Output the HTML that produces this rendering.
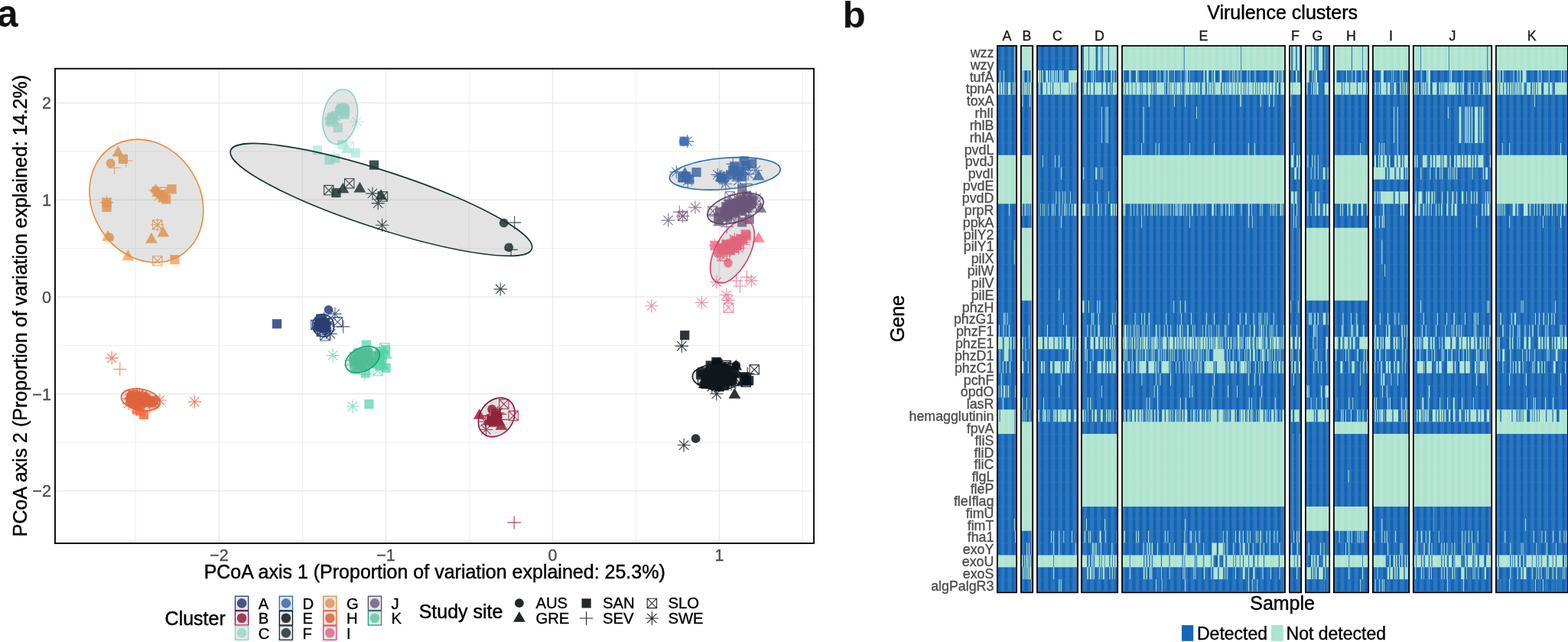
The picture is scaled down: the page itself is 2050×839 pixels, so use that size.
<!DOCTYPE html>
<html lang="en"><head><meta charset="utf-8"><title>PCoA and virulence clusters</title>
<style>html,body{margin:0;padding:0;background:#fff;}body{width:2050px;height:839px;overflow:hidden;}svg{display:block;}text{font-family:"Liberation Sans", Arial, Helvetica, sans-serif;}</style></head><body>
<svg width="2050" height="839" viewBox="0 0 2050 839" role="img" aria-label="PCoA scatter plot of virulence clusters and virulence gene heatmap">
<rect width="2050" height="839" fill="#fff"/>
<text x="-4.1" y="35.4" font-size="49.6" font-weight="700" fill="#111" stroke="none">a</text>
<text x="1101.7" y="35.5" font-size="49" font-weight="700" fill="#111" stroke="none">b</text>
<g id="scatter">
<path d="M177.4 89.7V710.0M395.4 89.7V710.0M613.4 89.7V710.0M831.4 89.7V710.0M1049.4 89.7V710.0M72.0 704.9H1064.1M72.0 578.1H1064.1M72.0 451.4H1064.1M72.0 324.6H1064.1M72.0 197.9H1064.1" stroke="#ebebeb" stroke-width="0.8" fill="none"/>
<path d="M286.4 89.7V710.0M504.4 89.7V710.0M722.4 89.7V710.0M940.4 89.7V710.0M72.0 641.5H1064.1M72.0 514.8H1064.1M72.0 388.0H1064.1M72.0 261.2H1064.1M72.0 134.5H1064.1" stroke="#ebebeb" stroke-width="1.5" fill="none"/>
<g transform="translate(0.2 0.35)">
<g id="pts-G">
<path d="M154.1 190.2l7.9 13.9h-15.8z" fill="#f9a45a" fill-opacity="0.85"/>
<rect x="154.6" y="201.4" width="12.2" height="12.2" fill="#f9a45a" fill-opacity="0.85"/>
<path d="M155.7 209.7h17.4M164.4 201.0v17.4" stroke="#f9a45a" stroke-opacity="0.85" stroke-width="1.1" fill="none"/>
<circle cx="144.4" cy="212.9" r="5.9" fill="#f9a45a" fill-opacity="0.85"/>
<path d="M140.6 218.9h17.4M149.3 210.2v17.4" stroke="#f9a45a" stroke-opacity="0.85" stroke-width="1.1" fill="none"/>
<circle cx="203.0" cy="248.3" r="5.9" fill="#f9a45a" fill-opacity="0.85"/>
<path d="M194.3 248.3h17.4M203.0 239.6v17.4" stroke="#f9a45a" stroke-opacity="0.85" stroke-width="1.1" fill="none"/>
<path d="M205.0 241.3v17.4M198.8 243.8l12.3 12.3M211.2 243.8l-12.3 12.3M196.3 250.0h17.4" stroke="#f9a45a" stroke-opacity="0.85" stroke-width="1.1" fill="none"/>
<rect x="218.3" y="240.7" width="12.2" height="12.2" fill="#f9a45a" fill-opacity="0.85"/>
<rect x="210.9" y="253.9" width="12.2" height="12.2" fill="#f9a45a" fill-opacity="0.85"/>
<rect x="205.5" y="247.6" width="12.2" height="12.2" fill="#f9a45a" fill-opacity="0.85"/>
<path d="M207.3 247.1v17.4M201.2 249.7l12.3 12.3M213.5 249.7l-12.3 12.3M198.6 255.8h17.4" stroke="#f9a45a" stroke-opacity="0.85" stroke-width="1.1" fill="none"/>
<circle cx="206.0" cy="252.0" r="5.9" fill="#f9a45a" fill-opacity="0.85"/>
<path d="M200.3 256.0h17.4M209.0 247.3v17.4" stroke="#f9a45a" stroke-opacity="0.85" stroke-width="1.1" fill="none"/>
<rect x="207.9" y="250.9" width="12.2" height="12.2" fill="#f9a45a" fill-opacity="0.85"/>
<path d="M205.8 244.8h12.4v12.4h-12.4zl12.4 12.4m0 -12.4l-12.4 12.4" stroke="#f9a45a" stroke-opacity="0.85" stroke-width="1.1" fill="none"/>
<rect x="133.2" y="258.3" width="12.2" height="12.2" fill="#f9a45a" fill-opacity="0.85"/>
<path d="M139.3 255.3v17.4M133.2 257.9l12.3 12.3M145.5 257.9l-12.3 12.3M130.6 264.0h17.4" stroke="#f9a45a" stroke-opacity="0.85" stroke-width="1.1" fill="none"/>
<path d="M130.6 264.4h17.4M139.3 255.7v17.4" stroke="#f9a45a" stroke-opacity="0.85" stroke-width="1.1" fill="none"/>
<rect x="133.2" y="264.4" width="12.2" height="12.2" fill="#f9a45a" fill-opacity="0.85"/>
<path d="M199.4 287.2h12.4v12.4h-12.4zl12.4 12.4m0 -12.4l-12.4 12.4" stroke="#f9a45a" stroke-opacity="0.85" stroke-width="1.1" fill="none"/>
<path d="M205.6 284.7v17.4M199.4 287.2l12.3 12.3M211.8 287.2l-12.3 12.3M196.9 293.4h17.4" stroke="#f9a45a" stroke-opacity="0.85" stroke-width="1.1" fill="none"/>
<path d="M213.1 295.2l7.9 13.9h-15.8z" fill="#f9a45a" fill-opacity="0.85"/>
<path d="M197.8 303.4l7.9 13.9h-15.8z" fill="#f9a45a" fill-opacity="0.85"/>
<path d="M140.8 300.4l7.9 13.9h-15.8z" fill="#f9a45a" fill-opacity="0.85"/>
<circle cx="143.0" cy="309.8" r="5.9" fill="#f9a45a" fill-opacity="0.85"/>
<path d="M167.2 326.0l7.9 13.9h-15.8z" fill="#f9a45a" fill-opacity="0.85"/>
<path d="M199.4 334.4h12.4v12.4h-12.4zl12.4 12.4m0 -12.4l-12.4 12.4" stroke="#f9a45a" stroke-opacity="0.85" stroke-width="1.1" fill="none"/>
<rect x="222.2" y="332.8" width="12.2" height="12.2" fill="#f9a45a" fill-opacity="0.85"/>
</g>
<g id="pts-C">
<path d="M446.8 136.2v17.4M440.6 138.8l12.3 12.3M452.9 138.8l-12.3 12.3M438.1 144.9h17.4" stroke="#a5e9d9" stroke-opacity="0.72" stroke-width="1.1" fill="none"/>
<path d="M445.4 136.7v17.4M439.3 139.3l12.3 12.3M451.6 139.3l-12.3 12.3M436.7 145.4h17.4" stroke="#a5e9d9" stroke-opacity="0.72" stroke-width="1.1" fill="none"/>
<rect x="444.1" y="140.5" width="12.2" height="12.2" fill="#a5e9d9" fill-opacity="0.72"/>
<rect x="444.5" y="139.0" width="12.2" height="12.2" fill="#a5e9d9" fill-opacity="0.72"/>
<rect x="439.0" y="136.7" width="12.2" height="12.2" fill="#a5e9d9" fill-opacity="0.72"/>
<path d="M447.5 133.9v17.4M441.4 136.5l12.3 12.3M453.7 136.5l-12.3 12.3M438.8 142.6h17.4" stroke="#a5e9d9" stroke-opacity="0.72" stroke-width="1.1" fill="none"/>
<rect x="441.5" y="135.2" width="12.2" height="12.2" fill="#a5e9d9" fill-opacity="0.72"/>
<rect x="440.4" y="134.7" width="12.2" height="12.2" fill="#a5e9d9" fill-opacity="0.72"/>
<path d="M450.4 135.9v17.4M444.3 138.4l12.3 12.3M456.6 138.4l-12.3 12.3M441.7 144.6h17.4" stroke="#a5e9d9" stroke-opacity="0.72" stroke-width="1.1" fill="none"/>
<path d="M437.7 141.6h17.4M446.4 132.9v17.4" stroke="#a5e9d9" stroke-opacity="0.72" stroke-width="1.1" fill="none"/>
<path d="M445.6 137.0v17.4M439.5 139.5l12.3 12.3M451.8 139.5l-12.3 12.3M436.9 145.7h17.4" stroke="#a5e9d9" stroke-opacity="0.72" stroke-width="1.1" fill="none"/>
<rect x="441.6" y="135.7" width="12.2" height="12.2" fill="#a5e9d9" fill-opacity="0.72"/>
<rect x="441.5" y="138.4" width="12.2" height="12.2" fill="#a5e9d9" fill-opacity="0.72"/>
<path d="M448.7 133.3v17.4M442.6 135.8l12.3 12.3M454.9 135.8l-12.3 12.3M440.0 142.0h17.4" stroke="#a5e9d9" stroke-opacity="0.72" stroke-width="1.1" fill="none"/>
<rect x="442.6" y="137.9" width="12.2" height="12.2" fill="#a5e9d9" fill-opacity="0.72"/>
<path d="M439.9 140.5h12.4v12.4h-12.4zl12.4 12.4m0 -12.4l-12.4 12.4" stroke="#a5e9d9" stroke-opacity="0.72" stroke-width="1.1" fill="none"/>
<rect x="443.4" y="138.1" width="12.2" height="12.2" fill="#a5e9d9" fill-opacity="0.72"/>
<rect x="444.1" y="143.2" width="12.2" height="12.2" fill="#a5e9d9" fill-opacity="0.72"/>
<path d="M438.6 139.1h12.4v12.4h-12.4zl12.4 12.4m0 -12.4l-12.4 12.4" stroke="#a5e9d9" stroke-opacity="0.72" stroke-width="1.1" fill="none"/>
<path d="M446.9 136.8v17.4M440.8 139.3l12.3 12.3M453.1 139.3l-12.3 12.3M438.2 145.5h17.4" stroke="#a5e9d9" stroke-opacity="0.72" stroke-width="1.1" fill="none"/>
<rect x="443.4" y="136.0" width="12.2" height="12.2" fill="#a5e9d9" fill-opacity="0.72"/>
<path d="M442.9 138.2h12.4v12.4h-12.4zl12.4 12.4m0 -12.4l-12.4 12.4" stroke="#a5e9d9" stroke-opacity="0.72" stroke-width="1.1" fill="none"/>
<path d="M434.3 144.6v17.4M428.1 147.1l12.3 12.3M440.4 147.1l-12.3 12.3M425.6 153.3h17.4" stroke="#a5e9d9" stroke-opacity="0.72" stroke-width="1.1" fill="none"/>
<path d="M434.1 145.5v17.4M428.0 148.0l12.3 12.3M440.3 148.0l-12.3 12.3M425.4 154.2h17.4" stroke="#a5e9d9" stroke-opacity="0.72" stroke-width="1.1" fill="none"/>
<path d="M434.6 144.4v17.4M428.4 146.9l12.3 12.3M440.7 146.9l-12.3 12.3M425.9 153.1h17.4" stroke="#a5e9d9" stroke-opacity="0.72" stroke-width="1.1" fill="none"/>
<path d="M433.0 146.3v17.4M426.8 148.9l12.3 12.3M439.1 148.9l-12.3 12.3M424.3 155.0h17.4" stroke="#a5e9d9" stroke-opacity="0.72" stroke-width="1.1" fill="none"/>
<circle cx="432.5" cy="155.6" r="5.9" fill="#a5e9d9" fill-opacity="0.72"/>
<path d="M424.3 155.3h17.4M433.0 146.6v17.4" stroke="#a5e9d9" stroke-opacity="0.72" stroke-width="1.1" fill="none"/>
<path d="M429.1 149.6h17.4M437.8 140.9v17.4" stroke="#a5e9d9" stroke-opacity="0.72" stroke-width="1.1" fill="none"/>
<path d="M434.6 145.8v17.4M428.4 148.3l12.3 12.3M440.7 148.3l-12.3 12.3M425.9 154.5h17.4" stroke="#a5e9d9" stroke-opacity="0.72" stroke-width="1.1" fill="none"/>
<rect x="425.0" y="151.3" width="12.2" height="12.2" fill="#a5e9d9" fill-opacity="0.72"/>
<path d="M435.3 146.2v17.4M429.1 148.7l12.3 12.3M441.4 148.7l-12.3 12.3M426.6 154.9h17.4" stroke="#a5e9d9" stroke-opacity="0.72" stroke-width="1.1" fill="none"/>
<path d="M427.8 152.4h12.4v12.4h-12.4zl12.4 12.4m0 -12.4l-12.4 12.4" stroke="#a5e9d9" stroke-opacity="0.72" stroke-width="1.1" fill="none"/>
<rect x="429.1" y="146.3" width="12.2" height="12.2" fill="#a5e9d9" fill-opacity="0.72"/>
<path d="M436.4 147.5v17.4M430.3 150.1l12.3 12.3M442.6 150.1l-12.3 12.3M427.7 156.2h17.4" stroke="#a5e9d9" stroke-opacity="0.72" stroke-width="1.1" fill="none"/>
<path d="M436.1 146.0v17.4M430.0 148.6l12.3 12.3M442.3 148.6l-12.3 12.3M427.4 154.7h17.4" stroke="#a5e9d9" stroke-opacity="0.72" stroke-width="1.1" fill="none"/>
<path d="M436.1 148.1v17.4M429.9 150.6l12.3 12.3M442.2 150.6l-12.3 12.3M427.4 156.8h17.4" stroke="#a5e9d9" stroke-opacity="0.72" stroke-width="1.1" fill="none"/>
<path d="M435.0 144.7v17.4M428.9 147.2l12.3 12.3M441.2 147.2l-12.3 12.3M426.3 153.4h17.4" stroke="#a5e9d9" stroke-opacity="0.72" stroke-width="1.1" fill="none"/>
<path d="M433.7 147.4v17.4M427.5 150.0l12.3 12.3M439.8 150.0l-12.3 12.3M425.0 156.1h17.4" stroke="#a5e9d9" stroke-opacity="0.72" stroke-width="1.1" fill="none"/>
<path d="M434.0 144.4v17.4M427.9 147.0l12.3 12.3M440.2 147.0l-12.3 12.3M425.3 153.1h17.4" stroke="#a5e9d9" stroke-opacity="0.72" stroke-width="1.1" fill="none"/>
<rect x="435.5" y="160.5" width="12.2" height="12.2" fill="#a5e9d9" fill-opacity="0.72"/>
<path d="M466.5 149.9v17.4M460.4 152.4l12.3 12.3M472.6 152.4l-12.3 12.3M457.8 158.6h17.4" stroke="#a5e9d9" stroke-opacity="0.72" stroke-width="1.1" fill="none"/>
<rect x="408.6" y="189.7" width="12.2" height="12.2" fill="#a5e9d9" fill-opacity="0.72"/>
<rect x="441.2" y="182.6" width="12.2" height="12.2" fill="#a5e9d9" fill-opacity="0.72"/>
<path d="M449.7 185.3h12.4v12.4h-12.4zl12.4 12.4m0 -12.4l-12.4 12.4" stroke="#a5e9d9" stroke-opacity="0.72" stroke-width="1.1" fill="none"/>
<path d="M453.6 186.0l7.9 13.9h-15.8z" fill="#a5e9d9" fill-opacity="0.72"/>
<rect x="458.4" y="193.2" width="12.2" height="12.2" fill="#a5e9d9" fill-opacity="0.72"/>
<rect x="424.1" y="202.6" width="12.2" height="12.2" fill="#a5e9d9" fill-opacity="0.72"/>
<rect x="431.8" y="200.3" width="12.2" height="12.2" fill="#a5e9d9" fill-opacity="0.72"/>
<path d="M428.3 204.0h17.4M437.0 195.3v17.4" stroke="#a5e9d9" stroke-opacity="0.72" stroke-width="1.1" fill="none"/>
</g>
<g id="pts-F">
<rect x="482.7" y="209.2" width="12.2" height="12.2" fill="#1b3330" fill-opacity="0.85"/>
<path d="M423.4 242.0h12.4v12.4h-12.4zl12.4 12.4m0 -12.4l-12.4 12.4" stroke="#1b3330" stroke-opacity="0.85" stroke-width="1.1" fill="none"/>
<rect x="433.2" y="245.5" width="12.2" height="12.2" fill="#1b3330" fill-opacity="0.85"/>
<path d="M448.2 238.1l7.9 13.9h-15.8z" fill="#1b3330" fill-opacity="0.85"/>
<path d="M450.3 233.1h12.4v12.4h-12.4zl12.4 12.4m0 -12.4l-12.4 12.4" stroke="#1b3330" stroke-opacity="0.85" stroke-width="1.1" fill="none"/>
<path d="M470.2 237.2l7.9 13.9h-15.8z" fill="#1b3330" fill-opacity="0.85"/>
<path d="M486.8 243.8v17.4M480.7 246.3l12.3 12.3M492.9 246.3l-12.3 12.3M478.1 252.5h17.4" stroke="#1b3330" stroke-opacity="0.85" stroke-width="1.1" fill="none"/>
<path d="M498.0 246.7l7.9 13.9h-15.8z" fill="#1b3330" fill-opacity="0.85"/>
<path d="M494.0 250.3h12.4v12.4h-12.4zl12.4 12.4m0 -12.4l-12.4 12.4" stroke="#1b3330" stroke-opacity="0.85" stroke-width="1.1" fill="none"/>
<path d="M494.0 256.6v17.4M487.9 259.2l12.3 12.3M500.1 259.2l-12.3 12.3M485.3 265.3h17.4" stroke="#1b3330" stroke-opacity="0.85" stroke-width="1.1" fill="none"/>
<path d="M499.4 285.2v17.4M493.2 287.8l12.3 12.3M505.5 287.8l-12.3 12.3M490.7 293.9h17.4" stroke="#1b3330" stroke-opacity="0.85" stroke-width="1.1" fill="none"/>
<circle cx="658.5" cy="291.0" r="5.9" fill="#1b3330" fill-opacity="0.85"/>
<path d="M663.8 290.5h17.4M672.5 281.8v17.4" stroke="#1b3330" stroke-opacity="0.85" stroke-width="1.1" fill="none"/>
<circle cx="665.0" cy="323.0" r="5.9" fill="#1b3330" fill-opacity="0.85"/>
<path d="M659.3 326.0h17.4M668.0 317.3v17.4" stroke="#1b3330" stroke-opacity="0.85" stroke-width="1.1" fill="none"/>
<path d="M654.0 368.8v17.4M647.9 371.4l12.3 12.3M660.1 371.4l-12.3 12.3M645.3 377.5h17.4" stroke="#1b3330" stroke-opacity="0.85" stroke-width="1.1" fill="none"/>
</g>
<g id="pts-A">
<path d="M411.5 421.0h17.4M420.2 412.3v17.4" stroke="#283d7a" stroke-opacity="0.85" stroke-width="1.1" fill="none"/>
<rect x="412.7" y="416.0" width="12.2" height="12.2" fill="#283d7a" fill-opacity="0.85"/>
<path d="M418.4 421.2h12.4v12.4h-12.4zl12.4 12.4m0 -12.4l-12.4 12.4" stroke="#283d7a" stroke-opacity="0.85" stroke-width="1.1" fill="none"/>
<path d="M415.7 424.2h12.4v12.4h-12.4zl12.4 12.4m0 -12.4l-12.4 12.4" stroke="#283d7a" stroke-opacity="0.85" stroke-width="1.1" fill="none"/>
<path d="M406.5 428.4h17.4M415.2 419.7v17.4" stroke="#283d7a" stroke-opacity="0.85" stroke-width="1.1" fill="none"/>
<rect x="414.8" y="420.7" width="12.2" height="12.2" fill="#283d7a" fill-opacity="0.85"/>
<rect x="418.0" y="421.5" width="12.2" height="12.2" fill="#283d7a" fill-opacity="0.85"/>
<path d="M413.9 426.6h12.4v12.4h-12.4zl12.4 12.4m0 -12.4l-12.4 12.4" stroke="#283d7a" stroke-opacity="0.85" stroke-width="1.1" fill="none"/>
<path d="M421.5 414.4v17.4M415.3 416.9l12.3 12.3M427.6 416.9l-12.3 12.3M412.8 423.1h17.4" stroke="#283d7a" stroke-opacity="0.85" stroke-width="1.1" fill="none"/>
<circle cx="420.4" cy="424.9" r="5.9" fill="#283d7a" fill-opacity="0.85"/>
<circle cx="420.7" cy="429.1" r="5.9" fill="#283d7a" fill-opacity="0.85"/>
<path d="M414.3 425.6h17.4M423.0 416.9v17.4" stroke="#283d7a" stroke-opacity="0.85" stroke-width="1.1" fill="none"/>
<path d="M417.6 423.8h17.4M426.3 415.1v17.4" stroke="#283d7a" stroke-opacity="0.85" stroke-width="1.1" fill="none"/>
<rect x="413.8" y="417.3" width="12.2" height="12.2" fill="#283d7a" fill-opacity="0.85"/>
<path d="M424.8 413.8v17.4M418.7 416.4l12.3 12.3M431.0 416.4l-12.3 12.3M416.1 422.5h17.4" stroke="#283d7a" stroke-opacity="0.85" stroke-width="1.1" fill="none"/>
<rect x="412.8" y="410.0" width="12.2" height="12.2" fill="#283d7a" fill-opacity="0.85"/>
<rect x="414.3" y="417.5" width="12.2" height="12.2" fill="#283d7a" fill-opacity="0.85"/>
<rect x="415.0" y="415.1" width="12.2" height="12.2" fill="#283d7a" fill-opacity="0.85"/>
<rect x="419.1" y="420.6" width="12.2" height="12.2" fill="#283d7a" fill-opacity="0.85"/>
<circle cx="425.9" cy="420.9" r="5.9" fill="#283d7a" fill-opacity="0.85"/>
<path d="M423.5 407.7v17.4M417.3 410.2l12.3 12.3M429.6 410.2l-12.3 12.3M414.8 416.4h17.4" stroke="#283d7a" stroke-opacity="0.85" stroke-width="1.1" fill="none"/>
<rect x="418.6" y="420.6" width="12.2" height="12.2" fill="#283d7a" fill-opacity="0.85"/>
<rect x="417.8" y="415.5" width="12.2" height="12.2" fill="#283d7a" fill-opacity="0.85"/>
<path d="M424.3 412.1v17.4M418.2 414.6l12.3 12.3M430.5 414.6l-12.3 12.3M415.6 420.8h17.4" stroke="#283d7a" stroke-opacity="0.85" stroke-width="1.1" fill="none"/>
<rect x="415.0" y="418.8" width="12.2" height="12.2" fill="#283d7a" fill-opacity="0.85"/>
<path d="M419.4 420.9h12.4v12.4h-12.4zl12.4 12.4m0 -12.4l-12.4 12.4" stroke="#283d7a" stroke-opacity="0.85" stroke-width="1.1" fill="none"/>
<path d="M425.4 411.6v17.4M419.2 414.1l12.3 12.3M431.5 414.1l-12.3 12.3M416.7 420.3h17.4" stroke="#283d7a" stroke-opacity="0.85" stroke-width="1.1" fill="none"/>
<path d="M417.5 422.2h17.4M426.2 413.5v17.4" stroke="#283d7a" stroke-opacity="0.85" stroke-width="1.1" fill="none"/>
<rect x="409.5" y="421.0" width="12.2" height="12.2" fill="#283d7a" fill-opacity="0.85"/>
<path d="M411.4 417.8h12.4v12.4h-12.4zl12.4 12.4m0 -12.4l-12.4 12.4" stroke="#283d7a" stroke-opacity="0.85" stroke-width="1.1" fill="none"/>
<path d="M412.3 415.7h12.4v12.4h-12.4zl12.4 12.4m0 -12.4l-12.4 12.4" stroke="#283d7a" stroke-opacity="0.85" stroke-width="1.1" fill="none"/>
<path d="M414.4 424.0h17.4M423.1 415.3v17.4" stroke="#283d7a" stroke-opacity="0.85" stroke-width="1.1" fill="none"/>
<path d="M415.3 418.9h12.4v12.4h-12.4zl12.4 12.4m0 -12.4l-12.4 12.4" stroke="#283d7a" stroke-opacity="0.85" stroke-width="1.1" fill="none"/>
<path d="M415.6 428.6h17.4M424.3 419.9v17.4" stroke="#283d7a" stroke-opacity="0.85" stroke-width="1.1" fill="none"/>
<path d="M416.3 431.7h17.4M425.0 423.0v17.4" stroke="#283d7a" stroke-opacity="0.85" stroke-width="1.1" fill="none"/>
<path d="M419.0 415.8v17.4M412.9 418.4l12.3 12.3M425.2 418.4l-12.3 12.3M410.3 424.5h17.4" stroke="#283d7a" stroke-opacity="0.85" stroke-width="1.1" fill="none"/>
<rect x="355.8" y="416.8" width="12.2" height="12.2" fill="#283d7a" fill-opacity="0.85"/>
<circle cx="429.4" cy="404.6" r="5.9" fill="#283d7a" fill-opacity="0.85"/>
<path d="M437.7 401.1v17.4M431.6 403.7l12.3 12.3M443.8 403.7l-12.3 12.3M429.0 409.8h17.4" stroke="#283d7a" stroke-opacity="0.85" stroke-width="1.1" fill="none"/>
<path d="M435.1 414.3h12.4v12.4h-12.4zl12.4 12.4m0 -12.4l-12.4 12.4" stroke="#283d7a" stroke-opacity="0.85" stroke-width="1.1" fill="none"/>
<path d="M439.8 426.5h17.4M448.5 417.8v17.4" stroke="#283d7a" stroke-opacity="0.85" stroke-width="1.1" fill="none"/>
<path d="M418.4 432.2h12.4v12.4h-12.4zl12.4 12.4m0 -12.4l-12.4 12.4" stroke="#283d7a" stroke-opacity="0.85" stroke-width="1.1" fill="none"/>
<path d="M406.5 417.9h12.4v12.4h-12.4zl12.4 12.4m0 -12.4l-12.4 12.4" stroke="#283d7a" stroke-opacity="0.85" stroke-width="1.1" fill="none"/>
<path d="M431.8 427.3v17.4M425.7 429.9l12.3 12.3M437.9 429.9l-12.3 12.3M423.1 436.0h17.4" stroke="#283d7a" stroke-opacity="0.85" stroke-width="1.1" fill="none"/>
</g>
<g id="pts-K">
<path d="M471.2 459.1v17.4M465.0 461.6l12.3 12.3M477.3 461.6l-12.3 12.3M462.5 467.8h17.4" stroke="#55d4a5" stroke-opacity="0.72" stroke-width="1.1" fill="none"/>
<path d="M471.2 455.4h12.4v12.4h-12.4zl12.4 12.4m0 -12.4l-12.4 12.4" stroke="#55d4a5" stroke-opacity="0.72" stroke-width="1.1" fill="none"/>
<path d="M478.5 457.0v17.4M472.4 459.6l12.3 12.3M484.7 459.6l-12.3 12.3M469.8 465.7h17.4" stroke="#55d4a5" stroke-opacity="0.72" stroke-width="1.1" fill="none"/>
<path d="M474.4 463.6v17.4M468.3 466.1l12.3 12.3M480.6 466.1l-12.3 12.3M465.7 472.3h17.4" stroke="#55d4a5" stroke-opacity="0.72" stroke-width="1.1" fill="none"/>
<rect x="474.5" y="454.5" width="12.2" height="12.2" fill="#55d4a5" fill-opacity="0.72"/>
<path d="M478.9 459.9l7.9 13.9h-15.8z" fill="#55d4a5" fill-opacity="0.72"/>
<path d="M473.3 466.0h12.4v12.4h-12.4zl12.4 12.4m0 -12.4l-12.4 12.4" stroke="#55d4a5" stroke-opacity="0.72" stroke-width="1.1" fill="none"/>
<path d="M468.1 465.2h17.4M476.8 456.5v17.4" stroke="#55d4a5" stroke-opacity="0.72" stroke-width="1.1" fill="none"/>
<path d="M458.7 471.5h17.4M467.4 462.8v17.4" stroke="#55d4a5" stroke-opacity="0.72" stroke-width="1.1" fill="none"/>
<path d="M461.7 473.1h12.4v12.4h-12.4zl12.4 12.4m0 -12.4l-12.4 12.4" stroke="#55d4a5" stroke-opacity="0.72" stroke-width="1.1" fill="none"/>
<path d="M468.7 462.5h12.4v12.4h-12.4zl12.4 12.4m0 -12.4l-12.4 12.4" stroke="#55d4a5" stroke-opacity="0.72" stroke-width="1.1" fill="none"/>
<rect x="462.0" y="463.3" width="12.2" height="12.2" fill="#55d4a5" fill-opacity="0.72"/>
<path d="M462.8 461.0h12.4v12.4h-12.4zl12.4 12.4m0 -12.4l-12.4 12.4" stroke="#55d4a5" stroke-opacity="0.72" stroke-width="1.1" fill="none"/>
<path d="M480.3 462.4h12.4v12.4h-12.4zl12.4 12.4m0 -12.4l-12.4 12.4" stroke="#55d4a5" stroke-opacity="0.72" stroke-width="1.1" fill="none"/>
<rect x="469.7" y="455.0" width="12.2" height="12.2" fill="#55d4a5" fill-opacity="0.72"/>
<path d="M464.2 465.5v17.4M458.0 468.1l12.3 12.3M470.3 468.1l-12.3 12.3M455.5 474.2h17.4" stroke="#55d4a5" stroke-opacity="0.72" stroke-width="1.1" fill="none"/>
<path d="M477.6 459.7h12.4v12.4h-12.4zl12.4 12.4m0 -12.4l-12.4 12.4" stroke="#55d4a5" stroke-opacity="0.72" stroke-width="1.1" fill="none"/>
<rect x="469.8" y="460.1" width="12.2" height="12.2" fill="#55d4a5" fill-opacity="0.72"/>
<rect x="467.7" y="457.9" width="12.2" height="12.2" fill="#55d4a5" fill-opacity="0.72"/>
<path d="M475.9 464.2v17.4M469.8 466.8l12.3 12.3M482.1 466.8l-12.3 12.3M467.2 472.9h17.4" stroke="#55d4a5" stroke-opacity="0.72" stroke-width="1.1" fill="none"/>
<path d="M449.4 470.4h17.4M458.1 461.7v17.4" stroke="#55d4a5" stroke-opacity="0.72" stroke-width="1.1" fill="none"/>
<path d="M464.7 457.9v17.4M458.5 460.5l12.3 12.3M470.8 460.5l-12.3 12.3M456.0 466.6h17.4" stroke="#55d4a5" stroke-opacity="0.72" stroke-width="1.1" fill="none"/>
<path d="M473.6 456.4h12.4v12.4h-12.4zl12.4 12.4m0 -12.4l-12.4 12.4" stroke="#55d4a5" stroke-opacity="0.72" stroke-width="1.1" fill="none"/>
<path d="M487.4 464.1v17.4M481.2 466.6l12.3 12.3M493.5 466.6l-12.3 12.3M478.7 472.8h17.4" stroke="#55d4a5" stroke-opacity="0.72" stroke-width="1.1" fill="none"/>
<rect x="472.7" y="466.6" width="12.2" height="12.2" fill="#55d4a5" fill-opacity="0.72"/>
<path d="M458.3 475.7h17.4M467.0 467.0v17.4" stroke="#55d4a5" stroke-opacity="0.72" stroke-width="1.1" fill="none"/>
<path d="M469.7 458.5h17.4M478.4 449.8v17.4" stroke="#55d4a5" stroke-opacity="0.72" stroke-width="1.1" fill="none"/>
<rect x="458.2" y="476.4" width="12.2" height="12.2" fill="#55d4a5" fill-opacity="0.72"/>
<rect x="465.1" y="455.7" width="12.2" height="12.2" fill="#55d4a5" fill-opacity="0.72"/>
<rect x="470.8" y="473.1" width="12.2" height="12.2" fill="#55d4a5" fill-opacity="0.72"/>
<path d="M482.1 458.6v17.4M475.9 461.2l12.3 12.3M488.2 461.2l-12.3 12.3M473.4 467.3h17.4" stroke="#55d4a5" stroke-opacity="0.72" stroke-width="1.1" fill="none"/>
<rect x="466.6" y="471.6" width="12.2" height="12.2" fill="#55d4a5" fill-opacity="0.72"/>
<path d="M463.1 472.0h17.4M471.8 463.3v17.4" stroke="#55d4a5" stroke-opacity="0.72" stroke-width="1.1" fill="none"/>
<path d="M463.3 468.8h12.4v12.4h-12.4zl12.4 12.4m0 -12.4l-12.4 12.4" stroke="#55d4a5" stroke-opacity="0.72" stroke-width="1.1" fill="none"/>
<rect x="465.7" y="464.3" width="12.2" height="12.2" fill="#55d4a5" fill-opacity="0.72"/>
<path d="M463.1 470.9h17.4M471.8 462.2v17.4" stroke="#55d4a5" stroke-opacity="0.72" stroke-width="1.1" fill="none"/>
<path d="M467.2 470.8l7.9 13.9h-15.8z" fill="#55d4a5" fill-opacity="0.72"/>
<path d="M449.4 476.9h17.4M458.1 468.2v17.4" stroke="#55d4a5" stroke-opacity="0.72" stroke-width="1.1" fill="none"/>
<path d="M470.5 462.6h17.4M479.2 453.9v17.4" stroke="#55d4a5" stroke-opacity="0.72" stroke-width="1.1" fill="none"/>
<path d="M457.9 462.3h12.4v12.4h-12.4zl12.4 12.4m0 -12.4l-12.4 12.4" stroke="#55d4a5" stroke-opacity="0.72" stroke-width="1.1" fill="none"/>
<path d="M456.5 474.0h17.4M465.2 465.3v17.4" stroke="#55d4a5" stroke-opacity="0.72" stroke-width="1.1" fill="none"/>
<path d="M459.3 466.7h17.4M468.0 458.0v17.4" stroke="#55d4a5" stroke-opacity="0.72" stroke-width="1.1" fill="none"/>
<path d="M466.9 471.0h12.4v12.4h-12.4zl12.4 12.4m0 -12.4l-12.4 12.4" stroke="#55d4a5" stroke-opacity="0.72" stroke-width="1.1" fill="none"/>
<path d="M463.5 472.8h17.4M472.2 464.1v17.4" stroke="#55d4a5" stroke-opacity="0.72" stroke-width="1.1" fill="none"/>
<path d="M458.3 464.8h12.4v12.4h-12.4zl12.4 12.4m0 -12.4l-12.4 12.4" stroke="#55d4a5" stroke-opacity="0.72" stroke-width="1.1" fill="none"/>
<rect x="464.5" y="465.8" width="12.2" height="12.2" fill="#55d4a5" fill-opacity="0.72"/>
<rect x="466.1" y="463.5" width="12.2" height="12.2" fill="#55d4a5" fill-opacity="0.72"/>
<rect x="460.4" y="464.9" width="12.2" height="12.2" fill="#55d4a5" fill-opacity="0.72"/>
<rect x="456.7" y="466.6" width="12.2" height="12.2" fill="#55d4a5" fill-opacity="0.72"/>
<path d="M480.5 457.6v17.4M474.4 460.1l12.3 12.3M486.7 460.1l-12.3 12.3M471.8 466.3h17.4" stroke="#55d4a5" stroke-opacity="0.72" stroke-width="1.1" fill="none"/>
<path d="M472.5 467.8l7.9 13.9h-15.8z" fill="#55d4a5" fill-opacity="0.72"/>
<path d="M456.8 480.4h17.4M465.5 471.7v17.4" stroke="#55d4a5" stroke-opacity="0.72" stroke-width="1.1" fill="none"/>
<path d="M470.2 461.7v17.4M464.0 464.2l12.3 12.3M476.3 464.2l-12.3 12.3M461.5 470.4h17.4" stroke="#55d4a5" stroke-opacity="0.72" stroke-width="1.1" fill="none"/>
<path d="M461.7 457.4l7.9 13.9h-15.8z" fill="#55d4a5" fill-opacity="0.72"/>
<rect x="461.7" y="454.6" width="12.2" height="12.2" fill="#55d4a5" fill-opacity="0.72"/>
<path d="M469.0 466.6h12.4v12.4h-12.4zl12.4 12.4m0 -12.4l-12.4 12.4" stroke="#55d4a5" stroke-opacity="0.72" stroke-width="1.1" fill="none"/>
<path d="M461.9 474.6h17.4M470.6 465.9v17.4" stroke="#55d4a5" stroke-opacity="0.72" stroke-width="1.1" fill="none"/>
<rect x="476.4" y="466.7" width="12.2" height="12.2" fill="#55d4a5" fill-opacity="0.72"/>
<path d="M473.1 457.2h12.4v12.4h-12.4zl12.4 12.4m0 -12.4l-12.4 12.4" stroke="#55d4a5" stroke-opacity="0.72" stroke-width="1.1" fill="none"/>
<rect x="463.1" y="455.5" width="12.2" height="12.2" fill="#55d4a5" fill-opacity="0.72"/>
<path d="M459.7 474.6h17.4M468.4 465.9v17.4" stroke="#55d4a5" stroke-opacity="0.72" stroke-width="1.1" fill="none"/>
<path d="M458.3 467.4h17.4M467.0 458.7v17.4" stroke="#55d4a5" stroke-opacity="0.72" stroke-width="1.1" fill="none"/>
<path d="M459.3 466.7h17.4M468.0 458.0v17.4" stroke="#55d4a5" stroke-opacity="0.72" stroke-width="1.1" fill="none"/>
<path d="M456.8 460.0h12.4v12.4h-12.4zl12.4 12.4m0 -12.4l-12.4 12.4" stroke="#55d4a5" stroke-opacity="0.72" stroke-width="1.1" fill="none"/>
<path d="M492.8 456.1h12.4v12.4h-12.4zl12.4 12.4m0 -12.4l-12.4 12.4" stroke="#55d4a5" stroke-opacity="0.72" stroke-width="1.1" fill="none"/>
<path d="M490.4 457.8h12.4v12.4h-12.4zl12.4 12.4m0 -12.4l-12.4 12.4" stroke="#55d4a5" stroke-opacity="0.72" stroke-width="1.1" fill="none"/>
<rect x="489.4" y="458.6" width="12.2" height="12.2" fill="#55d4a5" fill-opacity="0.72"/>
<rect x="488.9" y="459.1" width="12.2" height="12.2" fill="#55d4a5" fill-opacity="0.72"/>
<path d="M494.4 462.7l7.9 13.9h-15.8z" fill="#55d4a5" fill-opacity="0.72"/>
<path d="M500.7 468.9l7.9 13.9h-15.8z" fill="#55d4a5" fill-opacity="0.72"/>
<rect x="479.4" y="458.5" width="12.2" height="12.2" fill="#55d4a5" fill-opacity="0.72"/>
<rect x="480.7" y="468.9" width="12.2" height="12.2" fill="#55d4a5" fill-opacity="0.72"/>
<path d="M492.1 467.7h12.4v12.4h-12.4zl12.4 12.4m0 -12.4l-12.4 12.4" stroke="#55d4a5" stroke-opacity="0.72" stroke-width="1.1" fill="none"/>
<rect x="497.9" y="450.8" width="12.2" height="12.2" fill="#55d4a5" fill-opacity="0.72"/>
<rect x="472.6" y="444.2" width="12.2" height="12.2" fill="#55d4a5" fill-opacity="0.72"/>
<rect x="491.2" y="452.6" width="12.2" height="12.2" fill="#55d4a5" fill-opacity="0.72"/>
<path d="M496.4 448.2h12.4v12.4h-12.4zl12.4 12.4m0 -12.4l-12.4 12.4" stroke="#55d4a5" stroke-opacity="0.72" stroke-width="1.1" fill="none"/>
<path d="M504.5 454.4l7.9 13.9h-15.8z" fill="#55d4a5" fill-opacity="0.72"/>
<rect x="498.4" y="474.5" width="12.2" height="12.2" fill="#55d4a5" fill-opacity="0.72"/>
<path d="M487.6 478.0h12.4v12.4h-12.4zl12.4 12.4m0 -12.4l-12.4 12.4" stroke="#55d4a5" stroke-opacity="0.72" stroke-width="1.1" fill="none"/>
<rect x="471.7" y="481.2" width="12.2" height="12.2" fill="#55d4a5" fill-opacity="0.72"/>
<path d="M468.3 488.5h17.4M477.0 479.8v17.4" stroke="#55d4a5" stroke-opacity="0.72" stroke-width="1.1" fill="none"/>
<path d="M434.9 455.4v17.4M428.8 458.0l12.3 12.3M441.0 458.0l-12.3 12.3M426.2 464.1h17.4" stroke="#55d4a5" stroke-opacity="0.72" stroke-width="1.1" fill="none"/>
<path d="M460.9 522.0v17.4M454.8 524.6l12.3 12.3M467.0 524.6l-12.3 12.3M452.2 530.7h17.4" stroke="#55d4a5" stroke-opacity="0.72" stroke-width="1.1" fill="none"/>
<rect x="476.2" y="521.7" width="12.2" height="12.2" fill="#55d4a5" fill-opacity="0.72"/>
<rect x="492.9" y="463.9" width="12.2" height="12.2" fill="#55d4a5" fill-opacity="0.72"/>
<rect x="489.9" y="471.9" width="12.2" height="12.2" fill="#55d4a5" fill-opacity="0.72"/>
</g>
<g id="pts-H">
<path d="M179.7 507.6v17.4M173.6 510.2l12.3 12.3M185.9 510.2l-12.3 12.3M171.0 516.3h17.4" stroke="#fa693c" stroke-opacity="0.85" stroke-width="1.1" fill="none"/>
<path d="M161.8 520.7h17.4M170.5 512.0v17.4" stroke="#fa693c" stroke-opacity="0.85" stroke-width="1.1" fill="none"/>
<rect x="180.0" y="511.9" width="12.2" height="12.2" fill="#fa693c" fill-opacity="0.85"/>
<circle cx="193.1" cy="524.1" r="5.9" fill="#fa693c" fill-opacity="0.85"/>
<path d="M182.1 520.2h17.4M190.8 511.5v17.4" stroke="#fa693c" stroke-opacity="0.85" stroke-width="1.1" fill="none"/>
<path d="M176.5 524.6h17.4M185.2 515.9v17.4" stroke="#fa693c" stroke-opacity="0.85" stroke-width="1.1" fill="none"/>
<rect x="194.9" y="517.1" width="12.2" height="12.2" fill="#fa693c" fill-opacity="0.85"/>
<path d="M172.9 514.4h12.4v12.4h-12.4zl12.4 12.4m0 -12.4l-12.4 12.4" stroke="#fa693c" stroke-opacity="0.85" stroke-width="1.1" fill="none"/>
<path d="M186.3 514.4v17.4M180.1 517.0l12.3 12.3M192.4 517.0l-12.3 12.3M177.6 523.1h17.4" stroke="#fa693c" stroke-opacity="0.85" stroke-width="1.1" fill="none"/>
<path d="M173.3 513.3v17.4M167.2 515.9l12.3 12.3M179.5 515.9l-12.3 12.3M164.6 522.0h17.4" stroke="#fa693c" stroke-opacity="0.85" stroke-width="1.1" fill="none"/>
<rect x="178.9" y="519.8" width="12.2" height="12.2" fill="#fa693c" fill-opacity="0.85"/>
<path d="M179.7 514.0h12.4v12.4h-12.4zl12.4 12.4m0 -12.4l-12.4 12.4" stroke="#fa693c" stroke-opacity="0.85" stroke-width="1.1" fill="none"/>
<path d="M169.3 524.4h17.4M178.0 515.7v17.4" stroke="#fa693c" stroke-opacity="0.85" stroke-width="1.1" fill="none"/>
<rect x="174.0" y="514.5" width="12.2" height="12.2" fill="#fa693c" fill-opacity="0.85"/>
<path d="M181.5 514.6v17.4M175.3 517.2l12.3 12.3M187.6 517.2l-12.3 12.3M172.8 523.3h17.4" stroke="#fa693c" stroke-opacity="0.85" stroke-width="1.1" fill="none"/>
<path d="M178.2 511.7v17.4M172.0 514.3l12.3 12.3M184.3 514.3l-12.3 12.3M169.5 520.4h17.4" stroke="#fa693c" stroke-opacity="0.85" stroke-width="1.1" fill="none"/>
<rect x="179.0" y="513.3" width="12.2" height="12.2" fill="#fa693c" fill-opacity="0.85"/>
<path d="M182.5 506.5v17.4M176.4 509.0l12.3 12.3M188.7 509.0l-12.3 12.3M173.8 515.2h17.4" stroke="#fa693c" stroke-opacity="0.85" stroke-width="1.1" fill="none"/>
<circle cx="187.9" cy="525.1" r="5.9" fill="#fa693c" fill-opacity="0.85"/>
<path d="M169.5 515.2h17.4M178.2 506.5v17.4" stroke="#fa693c" stroke-opacity="0.85" stroke-width="1.1" fill="none"/>
<rect x="166.0" y="518.3" width="12.2" height="12.2" fill="#fa693c" fill-opacity="0.85"/>
<rect x="178.9" y="512.9" width="12.2" height="12.2" fill="#fa693c" fill-opacity="0.85"/>
<rect x="184.6" y="516.9" width="12.2" height="12.2" fill="#fa693c" fill-opacity="0.85"/>
<path d="M176.5 530.8h17.4M185.2 522.1v17.4" stroke="#fa693c" stroke-opacity="0.85" stroke-width="1.1" fill="none"/>
<path d="M168.0 526.3h17.4M176.7 517.6v17.4" stroke="#fa693c" stroke-opacity="0.85" stroke-width="1.1" fill="none"/>
<path d="M168.8 514.2h12.4v12.4h-12.4zl12.4 12.4m0 -12.4l-12.4 12.4" stroke="#fa693c" stroke-opacity="0.85" stroke-width="1.1" fill="none"/>
<path d="M175.0 507.8v17.4M168.9 510.3l12.3 12.3M181.2 510.3l-12.3 12.3M166.3 516.5h17.4" stroke="#fa693c" stroke-opacity="0.85" stroke-width="1.1" fill="none"/>
<rect x="178.6" y="516.0" width="12.2" height="12.2" fill="#fa693c" fill-opacity="0.85"/>
<path d="M182.6 510.2v17.4M176.4 512.8l12.3 12.3M188.7 512.8l-12.3 12.3M173.9 518.9h17.4" stroke="#fa693c" stroke-opacity="0.85" stroke-width="1.1" fill="none"/>
<path d="M169.1 511.7v17.4M163.0 514.3l12.3 12.3M175.3 514.3l-12.3 12.3M160.4 520.4h17.4" stroke="#fa693c" stroke-opacity="0.85" stroke-width="1.1" fill="none"/>
<path d="M180.6 522.8h17.4M189.3 514.1v17.4" stroke="#fa693c" stroke-opacity="0.85" stroke-width="1.1" fill="none"/>
<circle cx="191.6" cy="520.1" r="5.9" fill="#fa693c" fill-opacity="0.85"/>
<rect x="168.3" y="517.5" width="12.2" height="12.2" fill="#fa693c" fill-opacity="0.85"/>
<rect x="167.2" y="509.5" width="12.2" height="12.2" fill="#fa693c" fill-opacity="0.85"/>
<rect x="165.3" y="513.0" width="12.2" height="12.2" fill="#fa693c" fill-opacity="0.85"/>
<path d="M168.4 517.9v17.4M162.2 520.5l12.3 12.3M174.5 520.5l-12.3 12.3M159.7 526.6h17.4" stroke="#fa693c" stroke-opacity="0.85" stroke-width="1.1" fill="none"/>
<path d="M171.9 515.7h12.4v12.4h-12.4zl12.4 12.4m0 -12.4l-12.4 12.4" stroke="#fa693c" stroke-opacity="0.85" stroke-width="1.1" fill="none"/>
<path d="M172.3 510.9v17.4M166.2 513.4l12.3 12.3M178.5 513.4l-12.3 12.3M163.6 519.6h17.4" stroke="#fa693c" stroke-opacity="0.85" stroke-width="1.1" fill="none"/>
<circle cx="191.1" cy="521.4" r="5.9" fill="#fa693c" fill-opacity="0.85"/>
<circle cx="177.3" cy="523.5" r="5.9" fill="#fa693c" fill-opacity="0.85"/>
<circle cx="180.3" cy="527.3" r="5.9" fill="#fa693c" fill-opacity="0.85"/>
<path d="M185.2 520.6h17.4M193.9 511.9v17.4" stroke="#fa693c" stroke-opacity="0.85" stroke-width="1.1" fill="none"/>
<rect x="190.8" y="518.4" width="12.2" height="12.2" fill="#fa693c" fill-opacity="0.85"/>
<path d="M177.4 509.8v17.4M171.2 512.3l12.3 12.3M183.5 512.3l-12.3 12.3M168.7 518.5h17.4" stroke="#fa693c" stroke-opacity="0.85" stroke-width="1.1" fill="none"/>
<path d="M189.7 515.1v17.4M183.6 517.6l12.3 12.3M195.9 517.6l-12.3 12.3M181.0 523.8h17.4" stroke="#fa693c" stroke-opacity="0.85" stroke-width="1.1" fill="none"/>
<path d="M201.0 518.7v17.4M194.9 521.2l12.3 12.3M207.2 521.2l-12.3 12.3M192.3 527.4h17.4" stroke="#fa693c" stroke-opacity="0.85" stroke-width="1.1" fill="none"/>
<path d="M198.9 518.6v17.4M192.8 521.2l12.3 12.3M205.1 521.2l-12.3 12.3M190.2 527.3h17.4" stroke="#fa693c" stroke-opacity="0.85" stroke-width="1.1" fill="none"/>
<path d="M173.1 519.0h17.4M181.8 510.3v17.4" stroke="#fa693c" stroke-opacity="0.85" stroke-width="1.1" fill="none"/>
<path d="M180.4 516.7h12.4v12.4h-12.4zl12.4 12.4m0 -12.4l-12.4 12.4" stroke="#fa693c" stroke-opacity="0.85" stroke-width="1.1" fill="none"/>
<path d="M187.1 531.1h17.4M195.8 522.4v17.4" stroke="#fa693c" stroke-opacity="0.85" stroke-width="1.1" fill="none"/>
<path d="M179.8 511.8v17.4M173.6 514.4l12.3 12.3M185.9 514.4l-12.3 12.3M171.1 520.5h17.4" stroke="#fa693c" stroke-opacity="0.85" stroke-width="1.1" fill="none"/>
<rect x="171.6" y="516.1" width="12.2" height="12.2" fill="#fa693c" fill-opacity="0.85"/>
<path d="M180.0 514.8v17.4M173.9 517.3l12.3 12.3M186.2 517.3l-12.3 12.3M171.3 523.5h17.4" stroke="#fa693c" stroke-opacity="0.85" stroke-width="1.1" fill="none"/>
<path d="M165.4 516.7h12.4v12.4h-12.4zl12.4 12.4m0 -12.4l-12.4 12.4" stroke="#fa693c" stroke-opacity="0.85" stroke-width="1.1" fill="none"/>
<path d="M173.6 509.1v17.4M167.4 511.6l12.3 12.3M179.7 511.6l-12.3 12.3M164.9 517.8h17.4" stroke="#fa693c" stroke-opacity="0.85" stroke-width="1.1" fill="none"/>
<path d="M165.4 526.0h17.4M174.1 517.3v17.4" stroke="#fa693c" stroke-opacity="0.85" stroke-width="1.1" fill="none"/>
<path d="M187.1 521.4h17.4M195.8 512.7v17.4" stroke="#fa693c" stroke-opacity="0.85" stroke-width="1.1" fill="none"/>
<path d="M164.7 521.6h17.4M173.4 512.9v17.4" stroke="#fa693c" stroke-opacity="0.85" stroke-width="1.1" fill="none"/>
<path d="M185.5 508.2v17.4M179.3 510.7l12.3 12.3M191.6 510.7l-12.3 12.3M176.8 516.9h17.4" stroke="#fa693c" stroke-opacity="0.85" stroke-width="1.1" fill="none"/>
<path d="M172.6 527.1h17.4M181.3 518.4v17.4" stroke="#fa693c" stroke-opacity="0.85" stroke-width="1.1" fill="none"/>
<path d="M165.1 516.2h17.4M173.8 507.5v17.4" stroke="#fa693c" stroke-opacity="0.85" stroke-width="1.1" fill="none"/>
<path d="M183.5 521.5h17.4M192.2 512.8v17.4" stroke="#fa693c" stroke-opacity="0.85" stroke-width="1.1" fill="none"/>
<rect x="178.6" y="515.3" width="12.2" height="12.2" fill="#fa693c" fill-opacity="0.85"/>
<rect x="183.2" y="516.7" width="12.2" height="12.2" fill="#fa693c" fill-opacity="0.85"/>
<circle cx="180.3" cy="520.5" r="5.9" fill="#fa693c" fill-opacity="0.85"/>
<path d="M171.9 528.2h17.4M180.6 519.5v17.4" stroke="#fa693c" stroke-opacity="0.85" stroke-width="1.1" fill="none"/>
<path d="M172.0 510.5v17.4M165.9 513.0l12.3 12.3M178.2 513.0l-12.3 12.3M163.3 519.2h17.4" stroke="#fa693c" stroke-opacity="0.85" stroke-width="1.1" fill="none"/>
<path d="M175.4 512.9v17.4M169.2 515.5l12.3 12.3M181.5 515.5l-12.3 12.3M166.7 521.6h17.4" stroke="#fa693c" stroke-opacity="0.85" stroke-width="1.1" fill="none"/>
<rect x="169.4" y="520.6" width="12.2" height="12.2" fill="#fa693c" fill-opacity="0.85"/>
<path d="M177.2 518.2h17.4M185.9 509.5v17.4" stroke="#fa693c" stroke-opacity="0.85" stroke-width="1.1" fill="none"/>
<rect x="181.8" y="535.5" width="12.2" height="12.2" fill="#fa693c" fill-opacity="0.85"/>
<rect x="172.6" y="529.0" width="12.2" height="12.2" fill="#fa693c" fill-opacity="0.85"/>
<path d="M208.7 514.0v17.4M202.5 516.6l12.3 12.3M214.8 516.6l-12.3 12.3M200.0 522.7h17.4" stroke="#fa693c" stroke-opacity="0.85" stroke-width="1.1" fill="none"/>
<path d="M146.0 458.8v17.4M139.8 461.4l12.3 12.3M152.2 461.4l-12.3 12.3M137.3 467.5h17.4" stroke="#fa693c" stroke-opacity="0.85" stroke-width="1.1" fill="none"/>
<path d="M147.9 482.1h17.4M156.6 473.4v17.4" stroke="#fa693c" stroke-opacity="0.85" stroke-width="1.1" fill="none"/>
<path d="M254.2 516.1v17.4M248.0 518.6l12.3 12.3M260.3 518.6l-12.3 12.3M245.5 524.8h17.4" stroke="#fa693c" stroke-opacity="0.85" stroke-width="1.1" fill="none"/>
<rect x="176.9" y="530.9" width="12.2" height="12.2" fill="#fa693c" fill-opacity="0.85"/>
</g>
<g id="pts-B">
<path d="M639.2 541.6l7.9 13.9h-15.8z" fill="#a21c3a" fill-opacity="0.85"/>
<path d="M648.8 531.9v17.4M642.6 534.5l12.3 12.3M654.9 534.5l-12.3 12.3M640.1 540.6h17.4" stroke="#a21c3a" stroke-opacity="0.85" stroke-width="1.1" fill="none"/>
<path d="M650.5 530.4v17.4M644.3 532.9l12.3 12.3M656.6 532.9l-12.3 12.3M641.8 539.1h17.4" stroke="#a21c3a" stroke-opacity="0.85" stroke-width="1.1" fill="none"/>
<path d="M630.4 543.0h17.4M639.1 534.3v17.4" stroke="#a21c3a" stroke-opacity="0.85" stroke-width="1.1" fill="none"/>
<rect x="636.6" y="542.4" width="12.2" height="12.2" fill="#a21c3a" fill-opacity="0.85"/>
<path d="M636.5 541.1h12.4v12.4h-12.4zl12.4 12.4m0 -12.4l-12.4 12.4" stroke="#a21c3a" stroke-opacity="0.85" stroke-width="1.1" fill="none"/>
<path d="M652.6 542.1l7.9 13.9h-15.8z" fill="#a21c3a" fill-opacity="0.85"/>
<path d="M626.5 533.6l7.9 13.9h-15.8z" fill="#a21c3a" fill-opacity="0.85"/>
<circle cx="642.9" cy="534.4" r="5.9" fill="#a21c3a" fill-opacity="0.85"/>
<path d="M652.4 521.5h12.4v12.4h-12.4zl12.4 12.4m0 -12.4l-12.4 12.4" stroke="#a21c3a" stroke-opacity="0.85" stroke-width="1.1" fill="none"/>
<path d="M664.8 536.8h12.4v12.4h-12.4zl12.4 12.4m0 -12.4l-12.4 12.4" stroke="#a21c3a" stroke-opacity="0.85" stroke-width="1.1" fill="none"/>
<rect x="642.6" y="534.0" width="12.2" height="12.2" fill="#a21c3a" fill-opacity="0.85"/>
<rect x="638.8" y="545.4" width="12.2" height="12.2" fill="#a21c3a" fill-opacity="0.85"/>
<path d="M644.7 541.0h17.4M653.4 532.3v17.4" stroke="#a21c3a" stroke-opacity="0.85" stroke-width="1.1" fill="none"/>
<path d="M646.3 548.0h17.4M655.0 539.3v17.4" stroke="#a21c3a" stroke-opacity="0.85" stroke-width="1.1" fill="none"/>
<path d="M655.3 547.5l7.9 13.9h-15.8z" fill="#a21c3a" fill-opacity="0.85"/>
<path d="M635.3 552.4v17.4M629.1 555.0l12.3 12.3M641.4 555.0l-12.3 12.3M626.6 561.1h17.4" stroke="#a21c3a" stroke-opacity="0.85" stroke-width="1.1" fill="none"/>
<path d="M634.4 541.9v17.4M628.2 544.5l12.3 12.3M640.5 544.5l-12.3 12.3M625.7 550.6h17.4" stroke="#a21c3a" stroke-opacity="0.85" stroke-width="1.1" fill="none"/>
<rect x="643.9" y="539.9" width="12.2" height="12.2" fill="#a21c3a" fill-opacity="0.85"/>
<circle cx="647.0" cy="543.0" r="5.9" fill="#a21c3a" fill-opacity="0.85"/>
<path d="M663.3 682.5h17.4M672.0 673.8v17.4" stroke="#a21c3a" stroke-opacity="0.85" stroke-width="1.1" fill="none"/>
</g>
<g id="pts-D">
<rect x="888.3" y="178.2" width="12.2" height="12.2" fill="#3e70b8" fill-opacity="0.85"/>
<path d="M898.4 175.6v17.4M892.2 178.2l12.3 12.3M904.5 178.2l-12.3 12.3M889.7 184.3h17.4" stroke="#3e70b8" stroke-opacity="0.85" stroke-width="1.1" fill="none"/>
<circle cx="893.5" cy="184.5" r="5.9" fill="#3e70b8" fill-opacity="0.85"/>
<rect x="890.9" y="224.2" width="12.2" height="12.2" fill="#3e70b8" fill-opacity="0.85"/>
<path d="M895.3 217.8l7.9 13.9h-15.8z" fill="#3e70b8" fill-opacity="0.85"/>
<rect x="904.2" y="218.7" width="12.2" height="12.2" fill="#3e70b8" fill-opacity="0.85"/>
<path d="M884.0 215.6v17.4M877.9 218.2l12.3 12.3M890.1 218.2l-12.3 12.3M875.3 224.3h17.4" stroke="#3e70b8" stroke-opacity="0.85" stroke-width="1.1" fill="none"/>
<rect x="885.9" y="225.9" width="12.2" height="12.2" fill="#3e70b8" fill-opacity="0.85"/>
<rect x="894.9" y="227.9" width="12.2" height="12.2" fill="#3e70b8" fill-opacity="0.85"/>
<path d="M899.0 227.3v17.4M892.9 229.8l12.3 12.3M905.1 229.8l-12.3 12.3M890.3 236.0h17.4" stroke="#3e70b8" stroke-opacity="0.85" stroke-width="1.1" fill="none"/>
<path d="M887.3 228.0h17.4M896.0 219.3v17.4" stroke="#3e70b8" stroke-opacity="0.85" stroke-width="1.1" fill="none"/>
<path d="M887.8 224.8h12.4v12.4h-12.4zl12.4 12.4m0 -12.4l-12.4 12.4" stroke="#3e70b8" stroke-opacity="0.85" stroke-width="1.1" fill="none"/>
<rect x="936.4" y="225.4" width="12.2" height="12.2" fill="#3e70b8" fill-opacity="0.85"/>
<path d="M941.0 221.3v17.4M934.9 223.8l12.3 12.3M947.1 223.8l-12.3 12.3M932.3 230.0h17.4" stroke="#3e70b8" stroke-opacity="0.85" stroke-width="1.1" fill="none"/>
<path d="M948.5 231.2v17.4M942.4 233.8l12.3 12.3M954.6 233.8l-12.3 12.3M939.8 239.9h17.4" stroke="#3e70b8" stroke-opacity="0.85" stroke-width="1.1" fill="none"/>
<rect x="938.9" y="226.9" width="12.2" height="12.2" fill="#3e70b8" fill-opacity="0.85"/>
<path d="M938.0 219.3v17.4M931.9 221.8l12.3 12.3M944.1 221.8l-12.3 12.3M929.3 228.0h17.4" stroke="#3e70b8" stroke-opacity="0.85" stroke-width="1.1" fill="none"/>
<path d="M935.3 236.0h17.4M944.0 227.3v17.4" stroke="#3e70b8" stroke-opacity="0.85" stroke-width="1.1" fill="none"/>
<path d="M939.8 224.8h12.4v12.4h-12.4zl12.4 12.4m0 -12.4l-12.4 12.4" stroke="#3e70b8" stroke-opacity="0.85" stroke-width="1.1" fill="none"/>
<rect x="951.9" y="215.9" width="12.2" height="12.2" fill="#3e70b8" fill-opacity="0.85"/>
<rect x="966.2" y="203.9" width="12.2" height="12.2" fill="#3e70b8" fill-opacity="0.85"/>
<rect x="976.9" y="207.5" width="12.2" height="12.2" fill="#3e70b8" fill-opacity="0.85"/>
<path d="M991.4 221.3l7.9 13.9h-15.8z" fill="#3e70b8" fill-opacity="0.85"/>
<path d="M987.8 213.7v17.4M981.6 216.2l12.3 12.3M993.9 216.2l-12.3 12.3M979.1 222.4h17.4" stroke="#3e70b8" stroke-opacity="0.85" stroke-width="1.1" fill="none"/>
<rect x="957.9" y="222.9" width="12.2" height="12.2" fill="#3e70b8" fill-opacity="0.85"/>
<rect x="953.9" y="210.9" width="12.2" height="12.2" fill="#3e70b8" fill-opacity="0.85"/>
<rect x="960.9" y="217.9" width="12.2" height="12.2" fill="#3e70b8" fill-opacity="0.85"/>
<rect x="968.9" y="209.9" width="12.2" height="12.2" fill="#3e70b8" fill-opacity="0.85"/>
<path d="M972.0 213.3v17.4M965.9 215.8l12.3 12.3M978.1 215.8l-12.3 12.3M963.3 222.0h17.4" stroke="#3e70b8" stroke-opacity="0.85" stroke-width="1.1" fill="none"/>
<path d="M949.3 214.0h17.4M958.0 205.3v17.4" stroke="#3e70b8" stroke-opacity="0.85" stroke-width="1.1" fill="none"/>
<path d="M978.0 218.3v17.4M971.9 220.8l12.3 12.3M984.1 220.8l-12.3 12.3M969.3 227.0h17.4" stroke="#3e70b8" stroke-opacity="0.85" stroke-width="1.1" fill="none"/>
<rect x="948.9" y="221.9" width="12.2" height="12.2" fill="#3e70b8" fill-opacity="0.85"/>
<path d="M955.8 216.8h12.4v12.4h-12.4zl12.4 12.4m0 -12.4l-12.4 12.4" stroke="#3e70b8" stroke-opacity="0.85" stroke-width="1.1" fill="none"/>
<rect x="963.9" y="223.9" width="12.2" height="12.2" fill="#3e70b8" fill-opacity="0.85"/>
<path d="M965.0 227.3v17.4M958.9 229.8l12.3 12.3M971.1 229.8l-12.3 12.3M956.3 236.0h17.4" stroke="#3e70b8" stroke-opacity="0.85" stroke-width="1.1" fill="none"/>
<path d="M966.3 240.0h17.4M975.0 231.3v17.4" stroke="#3e70b8" stroke-opacity="0.85" stroke-width="1.1" fill="none"/>
</g>
<g id="pts-I">
<rect x="956.7" y="309.5" width="12.2" height="12.2" fill="#fd6a86" fill-opacity="0.80"/>
<rect x="958.1" y="313.8" width="12.2" height="12.2" fill="#fd6a86" fill-opacity="0.80"/>
<path d="M955.6 309.7v17.4M949.5 312.2l12.3 12.3M961.8 312.2l-12.3 12.3M946.9 318.4h17.4" stroke="#fd6a86" stroke-opacity="0.80" stroke-width="1.1" fill="none"/>
<path d="M958.0 314.7v17.4M951.9 317.3l12.3 12.3M964.2 317.3l-12.3 12.3M949.3 323.4h17.4" stroke="#fd6a86" stroke-opacity="0.80" stroke-width="1.1" fill="none"/>
<rect x="948.7" y="313.9" width="12.2" height="12.2" fill="#fd6a86" fill-opacity="0.80"/>
<path d="M955.0 317.6v17.4M948.8 320.2l12.3 12.3M961.1 320.2l-12.3 12.3M946.3 326.3h17.4" stroke="#fd6a86" stroke-opacity="0.80" stroke-width="1.1" fill="none"/>
<path d="M944.8 320.9v17.4M938.7 323.5l12.3 12.3M951.0 323.5l-12.3 12.3M936.1 329.6h17.4" stroke="#fd6a86" stroke-opacity="0.80" stroke-width="1.1" fill="none"/>
<path d="M953.2 316.4l7.9 13.9h-15.8z" fill="#fd6a86" fill-opacity="0.80"/>
<path d="M959.1 315.8v17.4M952.9 318.3l12.3 12.3M965.2 318.3l-12.3 12.3M950.4 324.5h17.4" stroke="#fd6a86" stroke-opacity="0.80" stroke-width="1.1" fill="none"/>
<path d="M962.9 316.4h17.4M971.6 307.7v17.4" stroke="#fd6a86" stroke-opacity="0.80" stroke-width="1.1" fill="none"/>
<path d="M963.0 304.8v17.4M956.8 307.3l12.3 12.3M969.1 307.3l-12.3 12.3M954.3 313.5h17.4" stroke="#fd6a86" stroke-opacity="0.80" stroke-width="1.1" fill="none"/>
<path d="M955.9 309.0h12.4v12.4h-12.4zl12.4 12.4m0 -12.4l-12.4 12.4" stroke="#fd6a86" stroke-opacity="0.80" stroke-width="1.1" fill="none"/>
<path d="M965.4 315.2v17.4M959.2 317.7l12.3 12.3M971.5 317.7l-12.3 12.3M956.7 323.9h17.4" stroke="#fd6a86" stroke-opacity="0.80" stroke-width="1.1" fill="none"/>
<rect x="955.2" y="311.5" width="12.2" height="12.2" fill="#fd6a86" fill-opacity="0.80"/>
<rect x="942.3" y="318.1" width="12.2" height="12.2" fill="#fd6a86" fill-opacity="0.80"/>
<rect x="944.0" y="313.3" width="12.2" height="12.2" fill="#fd6a86" fill-opacity="0.80"/>
<path d="M952.7 314.3l7.9 13.9h-15.8z" fill="#fd6a86" fill-opacity="0.80"/>
<rect x="955.9" y="314.4" width="12.2" height="12.2" fill="#fd6a86" fill-opacity="0.80"/>
<path d="M955.7 312.6h12.4v12.4h-12.4zl12.4 12.4m0 -12.4l-12.4 12.4" stroke="#fd6a86" stroke-opacity="0.80" stroke-width="1.1" fill="none"/>
<path d="M963.1 319.4h17.4M971.8 310.7v17.4" stroke="#fd6a86" stroke-opacity="0.80" stroke-width="1.1" fill="none"/>
<path d="M959.2 315.7l7.9 13.9h-15.8z" fill="#fd6a86" fill-opacity="0.80"/>
<path d="M954.0 317.9v17.4M947.9 320.5l12.3 12.3M960.2 320.5l-12.3 12.3M945.3 326.6h17.4" stroke="#fd6a86" stroke-opacity="0.80" stroke-width="1.1" fill="none"/>
<path d="M941.1 328.0h12.4v12.4h-12.4zl12.4 12.4m0 -12.4l-12.4 12.4" stroke="#fd6a86" stroke-opacity="0.80" stroke-width="1.1" fill="none"/>
<rect x="942.4" y="319.6" width="12.2" height="12.2" fill="#fd6a86" fill-opacity="0.80"/>
<path d="M945.4 315.1h17.4M954.1 306.4v17.4" stroke="#fd6a86" stroke-opacity="0.80" stroke-width="1.1" fill="none"/>
<path d="M960.1 303.7v17.4M953.9 306.2l12.3 12.3M966.2 306.2l-12.3 12.3M951.4 312.4h17.4" stroke="#fd6a86" stroke-opacity="0.80" stroke-width="1.1" fill="none"/>
<rect x="962.2" y="305.6" width="12.2" height="12.2" fill="#fd6a86" fill-opacity="0.80"/>
<rect x="969.3" y="301.9" width="12.2" height="12.2" fill="#fd6a86" fill-opacity="0.80"/>
<rect x="939.7" y="319.7" width="12.2" height="12.2" fill="#fd6a86" fill-opacity="0.80"/>
<path d="M945.0 320.0h12.4v12.4h-12.4zl12.4 12.4m0 -12.4l-12.4 12.4" stroke="#fd6a86" stroke-opacity="0.80" stroke-width="1.1" fill="none"/>
<path d="M950.4 323.2h17.4M959.1 314.5v17.4" stroke="#fd6a86" stroke-opacity="0.80" stroke-width="1.1" fill="none"/>
<path d="M947.3 319.3h17.4M956.0 310.6v17.4" stroke="#fd6a86" stroke-opacity="0.80" stroke-width="1.1" fill="none"/>
<rect x="946.6" y="319.0" width="12.2" height="12.2" fill="#fd6a86" fill-opacity="0.80"/>
<path d="M945.5 319.2v17.4M939.3 321.7l12.3 12.3M951.6 321.7l-12.3 12.3M936.8 327.9h17.4" stroke="#fd6a86" stroke-opacity="0.80" stroke-width="1.1" fill="none"/>
<path d="M944.0 313.4h12.4v12.4h-12.4zl12.4 12.4m0 -12.4l-12.4 12.4" stroke="#fd6a86" stroke-opacity="0.80" stroke-width="1.1" fill="none"/>
<rect x="965.0" y="306.5" width="12.2" height="12.2" fill="#fd6a86" fill-opacity="0.80"/>
<rect x="936.8" y="317.7" width="12.2" height="12.2" fill="#fd6a86" fill-opacity="0.80"/>
<path d="M956.8 315.5v17.4M950.7 318.1l12.3 12.3M963.0 318.1l-12.3 12.3M948.1 324.2h17.4" stroke="#fd6a86" stroke-opacity="0.80" stroke-width="1.1" fill="none"/>
<path d="M951.6 323.1h17.4M960.3 314.4v17.4" stroke="#fd6a86" stroke-opacity="0.80" stroke-width="1.1" fill="none"/>
<path d="M947.8 315.5h12.4v12.4h-12.4zl12.4 12.4m0 -12.4l-12.4 12.4" stroke="#fd6a86" stroke-opacity="0.80" stroke-width="1.1" fill="none"/>
<path d="M965.8 307.1v17.4M959.7 309.6l12.3 12.3M972.0 309.6l-12.3 12.3M957.1 315.8h17.4" stroke="#fd6a86" stroke-opacity="0.80" stroke-width="1.1" fill="none"/>
<path d="M944.8 312.9l7.9 13.9h-15.8z" fill="#fd6a86" fill-opacity="0.80"/>
<rect x="968.4" y="299.7" width="12.2" height="12.2" fill="#fd6a86" fill-opacity="0.80"/>
<path d="M991.6 302.5l7.9 13.9h-15.8z" fill="#fd6a86" fill-opacity="0.80"/>
<rect x="928.3" y="314.4" width="12.2" height="12.2" fill="#fd6a86" fill-opacity="0.80"/>
<path d="M934.4 311.8v17.4M928.2 314.4l12.3 12.3M940.5 314.4l-12.3 12.3M925.7 320.5h17.4" stroke="#fd6a86" stroke-opacity="0.80" stroke-width="1.1" fill="none"/>
<circle cx="938.5" cy="330.8" r="5.9" fill="#fd6a86" fill-opacity="0.80"/>
<circle cx="951.8" cy="343.4" r="5.9" fill="#fd6a86" fill-opacity="0.80"/>
<path d="M937.8 328.2h12.4v12.4h-12.4zl12.4 12.4m0 -12.4l-12.4 12.4" stroke="#fd6a86" stroke-opacity="0.80" stroke-width="1.1" fill="none"/>
<path d="M936.8 359.5v17.4M930.6 362.1l12.3 12.3M942.9 362.1l-12.3 12.3M928.1 368.2h17.4" stroke="#fd6a86" stroke-opacity="0.80" stroke-width="1.1" fill="none"/>
<path d="M953.6 366.5h17.4M962.3 357.8v17.4" stroke="#fd6a86" stroke-opacity="0.80" stroke-width="1.1" fill="none"/>
<path d="M967.4 361.8h17.4M976.1 353.1v17.4" stroke="#fd6a86" stroke-opacity="0.80" stroke-width="1.1" fill="none"/>
<path d="M958.6 373.7h17.4M967.3 365.0v17.4" stroke="#fd6a86" stroke-opacity="0.80" stroke-width="1.1" fill="none"/>
<path d="M982.1 357.8v17.4M976.0 360.4l12.3 12.3M988.2 360.4l-12.3 12.3M973.4 366.5h17.4" stroke="#fd6a86" stroke-opacity="0.80" stroke-width="1.1" fill="none"/>
<path d="M949.4 376.4v17.4M943.2 379.0l12.3 12.3M955.5 379.0l-12.3 12.3M940.7 385.1h17.4" stroke="#fd6a86" stroke-opacity="0.80" stroke-width="1.1" fill="none"/>
<path d="M951.8 383.3v17.4M945.6 385.9l12.3 12.3M957.9 385.9l-12.3 12.3M943.1 392.0h17.4" stroke="#fd6a86" stroke-opacity="0.80" stroke-width="1.1" fill="none"/>
<path d="M946.1 395.6h12.4v12.4h-12.4zl12.4 12.4m0 -12.4l-12.4 12.4" stroke="#fd6a86" stroke-opacity="0.80" stroke-width="1.1" fill="none"/>
<path d="M917.3 386.4v17.4M911.1 389.0l12.3 12.3M923.4 389.0l-12.3 12.3M908.6 395.1h17.4" stroke="#fd6a86" stroke-opacity="0.80" stroke-width="1.1" fill="none"/>
<path d="M851.7 390.7v17.4M845.6 393.2l12.3 12.3M857.9 393.2l-12.3 12.3M843.0 399.4h17.4" stroke="#fd6a86" stroke-opacity="0.80" stroke-width="1.1" fill="none"/>
</g>
<g id="pts-J">
<path d="M952.8 265.6v17.4M946.6 268.1l12.3 12.3M958.9 268.1l-12.3 12.3M944.1 274.3h17.4" stroke="#725a83" stroke-opacity="0.80" stroke-width="1.1" fill="none"/>
<path d="M962.7 265.6h17.4M971.4 256.9v17.4" stroke="#725a83" stroke-opacity="0.80" stroke-width="1.1" fill="none"/>
<path d="M956.5 262.2h12.4v12.4h-12.4zl12.4 12.4m0 -12.4l-12.4 12.4" stroke="#725a83" stroke-opacity="0.80" stroke-width="1.1" fill="none"/>
<path d="M955.2 267.5l7.9 13.9h-15.8z" fill="#725a83" fill-opacity="0.80"/>
<path d="M957.1 264.8h17.4M965.8 256.1v17.4" stroke="#725a83" stroke-opacity="0.80" stroke-width="1.1" fill="none"/>
<rect x="961.6" y="254.2" width="12.2" height="12.2" fill="#725a83" fill-opacity="0.80"/>
<rect x="951.0" y="263.0" width="12.2" height="12.2" fill="#725a83" fill-opacity="0.80"/>
<path d="M971.6 257.2h17.4M980.3 248.5v17.4" stroke="#725a83" stroke-opacity="0.80" stroke-width="1.1" fill="none"/>
<path d="M958.8 261.2h17.4M967.5 252.5v17.4" stroke="#725a83" stroke-opacity="0.80" stroke-width="1.1" fill="none"/>
<path d="M970.8 255.7v17.4M964.6 258.2l12.3 12.3M976.9 258.2l-12.3 12.3M962.1 264.4h17.4" stroke="#725a83" stroke-opacity="0.80" stroke-width="1.1" fill="none"/>
<path d="M969.4 275.6h17.4M978.1 266.9v17.4" stroke="#725a83" stroke-opacity="0.80" stroke-width="1.1" fill="none"/>
<path d="M966.7 273.6h17.4M975.4 264.9v17.4" stroke="#725a83" stroke-opacity="0.80" stroke-width="1.1" fill="none"/>
<path d="M960.5 270.3l7.9 13.9h-15.8z" fill="#725a83" fill-opacity="0.80"/>
<path d="M949.0 265.3h12.4v12.4h-12.4zl12.4 12.4m0 -12.4l-12.4 12.4" stroke="#725a83" stroke-opacity="0.80" stroke-width="1.1" fill="none"/>
<path d="M972.1 250.7l7.9 13.9h-15.8z" fill="#725a83" fill-opacity="0.80"/>
<path d="M961.6 270.7h17.4M970.3 262.0v17.4" stroke="#725a83" stroke-opacity="0.80" stroke-width="1.1" fill="none"/>
<path d="M964.5 271.2h17.4M973.2 262.5v17.4" stroke="#725a83" stroke-opacity="0.80" stroke-width="1.1" fill="none"/>
<path d="M970.6 270.3h17.4M979.3 261.6v17.4" stroke="#725a83" stroke-opacity="0.80" stroke-width="1.1" fill="none"/>
<path d="M962.2 259.3h12.4v12.4h-12.4zl12.4 12.4m0 -12.4l-12.4 12.4" stroke="#725a83" stroke-opacity="0.80" stroke-width="1.1" fill="none"/>
<rect x="932.7" y="277.8" width="12.2" height="12.2" fill="#725a83" fill-opacity="0.80"/>
<rect x="958.4" y="258.4" width="12.2" height="12.2" fill="#725a83" fill-opacity="0.80"/>
<path d="M947.9 265.6l7.9 13.9h-15.8z" fill="#725a83" fill-opacity="0.80"/>
<path d="M988.4 249.8v17.4M982.2 252.4l12.3 12.3M994.5 252.4l-12.3 12.3M979.7 258.5h17.4" stroke="#725a83" stroke-opacity="0.80" stroke-width="1.1" fill="none"/>
<path d="M954.0 267.3h12.4v12.4h-12.4zl12.4 12.4m0 -12.4l-12.4 12.4" stroke="#725a83" stroke-opacity="0.80" stroke-width="1.1" fill="none"/>
<rect x="973.7" y="259.5" width="12.2" height="12.2" fill="#725a83" fill-opacity="0.80"/>
<rect x="944.3" y="274.8" width="12.2" height="12.2" fill="#725a83" fill-opacity="0.80"/>
<rect x="947.0" y="260.5" width="12.2" height="12.2" fill="#725a83" fill-opacity="0.80"/>
<path d="M960.9 261.9v17.4M954.8 264.5l12.3 12.3M967.1 264.5l-12.3 12.3M952.2 270.6h17.4" stroke="#725a83" stroke-opacity="0.80" stroke-width="1.1" fill="none"/>
<path d="M952.6 259.8h12.4v12.4h-12.4zl12.4 12.4m0 -12.4l-12.4 12.4" stroke="#725a83" stroke-opacity="0.80" stroke-width="1.1" fill="none"/>
<rect x="943.7" y="266.2" width="12.2" height="12.2" fill="#725a83" fill-opacity="0.80"/>
<path d="M970.1 252.3h12.4v12.4h-12.4zl12.4 12.4m0 -12.4l-12.4 12.4" stroke="#725a83" stroke-opacity="0.80" stroke-width="1.1" fill="none"/>
<circle cx="967.6" cy="267.5" r="5.9" fill="#725a83" fill-opacity="0.80"/>
<path d="M945.2 272.7h12.4v12.4h-12.4zl12.4 12.4m0 -12.4l-12.4 12.4" stroke="#725a83" stroke-opacity="0.80" stroke-width="1.1" fill="none"/>
<path d="M972.6 262.7h17.4M981.3 254.0v17.4" stroke="#725a83" stroke-opacity="0.80" stroke-width="1.1" fill="none"/>
<path d="M951.2 262.6h12.4v12.4h-12.4zl12.4 12.4m0 -12.4l-12.4 12.4" stroke="#725a83" stroke-opacity="0.80" stroke-width="1.1" fill="none"/>
<path d="M951.7 267.9h12.4v12.4h-12.4zl12.4 12.4m0 -12.4l-12.4 12.4" stroke="#725a83" stroke-opacity="0.80" stroke-width="1.1" fill="none"/>
<circle cx="976.5" cy="264.3" r="5.9" fill="#725a83" fill-opacity="0.80"/>
<rect x="944.9" y="277.0" width="12.2" height="12.2" fill="#725a83" fill-opacity="0.80"/>
<path d="M975.4 263.7l7.9 13.9h-15.8z" fill="#725a83" fill-opacity="0.80"/>
<path d="M953.7 258.0l7.9 13.9h-15.8z" fill="#725a83" fill-opacity="0.80"/>
<path d="M954.4 272.0h17.4M963.1 263.3v17.4" stroke="#725a83" stroke-opacity="0.80" stroke-width="1.1" fill="none"/>
<path d="M951.4 264.8h12.4v12.4h-12.4zl12.4 12.4m0 -12.4l-12.4 12.4" stroke="#725a83" stroke-opacity="0.80" stroke-width="1.1" fill="none"/>
<path d="M988.4 257.7v17.4M982.2 260.2l12.3 12.3M994.5 260.2l-12.3 12.3M979.7 266.4h17.4" stroke="#725a83" stroke-opacity="0.80" stroke-width="1.1" fill="none"/>
<path d="M958.1 264.6v17.4M952.0 267.2l12.3 12.3M964.3 267.2l-12.3 12.3M949.4 273.3h17.4" stroke="#725a83" stroke-opacity="0.80" stroke-width="1.1" fill="none"/>
<path d="M961.7 261.7h12.4v12.4h-12.4zl12.4 12.4m0 -12.4l-12.4 12.4" stroke="#725a83" stroke-opacity="0.80" stroke-width="1.1" fill="none"/>
<path d="M964.4 251.6v17.4M958.2 254.1l12.3 12.3M970.5 254.1l-12.3 12.3M955.7 260.3h17.4" stroke="#725a83" stroke-opacity="0.80" stroke-width="1.1" fill="none"/>
<path d="M926.9 280.2h17.4M935.6 271.5v17.4" stroke="#725a83" stroke-opacity="0.80" stroke-width="1.1" fill="none"/>
<path d="M974.1 259.2v17.4M967.9 261.8l12.3 12.3M980.2 261.8l-12.3 12.3M965.4 267.9h17.4" stroke="#725a83" stroke-opacity="0.80" stroke-width="1.1" fill="none"/>
<circle cx="983.1" cy="263.6" r="5.9" fill="#725a83" fill-opacity="0.80"/>
<path d="M970.5 259.8h12.4v12.4h-12.4zl12.4 12.4m0 -12.4l-12.4 12.4" stroke="#725a83" stroke-opacity="0.80" stroke-width="1.1" fill="none"/>
<circle cx="956.6" cy="276.9" r="5.9" fill="#725a83" fill-opacity="0.80"/>
<path d="M941.5 271.6h12.4v12.4h-12.4zl12.4 12.4m0 -12.4l-12.4 12.4" stroke="#725a83" stroke-opacity="0.80" stroke-width="1.1" fill="none"/>
<rect x="934.8" y="270.6" width="12.2" height="12.2" fill="#725a83" fill-opacity="0.80"/>
<path d="M947.9 270.6h17.4M956.6 261.9v17.4" stroke="#725a83" stroke-opacity="0.80" stroke-width="1.1" fill="none"/>
<path d="M974.4 254.7v17.4M968.3 257.2l12.3 12.3M980.6 257.2l-12.3 12.3M965.7 263.4h17.4" stroke="#725a83" stroke-opacity="0.80" stroke-width="1.1" fill="none"/>
<path d="M942.3 270.1h17.4M951.0 261.4v17.4" stroke="#725a83" stroke-opacity="0.80" stroke-width="1.1" fill="none"/>
<path d="M945.3 261.5h17.4M954.0 252.8v17.4" stroke="#725a83" stroke-opacity="0.80" stroke-width="1.1" fill="none"/>
<path d="M974.6 259.1h12.4v12.4h-12.4zl12.4 12.4m0 -12.4l-12.4 12.4" stroke="#725a83" stroke-opacity="0.80" stroke-width="1.1" fill="none"/>
<circle cx="959.5" cy="271.2" r="5.9" fill="#725a83" fill-opacity="0.80"/>
<path d="M957.4 266.5h12.4v12.4h-12.4zl12.4 12.4m0 -12.4l-12.4 12.4" stroke="#725a83" stroke-opacity="0.80" stroke-width="1.1" fill="none"/>
<path d="M949.6 266.8v17.4M943.5 269.3l12.3 12.3M955.8 269.3l-12.3 12.3M940.9 275.5h17.4" stroke="#725a83" stroke-opacity="0.80" stroke-width="1.1" fill="none"/>
<path d="M948.8 277.2v17.4M942.7 279.7l12.3 12.3M955.0 279.7l-12.3 12.3M940.1 285.9h17.4" stroke="#725a83" stroke-opacity="0.80" stroke-width="1.1" fill="none"/>
<path d="M950.8 282.9h17.4M959.5 274.2v17.4" stroke="#725a83" stroke-opacity="0.80" stroke-width="1.1" fill="none"/>
<path d="M959.7 268.6h17.4M968.4 259.9v17.4" stroke="#725a83" stroke-opacity="0.80" stroke-width="1.1" fill="none"/>
<path d="M938.5 273.5h17.4M947.2 264.8v17.4" stroke="#725a83" stroke-opacity="0.80" stroke-width="1.1" fill="none"/>
<path d="M968.3 258.8v17.4M962.1 261.3l12.3 12.3M974.4 261.3l-12.3 12.3M959.6 267.5h17.4" stroke="#725a83" stroke-opacity="0.80" stroke-width="1.1" fill="none"/>
<rect x="951.0" y="264.7" width="12.2" height="12.2" fill="#725a83" fill-opacity="0.80"/>
<path d="M949.7 277.9h12.4v12.4h-12.4zl12.4 12.4m0 -12.4l-12.4 12.4" stroke="#725a83" stroke-opacity="0.80" stroke-width="1.1" fill="none"/>
<path d="M962.6 257.9l7.9 13.9h-15.8z" fill="#725a83" fill-opacity="0.80"/>
<rect x="961.9" y="269.4" width="12.2" height="12.2" fill="#725a83" fill-opacity="0.80"/>
<circle cx="950.3" cy="276.0" r="5.9" fill="#725a83" fill-opacity="0.80"/>
<path d="M975.0 265.4v17.4M968.9 267.9l12.3 12.3M981.2 267.9l-12.3 12.3M966.3 274.1h17.4" stroke="#725a83" stroke-opacity="0.80" stroke-width="1.1" fill="none"/>
<rect x="943.0" y="263.6" width="12.2" height="12.2" fill="#725a83" fill-opacity="0.80"/>
<rect x="962.6" y="267.6" width="12.2" height="12.2" fill="#725a83" fill-opacity="0.80"/>
<path d="M960.7 273.0h17.4M969.4 264.3v17.4" stroke="#725a83" stroke-opacity="0.80" stroke-width="1.1" fill="none"/>
<path d="M953.0 268.6l7.9 13.9h-15.8z" fill="#725a83" fill-opacity="0.80"/>
<path d="M960.7 269.7v17.4M954.5 272.3l12.3 12.3M966.8 272.3l-12.3 12.3M952.0 278.4h17.4" stroke="#725a83" stroke-opacity="0.80" stroke-width="1.1" fill="none"/>
<circle cx="981.8" cy="268.2" r="5.9" fill="#725a83" fill-opacity="0.80"/>
<path d="M956.1 264.8h17.4M964.8 256.1v17.4" stroke="#725a83" stroke-opacity="0.80" stroke-width="1.1" fill="none"/>
<path d="M951.1 262.0v17.4M944.9 264.5l12.3 12.3M957.2 264.5l-12.3 12.3M942.4 270.7h17.4" stroke="#725a83" stroke-opacity="0.80" stroke-width="1.1" fill="none"/>
<rect x="963.9" y="240.9" width="12.2" height="12.2" fill="#725a83" fill-opacity="0.80"/>
<rect x="969.8" y="249.2" width="12.2" height="12.2" fill="#725a83" fill-opacity="0.80"/>
<rect x="976.9" y="253.9" width="12.2" height="12.2" fill="#725a83" fill-opacity="0.80"/>
<rect x="963.9" y="283.9" width="12.2" height="12.2" fill="#725a83" fill-opacity="0.80"/>
<rect x="973.4" y="280.2" width="12.2" height="12.2" fill="#725a83" fill-opacity="0.80"/>
<path d="M994.2 263.6l7.9 13.9h-15.8z" fill="#725a83" fill-opacity="0.80"/>
<path d="M947.8 250.3h12.4v12.4h-12.4zl12.4 12.4m0 -12.4l-12.4 12.4" stroke="#725a83" stroke-opacity="0.80" stroke-width="1.1" fill="none"/>
<path d="M925.6 269.4h12.4v12.4h-12.4zl12.4 12.4m0 -12.4l-12.4 12.4" stroke="#725a83" stroke-opacity="0.80" stroke-width="1.1" fill="none"/>
<path d="M940.0 280.9l7.9 13.9h-15.8z" fill="#725a83" fill-opacity="0.80"/>
<path d="M908.7 262.1v17.4M902.6 264.7l12.3 12.3M914.9 264.7l-12.3 12.3M900.0 270.8h17.4" stroke="#725a83" stroke-opacity="0.80" stroke-width="1.1" fill="none"/>
<path d="M879.4 276.8h17.4M888.1 268.1v17.4" stroke="#725a83" stroke-opacity="0.80" stroke-width="1.1" fill="none"/>
<path d="M886.2 275.8h12.4v12.4h-12.4zl12.4 12.4m0 -12.4l-12.4 12.4" stroke="#725a83" stroke-opacity="0.80" stroke-width="1.1" fill="none"/>
<path d="M892.4 273.3v17.4M886.2 275.9l12.3 12.3M898.5 275.9l-12.3 12.3M883.7 282.0h17.4" stroke="#725a83" stroke-opacity="0.80" stroke-width="1.1" fill="none"/>
<path d="M873.4 278.8v17.4M867.2 281.4l12.3 12.3M879.5 281.4l-12.3 12.3M864.7 287.5h17.4" stroke="#725a83" stroke-opacity="0.80" stroke-width="1.1" fill="none"/>
<path d="M941.3 296.0h17.4M950.0 287.3v17.4" stroke="#725a83" stroke-opacity="0.80" stroke-width="1.1" fill="none"/>
</g>
<g id="pts-E">
<path d="M948.8 482.8h17.4M957.5 474.1v17.4" stroke="#0a1018" stroke-opacity="0.85" stroke-width="1.1" fill="none"/>
<path d="M939.9 472.0v17.4M933.7 474.5l12.3 12.3M946.0 474.5l-12.3 12.3M931.2 480.7h17.4" stroke="#0a1018" stroke-opacity="0.85" stroke-width="1.1" fill="none"/>
<path d="M948.0 478.1v17.4M941.8 480.7l12.3 12.3M954.1 480.7l-12.3 12.3M939.3 486.8h17.4" stroke="#0a1018" stroke-opacity="0.85" stroke-width="1.1" fill="none"/>
<rect x="935.3" y="482.5" width="12.2" height="12.2" fill="#0a1018" fill-opacity="0.85"/>
<path d="M940.9 487.0h17.4M949.6 478.3v17.4" stroke="#0a1018" stroke-opacity="0.85" stroke-width="1.1" fill="none"/>
<rect x="922.0" y="484.5" width="12.2" height="12.2" fill="#0a1018" fill-opacity="0.85"/>
<path d="M928.8 493.5h17.4M937.5 484.8v17.4" stroke="#0a1018" stroke-opacity="0.85" stroke-width="1.1" fill="none"/>
<path d="M944.1 485.3h17.4M952.8 476.6v17.4" stroke="#0a1018" stroke-opacity="0.85" stroke-width="1.1" fill="none"/>
<path d="M922.2 501.8h17.4M930.9 493.1v17.4" stroke="#0a1018" stroke-opacity="0.85" stroke-width="1.1" fill="none"/>
<path d="M944.6 479.4v17.4M938.5 482.0l12.3 12.3M950.8 482.0l-12.3 12.3M935.9 488.1h17.4" stroke="#0a1018" stroke-opacity="0.85" stroke-width="1.1" fill="none"/>
<rect x="933.9" y="498.6" width="12.2" height="12.2" fill="#0a1018" fill-opacity="0.85"/>
<path d="M934.1 484.2l7.9 13.9h-15.8z" fill="#0a1018" fill-opacity="0.85"/>
<path d="M924.3 481.0l7.9 13.9h-15.8z" fill="#0a1018" fill-opacity="0.85"/>
<circle cx="962.1" cy="477.2" r="5.9" fill="#0a1018" fill-opacity="0.85"/>
<path d="M921.3 497.5h17.4M930.0 488.8v17.4" stroke="#0a1018" stroke-opacity="0.85" stroke-width="1.1" fill="none"/>
<path d="M941.5 478.5v17.4M935.4 481.0l12.3 12.3M947.7 481.0l-12.3 12.3M932.8 487.2h17.4" stroke="#0a1018" stroke-opacity="0.85" stroke-width="1.1" fill="none"/>
<rect x="912.2" y="479.7" width="12.2" height="12.2" fill="#0a1018" fill-opacity="0.85"/>
<path d="M924.8 491.1h17.4M933.5 482.4v17.4" stroke="#0a1018" stroke-opacity="0.85" stroke-width="1.1" fill="none"/>
<path d="M922.5 482.0h12.4v12.4h-12.4zl12.4 12.4m0 -12.4l-12.4 12.4" stroke="#0a1018" stroke-opacity="0.85" stroke-width="1.1" fill="none"/>
<path d="M933.1 490.8h12.4v12.4h-12.4zl12.4 12.4m0 -12.4l-12.4 12.4" stroke="#0a1018" stroke-opacity="0.85" stroke-width="1.1" fill="none"/>
<path d="M944.3 489.0v17.4M938.2 491.5l12.3 12.3M950.5 491.5l-12.3 12.3M935.6 497.7h17.4" stroke="#0a1018" stroke-opacity="0.85" stroke-width="1.1" fill="none"/>
<path d="M937.0 479.3h12.4v12.4h-12.4zl12.4 12.4m0 -12.4l-12.4 12.4" stroke="#0a1018" stroke-opacity="0.85" stroke-width="1.1" fill="none"/>
<path d="M930.1 480.9h12.4v12.4h-12.4zl12.4 12.4m0 -12.4l-12.4 12.4" stroke="#0a1018" stroke-opacity="0.85" stroke-width="1.1" fill="none"/>
<path d="M954.8 488.0h12.4v12.4h-12.4zl12.4 12.4m0 -12.4l-12.4 12.4" stroke="#0a1018" stroke-opacity="0.85" stroke-width="1.1" fill="none"/>
<path d="M936.4 486.0v17.4M930.2 488.6l12.3 12.3M942.5 488.6l-12.3 12.3M927.7 494.7h17.4" stroke="#0a1018" stroke-opacity="0.85" stroke-width="1.1" fill="none"/>
<rect x="938.0" y="482.4" width="12.2" height="12.2" fill="#0a1018" fill-opacity="0.85"/>
<path d="M939.5 497.0h12.4v12.4h-12.4zl12.4 12.4m0 -12.4l-12.4 12.4" stroke="#0a1018" stroke-opacity="0.85" stroke-width="1.1" fill="none"/>
<circle cx="940.5" cy="490.8" r="5.9" fill="#0a1018" fill-opacity="0.85"/>
<path d="M962.1 469.4l7.9 13.9h-15.8z" fill="#0a1018" fill-opacity="0.85"/>
<rect x="925.4" y="484.4" width="12.2" height="12.2" fill="#0a1018" fill-opacity="0.85"/>
<path d="M927.5 480.8h12.4v12.4h-12.4zl12.4 12.4m0 -12.4l-12.4 12.4" stroke="#0a1018" stroke-opacity="0.85" stroke-width="1.1" fill="none"/>
<path d="M947.2 481.5v17.4M941.0 484.1l12.3 12.3M953.3 484.1l-12.3 12.3M938.5 490.2h17.4" stroke="#0a1018" stroke-opacity="0.85" stroke-width="1.1" fill="none"/>
<path d="M937.7 479.4v17.4M931.6 481.9l12.3 12.3M943.9 481.9l-12.3 12.3M929.0 488.1h17.4" stroke="#0a1018" stroke-opacity="0.85" stroke-width="1.1" fill="none"/>
<path d="M927.3 487.3h12.4v12.4h-12.4zl12.4 12.4m0 -12.4l-12.4 12.4" stroke="#0a1018" stroke-opacity="0.85" stroke-width="1.1" fill="none"/>
<path d="M944.5 492.2h12.4v12.4h-12.4zl12.4 12.4m0 -12.4l-12.4 12.4" stroke="#0a1018" stroke-opacity="0.85" stroke-width="1.1" fill="none"/>
<circle cx="942.2" cy="495.8" r="5.9" fill="#0a1018" fill-opacity="0.85"/>
<circle cx="936.6" cy="496.5" r="5.9" fill="#0a1018" fill-opacity="0.85"/>
<path d="M925.2 491.0h17.4M933.9 482.3v17.4" stroke="#0a1018" stroke-opacity="0.85" stroke-width="1.1" fill="none"/>
<rect x="934.1" y="490.9" width="12.2" height="12.2" fill="#0a1018" fill-opacity="0.85"/>
<circle cx="934.8" cy="487.0" r="5.9" fill="#0a1018" fill-opacity="0.85"/>
<rect x="927.1" y="479.1" width="12.2" height="12.2" fill="#0a1018" fill-opacity="0.85"/>
<path d="M918.3 494.4h17.4M927.0 485.7v17.4" stroke="#0a1018" stroke-opacity="0.85" stroke-width="1.1" fill="none"/>
<path d="M931.3 491.1h17.4M940.0 482.4v17.4" stroke="#0a1018" stroke-opacity="0.85" stroke-width="1.1" fill="none"/>
<path d="M928.6 496.3h17.4M937.3 487.6v17.4" stroke="#0a1018" stroke-opacity="0.85" stroke-width="1.1" fill="none"/>
<path d="M946.3 486.5l7.9 13.9h-15.8z" fill="#0a1018" fill-opacity="0.85"/>
<path d="M930.5 496.8h17.4M939.2 488.1v17.4" stroke="#0a1018" stroke-opacity="0.85" stroke-width="1.1" fill="none"/>
<rect x="951.2" y="487.5" width="12.2" height="12.2" fill="#0a1018" fill-opacity="0.85"/>
<path d="M941.7 482.7v17.4M935.6 485.2l12.3 12.3M947.9 485.2l-12.3 12.3M933.0 491.4h17.4" stroke="#0a1018" stroke-opacity="0.85" stroke-width="1.1" fill="none"/>
<rect x="944.9" y="481.1" width="12.2" height="12.2" fill="#0a1018" fill-opacity="0.85"/>
<rect x="944.1" y="482.1" width="12.2" height="12.2" fill="#0a1018" fill-opacity="0.85"/>
<path d="M949.5 489.7h12.4v12.4h-12.4zl12.4 12.4m0 -12.4l-12.4 12.4" stroke="#0a1018" stroke-opacity="0.85" stroke-width="1.1" fill="none"/>
<rect x="927.7" y="492.1" width="12.2" height="12.2" fill="#0a1018" fill-opacity="0.85"/>
<circle cx="926.6" cy="490.7" r="5.9" fill="#0a1018" fill-opacity="0.85"/>
<path d="M925.2 484.3h17.4M933.9 475.6v17.4" stroke="#0a1018" stroke-opacity="0.85" stroke-width="1.1" fill="none"/>
<rect x="941.3" y="495.4" width="12.2" height="12.2" fill="#0a1018" fill-opacity="0.85"/>
<circle cx="947.6" cy="496.0" r="5.9" fill="#0a1018" fill-opacity="0.85"/>
<path d="M922.2 487.8l7.9 13.9h-15.8z" fill="#0a1018" fill-opacity="0.85"/>
<path d="M929.5 499.6h17.4M938.2 490.9v17.4" stroke="#0a1018" stroke-opacity="0.85" stroke-width="1.1" fill="none"/>
<path d="M932.5 480.6l7.9 13.9h-15.8z" fill="#0a1018" fill-opacity="0.85"/>
<path d="M916.7 485.6h17.4M925.4 476.9v17.4" stroke="#0a1018" stroke-opacity="0.85" stroke-width="1.1" fill="none"/>
<path d="M912.3 489.6h12.4v12.4h-12.4zl12.4 12.4m0 -12.4l-12.4 12.4" stroke="#0a1018" stroke-opacity="0.85" stroke-width="1.1" fill="none"/>
<path d="M940.2 483.8v17.4M934.0 486.4l12.3 12.3M946.3 486.4l-12.3 12.3M931.5 492.5h17.4" stroke="#0a1018" stroke-opacity="0.85" stroke-width="1.1" fill="none"/>
<path d="M937.1 478.1h12.4v12.4h-12.4zl12.4 12.4m0 -12.4l-12.4 12.4" stroke="#0a1018" stroke-opacity="0.85" stroke-width="1.1" fill="none"/>
<rect x="934.5" y="484.1" width="12.2" height="12.2" fill="#0a1018" fill-opacity="0.85"/>
<path d="M941.7 486.9h17.4M950.4 478.2v17.4" stroke="#0a1018" stroke-opacity="0.85" stroke-width="1.1" fill="none"/>
<path d="M915.5 486.5h17.4M924.2 477.8v17.4" stroke="#0a1018" stroke-opacity="0.85" stroke-width="1.1" fill="none"/>
<rect x="938.4" y="489.9" width="12.2" height="12.2" fill="#0a1018" fill-opacity="0.85"/>
<path d="M923.8 480.2h17.4M932.5 471.5v17.4" stroke="#0a1018" stroke-opacity="0.85" stroke-width="1.1" fill="none"/>
<path d="M942.4 471.9v17.4M936.3 474.5l12.3 12.3M948.6 474.5l-12.3 12.3M933.7 480.6h17.4" stroke="#0a1018" stroke-opacity="0.85" stroke-width="1.1" fill="none"/>
<rect x="949.4" y="491.8" width="12.2" height="12.2" fill="#0a1018" fill-opacity="0.85"/>
<path d="M933.3 486.2v17.4M927.1 488.7l12.3 12.3M939.4 488.7l-12.3 12.3M924.6 494.9h17.4" stroke="#0a1018" stroke-opacity="0.85" stroke-width="1.1" fill="none"/>
<path d="M931.8 471.4v17.4M925.6 473.9l12.3 12.3M937.9 473.9l-12.3 12.3M923.1 480.1h17.4" stroke="#0a1018" stroke-opacity="0.85" stroke-width="1.1" fill="none"/>
<path d="M942.8 487.8h12.4v12.4h-12.4zl12.4 12.4m0 -12.4l-12.4 12.4" stroke="#0a1018" stroke-opacity="0.85" stroke-width="1.1" fill="none"/>
<rect x="927.7" y="475.8" width="12.2" height="12.2" fill="#0a1018" fill-opacity="0.85"/>
<path d="M942.5 499.4h17.4M951.2 490.7v17.4" stroke="#0a1018" stroke-opacity="0.85" stroke-width="1.1" fill="none"/>
<path d="M944.8 482.5v17.4M938.7 485.0l12.3 12.3M951.0 485.0l-12.3 12.3M936.1 491.2h17.4" stroke="#0a1018" stroke-opacity="0.85" stroke-width="1.1" fill="none"/>
<rect x="909.8" y="482.8" width="12.2" height="12.2" fill="#0a1018" fill-opacity="0.85"/>
<rect x="934.2" y="499.0" width="12.2" height="12.2" fill="#0a1018" fill-opacity="0.85"/>
<path d="M950.2 487.3v17.4M944.1 489.9l12.3 12.3M956.4 489.9l-12.3 12.3M941.5 496.0h17.4" stroke="#0a1018" stroke-opacity="0.85" stroke-width="1.1" fill="none"/>
<rect x="929.2" y="486.6" width="12.2" height="12.2" fill="#0a1018" fill-opacity="0.85"/>
<path d="M923.2 482.2h17.4M931.9 473.5v17.4" stroke="#0a1018" stroke-opacity="0.85" stroke-width="1.1" fill="none"/>
<path d="M931.3 496.4h17.4M940.0 487.7v17.4" stroke="#0a1018" stroke-opacity="0.85" stroke-width="1.1" fill="none"/>
<rect x="939.6" y="480.1" width="12.2" height="12.2" fill="#0a1018" fill-opacity="0.85"/>
<path d="M941.9 482.8h12.4v12.4h-12.4zl12.4 12.4m0 -12.4l-12.4 12.4" stroke="#0a1018" stroke-opacity="0.85" stroke-width="1.1" fill="none"/>
<path d="M961.5 478.8l7.9 13.9h-15.8z" fill="#0a1018" fill-opacity="0.85"/>
<circle cx="949.3" cy="493.1" r="5.9" fill="#0a1018" fill-opacity="0.85"/>
<path d="M947.5 491.1h17.4M956.2 482.4v17.4" stroke="#0a1018" stroke-opacity="0.85" stroke-width="1.1" fill="none"/>
<path d="M923.2 479.3h17.4M931.9 470.6v17.4" stroke="#0a1018" stroke-opacity="0.85" stroke-width="1.1" fill="none"/>
<path d="M944.8 480.9v17.4M938.7 483.5l12.3 12.3M951.0 483.5l-12.3 12.3M936.1 489.6h17.4" stroke="#0a1018" stroke-opacity="0.85" stroke-width="1.1" fill="none"/>
<path d="M945.7 481.0v17.4M939.5 483.6l12.3 12.3M951.8 483.6l-12.3 12.3M937.0 489.7h17.4" stroke="#0a1018" stroke-opacity="0.85" stroke-width="1.1" fill="none"/>
<path d="M934.2 480.9h12.4v12.4h-12.4zl12.4 12.4m0 -12.4l-12.4 12.4" stroke="#0a1018" stroke-opacity="0.85" stroke-width="1.1" fill="none"/>
<rect x="933.3" y="496.9" width="12.2" height="12.2" fill="#0a1018" fill-opacity="0.85"/>
<path d="M919.8 492.3h17.4M928.5 483.6v17.4" stroke="#0a1018" stroke-opacity="0.85" stroke-width="1.1" fill="none"/>
<path d="M930.2 483.9v17.4M924.0 486.5l12.3 12.3M936.3 486.5l-12.3 12.3M921.5 492.6h17.4" stroke="#0a1018" stroke-opacity="0.85" stroke-width="1.1" fill="none"/>
<rect x="918.2" y="486.0" width="12.2" height="12.2" fill="#0a1018" fill-opacity="0.85"/>
<path d="M943.6 479.5v17.4M937.5 482.0l12.3 12.3M949.8 482.0l-12.3 12.3M934.9 488.2h17.4" stroke="#0a1018" stroke-opacity="0.85" stroke-width="1.1" fill="none"/>
<path d="M929.9 486.3h12.4v12.4h-12.4zl12.4 12.4m0 -12.4l-12.4 12.4" stroke="#0a1018" stroke-opacity="0.85" stroke-width="1.1" fill="none"/>
<rect x="927.4" y="489.4" width="12.2" height="12.2" fill="#0a1018" fill-opacity="0.85"/>
<path d="M913.1 490.2h17.4M921.8 481.5v17.4" stroke="#0a1018" stroke-opacity="0.85" stroke-width="1.1" fill="none"/>
<path d="M920.4 492.9l7.9 13.9h-15.8z" fill="#0a1018" fill-opacity="0.85"/>
<rect x="931.7" y="491.5" width="12.2" height="12.2" fill="#0a1018" fill-opacity="0.85"/>
<rect x="930.4" y="474.2" width="12.2" height="12.2" fill="#0a1018" fill-opacity="0.85"/>
<rect x="934.6" y="475.0" width="12.2" height="12.2" fill="#0a1018" fill-opacity="0.85"/>
<path d="M948.2 483.5v17.4M942.0 486.1l12.3 12.3M954.3 486.1l-12.3 12.3M939.5 492.2h17.4" stroke="#0a1018" stroke-opacity="0.85" stroke-width="1.1" fill="none"/>
<path d="M919.4 486.7v17.4M913.2 489.3l12.3 12.3M925.5 489.3l-12.3 12.3M910.7 495.4h17.4" stroke="#0a1018" stroke-opacity="0.85" stroke-width="1.1" fill="none"/>
<path d="M922.1 501.4h17.4M930.8 492.7v17.4" stroke="#0a1018" stroke-opacity="0.85" stroke-width="1.1" fill="none"/>
<path d="M926.0 486.7h17.4M934.7 478.0v17.4" stroke="#0a1018" stroke-opacity="0.85" stroke-width="1.1" fill="none"/>
<rect x="933.1" y="487.3" width="12.2" height="12.2" fill="#0a1018" fill-opacity="0.85"/>
<path d="M933.5 483.4l7.9 13.9h-15.8z" fill="#0a1018" fill-opacity="0.85"/>
<path d="M926.1 497.8h17.4M934.8 489.1v17.4" stroke="#0a1018" stroke-opacity="0.85" stroke-width="1.1" fill="none"/>
<path d="M925.9 484.1h17.4M934.6 475.4v17.4" stroke="#0a1018" stroke-opacity="0.85" stroke-width="1.1" fill="none"/>
<circle cx="937.9" cy="501.9" r="5.9" fill="#0a1018" fill-opacity="0.85"/>
<path d="M917.3 494.6h12.4v12.4h-12.4zl12.4 12.4m0 -12.4l-12.4 12.4" stroke="#0a1018" stroke-opacity="0.85" stroke-width="1.1" fill="none"/>
<rect x="921.7" y="483.9" width="12.2" height="12.2" fill="#0a1018" fill-opacity="0.85"/>
<path d="M923.1 492.2l7.9 13.9h-15.8z" fill="#0a1018" fill-opacity="0.85"/>
<path d="M938.4 495.3h17.4M947.1 486.6v17.4" stroke="#0a1018" stroke-opacity="0.85" stroke-width="1.1" fill="none"/>
<rect x="933.5" y="487.2" width="12.2" height="12.2" fill="#0a1018" fill-opacity="0.85"/>
<rect x="932.7" y="477.9" width="12.2" height="12.2" fill="#0a1018" fill-opacity="0.85"/>
<path d="M943.1 471.0h12.4v12.4h-12.4zl12.4 12.4m0 -12.4l-12.4 12.4" stroke="#0a1018" stroke-opacity="0.85" stroke-width="1.1" fill="none"/>
<path d="M936.9 481.7l7.9 13.9h-15.8z" fill="#0a1018" fill-opacity="0.85"/>
<rect x="923.7" y="483.2" width="12.2" height="12.2" fill="#0a1018" fill-opacity="0.85"/>
<path d="M959.3 480.1l7.9 13.9h-15.8z" fill="#0a1018" fill-opacity="0.85"/>
<path d="M940.7 477.9v17.4M934.5 480.4l12.3 12.3M946.8 480.4l-12.3 12.3M932.0 486.6h17.4" stroke="#0a1018" stroke-opacity="0.85" stroke-width="1.1" fill="none"/>
<path d="M947.9 488.0v17.4M941.8 490.5l12.3 12.3M954.1 490.5l-12.3 12.3M939.2 496.7h17.4" stroke="#0a1018" stroke-opacity="0.85" stroke-width="1.1" fill="none"/>
<path d="M932.0 486.7v17.4M925.9 489.2l12.3 12.3M938.2 489.2l-12.3 12.3M923.3 495.4h17.4" stroke="#0a1018" stroke-opacity="0.85" stroke-width="1.1" fill="none"/>
<path d="M936.9 478.4v17.4M930.7 480.9l12.3 12.3M943.0 480.9l-12.3 12.3M928.2 487.1h17.4" stroke="#0a1018" stroke-opacity="0.85" stroke-width="1.1" fill="none"/>
<path d="M938.1 495.9h12.4v12.4h-12.4zl12.4 12.4m0 -12.4l-12.4 12.4" stroke="#0a1018" stroke-opacity="0.85" stroke-width="1.1" fill="none"/>
<rect x="929.0" y="481.3" width="12.2" height="12.2" fill="#0a1018" fill-opacity="0.85"/>
<rect x="931.9" y="471.2" width="12.2" height="12.2" fill="#0a1018" fill-opacity="0.85"/>
<path d="M922.3 492.2h17.4M931.0 483.5v17.4" stroke="#0a1018" stroke-opacity="0.85" stroke-width="1.1" fill="none"/>
<path d="M930.6 496.3v17.4M924.5 498.8l12.3 12.3M936.8 498.8l-12.3 12.3M921.9 505.0h17.4" stroke="#0a1018" stroke-opacity="0.85" stroke-width="1.1" fill="none"/>
<path d="M955.8 492.6v17.4M949.6 495.1l12.3 12.3M961.9 495.1l-12.3 12.3M947.1 501.3h17.4" stroke="#0a1018" stroke-opacity="0.85" stroke-width="1.1" fill="none"/>
<path d="M928.9 497.8h17.4M937.6 489.1v17.4" stroke="#0a1018" stroke-opacity="0.85" stroke-width="1.1" fill="none"/>
<path d="M927.6 495.2h12.4v12.4h-12.4zl12.4 12.4m0 -12.4l-12.4 12.4" stroke="#0a1018" stroke-opacity="0.85" stroke-width="1.1" fill="none"/>
<path d="M935.3 486.1h12.4v12.4h-12.4zl12.4 12.4m0 -12.4l-12.4 12.4" stroke="#0a1018" stroke-opacity="0.85" stroke-width="1.1" fill="none"/>
<path d="M943.3 480.0h12.4v12.4h-12.4zl12.4 12.4m0 -12.4l-12.4 12.4" stroke="#0a1018" stroke-opacity="0.85" stroke-width="1.1" fill="none"/>
<circle cx="947.7" cy="479.0" r="5.9" fill="#0a1018" fill-opacity="0.85"/>
<path d="M918.6 487.0h12.4v12.4h-12.4zl12.4 12.4m0 -12.4l-12.4 12.4" stroke="#0a1018" stroke-opacity="0.85" stroke-width="1.1" fill="none"/>
<path d="M955.1 485.7l7.9 13.9h-15.8z" fill="#0a1018" fill-opacity="0.85"/>
<path d="M932.3 482.5h17.4M941.0 473.8v17.4" stroke="#0a1018" stroke-opacity="0.85" stroke-width="1.1" fill="none"/>
<rect x="919.0" y="483.0" width="12.2" height="12.2" fill="#0a1018" fill-opacity="0.85"/>
<path d="M935.8 494.9v17.4M929.6 497.4l12.3 12.3M941.9 497.4l-12.3 12.3M927.1 503.6h17.4" stroke="#0a1018" stroke-opacity="0.85" stroke-width="1.1" fill="none"/>
<rect x="915.9" y="495.0" width="12.2" height="12.2" fill="#0a1018" fill-opacity="0.85"/>
<path d="M938.1 476.0h12.4v12.4h-12.4zl12.4 12.4m0 -12.4l-12.4 12.4" stroke="#0a1018" stroke-opacity="0.85" stroke-width="1.1" fill="none"/>
<rect x="929.3" y="491.1" width="12.2" height="12.2" fill="#0a1018" fill-opacity="0.85"/>
<path d="M943.0 487.1l7.9 13.9h-15.8z" fill="#0a1018" fill-opacity="0.85"/>
<path d="M929.9 496.1h17.4M938.6 487.4v17.4" stroke="#0a1018" stroke-opacity="0.85" stroke-width="1.1" fill="none"/>
<path d="M952.2 482.8v17.4M946.0 485.4l12.3 12.3M958.3 485.4l-12.3 12.3M943.5 491.5h17.4" stroke="#0a1018" stroke-opacity="0.85" stroke-width="1.1" fill="none"/>
<circle cx="952.2" cy="491.7" r="5.9" fill="#0a1018" fill-opacity="0.85"/>
<path d="M930.7 488.9h17.4M939.4 480.2v17.4" stroke="#0a1018" stroke-opacity="0.85" stroke-width="1.1" fill="none"/>
<path d="M944.8 478.7h12.4v12.4h-12.4zl12.4 12.4m0 -12.4l-12.4 12.4" stroke="#0a1018" stroke-opacity="0.85" stroke-width="1.1" fill="none"/>
<rect x="932.5" y="488.4" width="12.2" height="12.2" fill="#0a1018" fill-opacity="0.85"/>
<path d="M932.5 492.3v17.4M926.4 494.9l12.3 12.3M938.7 494.9l-12.3 12.3M923.8 501.0h17.4" stroke="#0a1018" stroke-opacity="0.85" stroke-width="1.1" fill="none"/>
<rect x="922.4" y="471.1" width="12.2" height="12.2" fill="#0a1018" fill-opacity="0.85"/>
<path d="M946.9 490.4v17.4M940.7 493.0l12.3 12.3M953.0 493.0l-12.3 12.3M938.2 499.1h17.4" stroke="#0a1018" stroke-opacity="0.85" stroke-width="1.1" fill="none"/>
<path d="M942.0 477.7v17.4M935.8 480.3l12.3 12.3M948.1 480.3l-12.3 12.3M933.3 486.4h17.4" stroke="#0a1018" stroke-opacity="0.85" stroke-width="1.1" fill="none"/>
<path d="M926.4 502.0h17.4M935.1 493.3v17.4" stroke="#0a1018" stroke-opacity="0.85" stroke-width="1.1" fill="none"/>
<path d="M917.7 485.4h12.4v12.4h-12.4zl12.4 12.4m0 -12.4l-12.4 12.4" stroke="#0a1018" stroke-opacity="0.85" stroke-width="1.1" fill="none"/>
<path d="M927.3 495.1h17.4M936.0 486.4v17.4" stroke="#0a1018" stroke-opacity="0.85" stroke-width="1.1" fill="none"/>
<rect x="931.2" y="472.1" width="12.2" height="12.2" fill="#0a1018" fill-opacity="0.85"/>
<path d="M941.8 473.0h12.4v12.4h-12.4zl12.4 12.4m0 -12.4l-12.4 12.4" stroke="#0a1018" stroke-opacity="0.85" stroke-width="1.1" fill="none"/>
<circle cx="947.7" cy="496.1" r="5.9" fill="#0a1018" fill-opacity="0.85"/>
<path d="M932.8 483.3v17.4M926.6 485.8l12.3 12.3M938.9 485.8l-12.3 12.3M924.1 492.0h17.4" stroke="#0a1018" stroke-opacity="0.85" stroke-width="1.1" fill="none"/>
<path d="M935.2 483.7h12.4v12.4h-12.4zl12.4 12.4m0 -12.4l-12.4 12.4" stroke="#0a1018" stroke-opacity="0.85" stroke-width="1.1" fill="none"/>
<path d="M925.2 489.2v17.4M919.1 491.8l12.3 12.3M931.4 491.8l-12.3 12.3M916.5 497.9h17.4" stroke="#0a1018" stroke-opacity="0.85" stroke-width="1.1" fill="none"/>
<path d="M932.5 494.5h12.4v12.4h-12.4zl12.4 12.4m0 -12.4l-12.4 12.4" stroke="#0a1018" stroke-opacity="0.85" stroke-width="1.1" fill="none"/>
<path d="M930.8 479.7h12.4v12.4h-12.4zl12.4 12.4m0 -12.4l-12.4 12.4" stroke="#0a1018" stroke-opacity="0.85" stroke-width="1.1" fill="none"/>
<path d="M934.7 488.0h17.4M943.4 479.3v17.4" stroke="#0a1018" stroke-opacity="0.85" stroke-width="1.1" fill="none"/>
<path d="M945.4 475.4v17.4M939.3 477.9l12.3 12.3M951.6 477.9l-12.3 12.3M936.7 484.1h17.4" stroke="#0a1018" stroke-opacity="0.85" stroke-width="1.1" fill="none"/>
<path d="M929.4 482.7h12.4v12.4h-12.4zl12.4 12.4m0 -12.4l-12.4 12.4" stroke="#0a1018" stroke-opacity="0.85" stroke-width="1.1" fill="none"/>
<rect x="930.1" y="466.5" width="12.2" height="12.2" fill="#0a1018" fill-opacity="0.85"/>
<rect x="931.9" y="467.9" width="12.2" height="12.2" fill="#0a1018" fill-opacity="0.85"/>
<path d="M951.4 475.0h12.4v12.4h-12.4zl12.4 12.4m0 -12.4l-12.4 12.4" stroke="#0a1018" stroke-opacity="0.85" stroke-width="1.1" fill="none"/>
<path d="M979.8 476.5h12.4v12.4h-12.4zl12.4 12.4m0 -12.4l-12.4 12.4" stroke="#0a1018" stroke-opacity="0.85" stroke-width="1.1" fill="none"/>
<path d="M960.2 506.6l7.9 13.9h-15.8z" fill="#0a1018" fill-opacity="0.85"/>
<path d="M936.6 505.7v17.4M930.5 508.2l12.3 12.3M942.8 508.2l-12.3 12.3M927.9 514.4h17.4" stroke="#0a1018" stroke-opacity="0.85" stroke-width="1.1" fill="none"/>
<rect x="969.8" y="489.0" width="12.2" height="12.2" fill="#0a1018" fill-opacity="0.85"/>
<path d="M976.0 489.2l7.9 13.9h-15.8z" fill="#0a1018" fill-opacity="0.85"/>
<rect x="966.9" y="485.9" width="12.2" height="12.2" fill="#0a1018" fill-opacity="0.85"/>
<path d="M968.8 492.8h12.4v12.4h-12.4zl12.4 12.4m0 -12.4l-12.4 12.4" stroke="#0a1018" stroke-opacity="0.85" stroke-width="1.1" fill="none"/>
<path d="M968.3 488.0h17.4M977.0 479.3v17.4" stroke="#0a1018" stroke-opacity="0.85" stroke-width="1.1" fill="none"/>
<path d="M971.0 490.2l7.9 13.9h-15.8z" fill="#0a1018" fill-opacity="0.85"/>
<rect x="972.9" y="490.9" width="12.2" height="12.2" fill="#0a1018" fill-opacity="0.85"/>
<rect x="888.9" y="431.7" width="12.2" height="12.2" fill="#0a1018" fill-opacity="0.85"/>
<path d="M891.1 443.1v17.4M885.0 445.7l12.3 12.3M897.2 445.7l-12.3 12.3M882.4 451.8h17.4" stroke="#0a1018" stroke-opacity="0.85" stroke-width="1.1" fill="none"/>
<circle cx="909.4" cy="572.8" r="5.9" fill="#0a1018" fill-opacity="0.85"/>
<path d="M893.9 572.7v17.4M887.8 575.2l12.3 12.3M900.0 575.2l-12.3 12.3M885.2 581.4h17.4" stroke="#0a1018" stroke-opacity="0.85" stroke-width="1.1" fill="none"/>
</g>
<g id="ellipses">
<ellipse cx="191.2" cy="262.2" rx="84.00" ry="70.31" transform="rotate(58.04 191.2 262.2)" fill="#404040" fill-opacity="0.15" stroke="#ec8c3c" stroke-width="1.60"/>
<ellipse cx="444.5" cy="152.3" rx="36.16" ry="22.32" transform="rotate(-79.65 444.5 152.3)" fill="#404040" fill-opacity="0.15" stroke="#82d6c8" stroke-width="1.60"/>
<ellipse cx="498.2" cy="260.6" rx="207.16" ry="37.42" transform="rotate(18.05 498.2 260.6)" fill="#404040" fill-opacity="0.15" stroke="#143432" stroke-width="1.60"/>
<ellipse cx="422.5" cy="425.0" rx="14.76" ry="13.83" transform="rotate(65.31 422.5 425.0)" fill="#404040" fill-opacity="0.15" stroke="#1e3f7c" stroke-width="1.60"/>
<ellipse cx="473.7" cy="469.4" rx="23.83" ry="15.16" transform="rotate(-26.23 473.7 469.4)" fill="#404040" fill-opacity="0.15" stroke="#12a080" stroke-width="1.60"/>
<ellipse cx="183.7" cy="522.1" rx="25.72" ry="13.92" transform="rotate(10.79 183.7 522.1)" fill="#404040" fill-opacity="0.15" stroke="#f05a32" stroke-width="1.60"/>
<ellipse cx="649.0" cy="545.0" rx="27.45" ry="21.64" transform="rotate(-53.05 649.0 545.0)" fill="#404040" fill-opacity="0.15" stroke="#a00c3c" stroke-width="1.60"/>
<ellipse cx="947.6" cy="226.5" rx="72.63" ry="20.40" transform="rotate(-4.74 947.6 226.5)" fill="#404040" fill-opacity="0.15" stroke="#2070b8" stroke-width="1.60"/>
<ellipse cx="957.3" cy="328.4" rx="45.05" ry="22.43" transform="rotate(-62.19 957.3 328.4)" fill="#404040" fill-opacity="0.15" stroke="#e03c68" stroke-width="1.60"/>
<ellipse cx="961.3" cy="272.0" rx="37.94" ry="17.88" transform="rotate(-16.69 961.3 272.0)" fill="#404040" fill-opacity="0.15" stroke="#5a4668" stroke-width="1.60"/>
<ellipse cx="937.5" cy="492.6" rx="32.42" ry="16.36" transform="rotate(2.20 937.5 492.6)" fill="#404040" fill-opacity="0.15" stroke="#0e141a" stroke-width="1.60"/>
</g>
</g>
<rect x="72.0" y="89.7" width="992.1" height="620.3" fill="none" stroke="#000" stroke-width="1.85"/>
<text x="66.9" y="142.3" font-size="21.6" text-anchor="end" fill="#4d4d4d" stroke="#4d4d4d" stroke-width="0.36">2</text>
<text x="66.9" y="269.1" font-size="21.6" text-anchor="end" fill="#4d4d4d" stroke="#4d4d4d" stroke-width="0.36">1</text>
<text x="66.9" y="395.8" font-size="21.6" text-anchor="end" fill="#4d4d4d" stroke="#4d4d4d" stroke-width="0.36">0</text>
<text x="66.9" y="522.5" font-size="21.6" text-anchor="end" fill="#4d4d4d" stroke="#4d4d4d" stroke-width="0.36">−1</text>
<text x="66.9" y="649.3" font-size="21.6" text-anchor="end" fill="#4d4d4d" stroke="#4d4d4d" stroke-width="0.36">−2</text>
<text x="286.4" y="732.9" font-size="21.4" text-anchor="middle" fill="#4d4d4d" stroke="#4d4d4d" stroke-width="0.36">−2</text>
<text x="504.4" y="732.9" font-size="21.4" text-anchor="middle" fill="#4d4d4d" stroke="#4d4d4d" stroke-width="0.36">−1</text>
<text x="722.4" y="732.9" font-size="21.4" text-anchor="middle" fill="#4d4d4d" stroke="#4d4d4d" stroke-width="0.36">0</text>
<text x="940.4" y="732.9" font-size="21.4" text-anchor="middle" fill="#4d4d4d" stroke="#4d4d4d" stroke-width="0.36">1</text>
<text x="568.2" y="755.9" font-size="25" text-anchor="middle" fill="#000" stroke="#000" stroke-width="0.45">PCoA axis 1 (Proportion of variation explained: 25.3%)</text>
<text transform="translate(35.3 399.6) rotate(-90)" font-size="25" text-anchor="middle" fill="#000" stroke="#000" stroke-width="0.45">PCoA axis 2 (Proportion of variation explained: 14.2%)</text>
</g>
<g id="legend-cluster">
<text x="215.6" y="817.4" font-size="25" fill="#000" stroke="#000" stroke-width="0.45">Cluster</text>
<circle cx="316.1" cy="788.4" r="6.3" fill="#283d7a" fill-opacity="0.85"/>
<rect x="307.5" y="779.2" width="17.2" height="18.4" fill="#404040" fill-opacity="0.13" stroke="#1e3f7c" stroke-width="1.3"/>
<text x="337.7" y="795.9" font-size="20.3" fill="#000" stroke="#000" stroke-width="0.36">A</text>
<circle cx="316.1" cy="807.8" r="6.3" fill="#a21c3a" fill-opacity="0.85"/>
<rect x="307.5" y="798.6" width="17.2" height="18.4" fill="#404040" fill-opacity="0.13" stroke="#a00c3c" stroke-width="1.3"/>
<text x="337.7" y="815.3" font-size="20.3" fill="#000" stroke="#000" stroke-width="0.36">B</text>
<circle cx="316.1" cy="827.1" r="6.3" fill="#a5e9d9" fill-opacity="0.72"/>
<rect x="307.5" y="817.9" width="17.2" height="18.4" fill="#404040" fill-opacity="0.13" stroke="#82d6c8" stroke-width="1.3"/>
<text x="337.7" y="834.6" font-size="20.3" fill="#000" stroke="#000" stroke-width="0.36">C</text>
<circle cx="373.9" cy="788.4" r="6.3" fill="#3e70b8" fill-opacity="0.85"/>
<rect x="365.3" y="779.2" width="17.2" height="18.4" fill="#404040" fill-opacity="0.13" stroke="#2070b8" stroke-width="1.3"/>
<text x="395.5" y="795.9" font-size="20.3" fill="#000" stroke="#000" stroke-width="0.36">D</text>
<circle cx="373.9" cy="807.8" r="6.3" fill="#0a1018" fill-opacity="0.85"/>
<rect x="365.3" y="798.6" width="17.2" height="18.4" fill="#404040" fill-opacity="0.13" stroke="#0e141a" stroke-width="1.3"/>
<text x="395.5" y="815.3" font-size="20.3" fill="#000" stroke="#000" stroke-width="0.36">E</text>
<circle cx="373.9" cy="827.1" r="6.3" fill="#1b3330" fill-opacity="0.85"/>
<rect x="365.3" y="817.9" width="17.2" height="18.4" fill="#404040" fill-opacity="0.13" stroke="#143432" stroke-width="1.3"/>
<text x="395.5" y="834.6" font-size="20.3" fill="#000" stroke="#000" stroke-width="0.36">F</text>
<circle cx="431.3" cy="788.4" r="6.3" fill="#f9a45a" fill-opacity="0.85"/>
<rect x="422.7" y="779.2" width="17.2" height="18.4" fill="#404040" fill-opacity="0.13" stroke="#ec8c3c" stroke-width="1.3"/>
<text x="452.9" y="795.9" font-size="20.3" fill="#000" stroke="#000" stroke-width="0.36">G</text>
<circle cx="431.3" cy="807.8" r="6.3" fill="#fa693c" fill-opacity="0.85"/>
<rect x="422.7" y="798.6" width="17.2" height="18.4" fill="#404040" fill-opacity="0.13" stroke="#f05a32" stroke-width="1.3"/>
<text x="452.9" y="815.3" font-size="20.3" fill="#000" stroke="#000" stroke-width="0.36">H</text>
<circle cx="431.3" cy="827.1" r="6.3" fill="#fd6a86" fill-opacity="0.80"/>
<rect x="422.7" y="817.9" width="17.2" height="18.4" fill="#404040" fill-opacity="0.13" stroke="#e03c68" stroke-width="1.3"/>
<text x="452.9" y="834.6" font-size="20.3" fill="#000" stroke="#000" stroke-width="0.36">I</text>
<circle cx="490.0" cy="788.4" r="6.3" fill="#725a83" fill-opacity="0.80"/>
<rect x="481.4" y="779.2" width="17.2" height="18.4" fill="#404040" fill-opacity="0.13" stroke="#5a4668" stroke-width="1.3"/>
<text x="511.6" y="795.9" font-size="20.3" fill="#000" stroke="#000" stroke-width="0.36">J</text>
<circle cx="490.0" cy="807.8" r="6.3" fill="#55d4a5" fill-opacity="0.72"/>
<rect x="481.4" y="798.6" width="17.2" height="18.4" fill="#404040" fill-opacity="0.13" stroke="#12a080" stroke-width="1.3"/>
<text x="511.6" y="815.3" font-size="20.3" fill="#000" stroke="#000" stroke-width="0.36">K</text>
</g>
<g id="legend-site">
<text x="547.7" y="807.6" font-size="25" fill="#000" stroke="#000" stroke-width="0.45">Study site</text>
<circle cx="678.9" cy="788.2" r="5.9" fill="#222629" fill-opacity="1.00"/>
<path d="M678.9 798.9l7.9 13.9h-15.8z" fill="#222629" fill-opacity="1.00"/>
<rect x="760.5" y="782.3" width="12.2" height="12.2" fill="#222629" fill-opacity="1.00"/>
<path d="M757.9 808.0h17.4M766.6 799.3v17.4" stroke="#222629" stroke-opacity="1.00" stroke-width="1.1" fill="none"/>
<path d="M846.2 782.2h12.4v12.4h-12.4zl12.4 12.4m0 -12.4l-12.4 12.4" stroke="#222629" stroke-opacity="1.00" stroke-width="1.1" fill="none"/>
<path d="M852.4 799.3v17.4M846.2 801.9l12.3 12.3M858.5 801.9l-12.3 12.3M843.7 808.0h17.4" stroke="#222629" stroke-opacity="1.00" stroke-width="1.1" fill="none"/>
<text x="700.4" y="795.4" font-size="20.3" fill="#000" stroke="#000" stroke-width="0.36">AUS</text>
<text x="700.4" y="815.3" font-size="20.3" fill="#000" stroke="#000" stroke-width="0.36">GRE</text>
<text x="788.0" y="795.4" font-size="20.3" fill="#000" stroke="#000" stroke-width="0.36">SAN</text>
<text x="788.0" y="815.3" font-size="20.3" fill="#000" stroke="#000" stroke-width="0.36">SEV</text>
<text x="873.4" y="795.4" font-size="20.3" fill="#000" stroke="#000" stroke-width="0.36">SLO</text>
<text x="873.4" y="815.3" font-size="20.3" fill="#000" stroke="#000" stroke-width="0.36">SWE</text>
</g>
<g id="heatmap">
<text x="1676.6" y="24.6" font-size="25" text-anchor="middle" fill="#000" stroke="#000" stroke-width="0.45">Virulence clusters</text>
<text x="1676.6" y="796.5" font-size="25" text-anchor="middle" fill="#000" stroke="#000" stroke-width="0.45">Sample</text>
<text transform="translate(1181.6 416.5) rotate(-90)" font-size="25" text-anchor="middle" fill="#000" stroke="#000" stroke-width="0.45">Gene</text>
<g font-size="17.8" text-anchor="end" fill="#4d4d4d" stroke="#4d4d4d" stroke-width="0.36">
<text x="1299.3" y="74.9">wzz</text>
<text x="1299.3" y="90.8">wzy</text>
<text x="1299.3" y="106.6">tufA</text>
<text x="1299.3" y="122.4">tpnA</text>
<text x="1299.3" y="138.3">toxA</text>
<text x="1299.3" y="154.1">rhlI</text>
<text x="1299.3" y="169.9">rhlB</text>
<text x="1299.3" y="185.8">rhlA</text>
<text x="1299.3" y="201.6">pvdL</text>
<text x="1299.3" y="217.4">pvdJ</text>
<text x="1299.3" y="233.3">pvdI</text>
<text x="1299.3" y="249.1">pvdE</text>
<text x="1299.3" y="264.9">pvdD</text>
<text x="1299.3" y="280.8">prpR</text>
<text x="1299.3" y="296.6">ppkA</text>
<text x="1299.3" y="312.5">pilY2</text>
<text x="1299.3" y="328.3">pilY1</text>
<text x="1299.3" y="344.1">pilX</text>
<text x="1299.3" y="360.0">pilW</text>
<text x="1299.3" y="375.8">pilV</text>
<text x="1299.3" y="391.6">pilE</text>
<text x="1299.3" y="407.5">phzH</text>
<text x="1299.3" y="423.3">phzG1</text>
<text x="1299.3" y="439.1">phzF1</text>
<text x="1299.3" y="455.0">phzE1</text>
<text x="1299.3" y="470.8">phzD1</text>
<text x="1299.3" y="486.6">phzC1</text>
<text x="1299.3" y="502.5">pchF</text>
<text x="1299.3" y="518.3">opdO</text>
<text x="1299.3" y="534.1">lasR</text>
<text x="1299.3" y="550.0">hemagglutinin</text>
<text x="1299.3" y="565.8">fpvA</text>
<text x="1299.3" y="581.7">fliS</text>
<text x="1299.3" y="597.5">fliD</text>
<text x="1299.3" y="613.3">fliC</text>
<text x="1299.3" y="629.2">flgL</text>
<text x="1299.3" y="645.0">fleP</text>
<text x="1299.3" y="660.8">fleIflag</text>
<text x="1299.3" y="676.7">fimU</text>
<text x="1299.3" y="692.5">fimT</text>
<text x="1299.3" y="708.3">fha1</text>
<text x="1299.3" y="724.2">exoY</text>
<text x="1299.3" y="740.0">exoU</text>
<text x="1299.3" y="755.8">exoS</text>
<text x="1299.3" y="771.7">algPalgR3</text>
</g>
<g font-size="17.8" text-anchor="middle" fill="#1a1a1a" stroke="#1a1a1a" stroke-width="0.36">
<text x="1316.5" y="53.0">A</text>
<text x="1342.5" y="53.0">B</text>
<text x="1382.4" y="53.0">C</text>
<text x="1437.5" y="53.0">D</text>
<text x="1573.5" y="53.0">E</text>
<text x="1693.5" y="53.0">F</text>
<text x="1722.5" y="53.0">G</text>
<text x="1766.5" y="53.0">H</text>
<text x="1818.6" y="53.0">I</text>
<text x="1899.0" y="53.0">J</text>
<text x="2002.8" y="53.0">K</text>
</g>
<g id="panel-A">
<rect x="1303.85" y="59.55" width="25.30" height="714.10" fill="#1264b6"/>
<path d="M1325.76 59.55h0.95v32.42h-0.95zM1306.90 91.97h0.95v15.84h-0.95zM1312.00 91.97h0.95v15.84h-0.95zM1325.76 91.97h0.95v15.84h-0.95zM1303.85 107.81h25.30v15.84h-25.30zM1303.85 202.82h25.30v63.34h-25.30zM1319.09 266.16h0.95v15.84h-0.95zM1325.76 313.67h0.95v31.67h-0.95zM1312.00 408.68h0.95v15.84h-0.95zM1313.71 408.68h0.95v15.84h-0.95zM1316.54 408.68h0.95v15.84h-0.95zM1305.91 424.52h0.95v15.84h-0.95zM1311.58 424.52h0.95v15.84h-0.95zM1314.89 424.52h0.71v15.84h-0.71zM1319.09 424.52h0.95v15.84h-0.95zM1303.85 440.35h25.30v15.84h-25.30zM1306.62 456.19h0.95v15.84h-0.95zM1312.76 456.19h5.67v15.84h-5.67zM1321.51 456.19h0.95v15.84h-0.95zM1306.62 472.02h0.95v15.84h-0.95zM1310.87 472.02h0.95v15.84h-0.95zM1315.12 472.02h0.95v15.84h-0.95zM1320.09 472.02h0.95v15.84h-0.95zM1308.74 487.86h0.95v15.84h-0.95zM1305.67 503.70h0.71v15.84h-0.71zM1308.51 503.70h1.42v15.84h-1.42zM1312.05 503.70h2.13v15.84h-2.13zM1315.60 503.70h0.71v15.84h-0.71zM1317.73 503.70h1.42v15.84h-1.42zM1326.94 503.70h0.71v15.84h-0.71zM1310.87 519.53h0.95v15.84h-0.95zM1303.85 535.37h25.30v15.84h-25.30zM1303.85 551.20h25.30v15.84h-25.30zM1325.76 677.89h0.95v15.84h-0.95zM1327.18 693.72h0.95v15.84h-0.95zM1303.85 725.39h25.30v15.84h-25.30z" fill="#ade3d1"/>
<path d="M1307.09 107.81h0.99v15.84h-0.99zM1309.93 107.81h1.13v15.84h-1.13zM1312.48 107.81h0.99v15.84h-0.99zM1314.18 107.81h1.13v15.84h-1.13zM1315.88 107.81h1.84v15.84h-1.84zM1321.27 107.81h2.84v15.84h-2.84zM1325.24 107.81h0.99v15.84h-0.99zM1327.37 107.81h0.99v15.84h-0.99zM1310.64 440.35h2.13v15.84h-2.13zM1319.14 440.35h1.42v15.84h-1.42zM1322.69 440.35h2.13v15.84h-2.13zM1326.23 440.35h1.42v15.84h-1.42zM1306.62 535.37h0.95v15.84h-0.95zM1326.47 535.37h0.95v15.84h-0.95zM1326.47 551.20h0.95v15.84h-0.95z" fill="#1264b6"/>
<pattern id="txA" width="9.10" height="15.836" patternUnits="userSpaceOnUse" patternTransform="translate(1304.20 59.95)"><rect x="4.10" y="0" width="5.00" height="15.836" fill="#ffffe6" fill-opacity="0.117"/><rect x="0" y="0" width="4.10" height="0.7" fill="#ffffe6" fill-opacity="0.1"/></pattern>
<rect x="1303.85" y="59.55" width="25.30" height="714.10" fill="url(#txA)"/>
<rect x="1303.90" y="59.80" width="25.20" height="714.50" fill="none" stroke="#000" stroke-width="1.75"/>
</g>
<g id="panel-B">
<rect x="1334.85" y="59.55" width="15.40" height="714.10" fill="#1264b6"/>
<path d="M1334.85 59.55h15.40v32.42h-15.40zM1335.17 91.97h1.99v15.84h-1.99zM1338.00 91.97h0.99v15.84h-0.99zM1343.49 91.97h0.95v15.84h-0.95zM1347.51 91.97h2.74v15.84h-2.74zM1334.85 107.81h15.40v15.84h-15.40zM1336.40 123.64h0.95v15.84h-0.95zM1346.04 123.64h0.95v15.84h-0.95zM1348.45 123.64h0.95v15.84h-0.95zM1348.45 139.48h0.95v63.34h-0.95zM1334.85 202.82h15.40v63.34h-15.40zM1335.45 266.16h1.42v15.84h-1.42zM1339.71 266.16h1.42v15.84h-1.42zM1342.54 266.16h0.71v15.84h-0.71zM1345.38 266.16h0.71v15.84h-0.71zM1348.22 266.16h1.42v15.84h-1.42zM1348.45 282.00h0.95v15.84h-0.95zM1334.85 297.83h15.40v95.01h-15.40zM1348.45 392.85h0.95v31.67h-0.95zM1344.90 424.52h0.95v15.84h-0.95zM1348.45 424.52h0.95v15.84h-0.95zM1336.16 440.35h1.42v15.84h-1.42zM1340.42 440.35h0.71v15.84h-0.71zM1345.38 440.35h0.71v15.84h-0.71zM1348.45 440.35h0.95v15.84h-0.95zM1335.69 456.19h0.95v15.84h-0.95zM1340.65 456.19h0.95v15.84h-0.95zM1348.45 456.19h0.95v15.84h-0.95zM1335.45 472.02h2.84v15.84h-2.84zM1343.77 472.02h0.95v15.84h-0.95zM1348.45 472.02h0.95v15.84h-0.95zM1348.45 487.86h0.95v31.67h-0.95zM1336.11 519.53h0.95v15.84h-0.95zM1341.78 519.53h0.95v15.84h-0.95zM1348.45 519.53h0.95v15.84h-0.95zM1335.45 535.37h1.13v15.84h-1.13zM1338.57 535.37h0.85v15.84h-0.85zM1341.12 535.37h0.71v15.84h-0.71zM1346.09 535.37h0.71v15.84h-0.71zM1348.92 535.37h0.99v15.84h-0.99zM1334.85 551.20h15.40v142.52h-15.40zM1348.45 693.72h0.95v15.84h-0.95zM1342.07 709.56h0.95v15.84h-0.95zM1344.90 709.56h0.95v15.84h-0.95zM1348.45 709.56h0.95v15.84h-0.95zM1335.45 725.39h1.70v15.84h-1.70zM1339.00 725.39h0.99v15.84h-0.99zM1341.12 725.39h1.42v15.84h-1.42zM1343.25 725.39h1.42v15.84h-1.42zM1346.09 725.39h1.42v15.84h-1.42zM1348.92 725.39h0.99v15.84h-0.99zM1337.15 741.23h1.13v15.84h-1.13zM1339.42 741.23h0.99v15.84h-0.99zM1341.41 741.23h1.13v15.84h-1.13zM1343.68 741.23h1.42v15.84h-1.42zM1346.09 741.23h2.13v15.84h-2.13zM1348.45 757.06h0.95v16.59h-0.95z" fill="#ade3d1"/>
<path d="M1337.15 107.81h1.13v15.84h-1.13zM1339.71 107.81h0.71v15.84h-0.71zM1342.54 107.81h1.13v15.84h-1.13zM1345.10 107.81h0.99v15.84h-0.99zM1348.22 107.81h0.71v15.84h-0.71z" fill="#1264b6"/>
<pattern id="txB" width="9.10" height="15.836" patternUnits="userSpaceOnUse" patternTransform="translate(1339.35 59.95)"><rect x="4.10" y="0" width="5.00" height="15.836" fill="#ffffe6" fill-opacity="0.117"/><rect x="0" y="0" width="4.10" height="0.7" fill="#ffffe6" fill-opacity="0.1"/></pattern>
<rect x="1334.85" y="59.55" width="15.40" height="714.10" fill="url(#txB)"/>
<rect x="1334.90" y="59.80" width="15.30" height="714.50" fill="none" stroke="#000" stroke-width="1.75"/>
</g>
<g id="panel-C">
<rect x="1355.85" y="59.55" width="53.20" height="714.10" fill="#1264b6"/>
<path d="M1356.72 91.97h2.13v15.84h-2.13zM1359.56 91.97h1.42v15.84h-1.42zM1362.40 91.97h1.42v15.84h-1.42zM1367.36 91.97h2.84v15.84h-2.84zM1371.61 91.97h1.42v15.84h-1.42zM1374.45 91.97h1.42v15.84h-1.42zM1376.58 91.97h1.42v15.84h-1.42zM1379.41 91.97h1.42v15.84h-1.42zM1381.54 91.97h1.42v15.84h-1.42zM1385.09 91.97h1.42v15.84h-1.42zM1387.21 91.97h1.42v15.84h-1.42zM1389.62 91.97h1.13v15.84h-1.13zM1397.14 91.97h11.34v15.84h-11.34zM1355.85 107.81h53.20v15.84h-53.20zM1362.91 202.82h0.95v15.84h-0.95zM1379.22 202.82h0.95v15.84h-0.95zM1384.19 202.82h0.95v15.84h-0.95zM1387.16 218.66h0.95v15.84h-0.95zM1380.36 250.33h0.95v15.84h-0.95zM1384.33 250.33h0.95v15.84h-0.95zM1389.15 250.33h0.95v15.84h-0.95zM1391.98 250.33h0.95v15.84h-0.95zM1399.08 250.33h0.95v15.84h-0.95zM1360.27 266.16h0.71v15.84h-0.71zM1363.11 266.16h0.71v15.84h-0.71zM1365.23 266.16h0.71v15.84h-0.71zM1370.48 266.16h0.71v15.84h-0.71zM1375.16 266.16h0.99v15.84h-0.99zM1377.29 266.16h0.71v15.84h-0.71zM1379.41 266.16h0.71v15.84h-0.71zM1384.38 266.16h0.99v15.84h-0.99zM1388.63 266.16h0.71v15.84h-0.71zM1391.47 266.16h1.42v15.84h-1.42zM1394.30 266.16h0.71v15.84h-0.71zM1397.85 266.16h0.71v15.84h-0.71zM1400.97 266.16h1.13v15.84h-1.13zM1404.23 266.16h2.84v15.84h-2.84zM1387.16 282.00h0.95v15.84h-0.95zM1384.19 377.01h0.95v15.84h-0.95zM1390.00 408.68h0.95v15.84h-0.95zM1369.01 424.52h0.95v15.84h-0.95zM1393.83 424.52h0.95v15.84h-0.95zM1355.85 440.35h53.20v15.84h-53.20zM1397.14 456.19h2.13v15.84h-2.13zM1402.10 456.19h0.71v15.84h-0.71zM1404.94 456.19h1.13v15.84h-1.13zM1360.98 472.02h2.13v15.84h-2.13zM1364.52 472.02h1.42v15.84h-1.42zM1373.03 472.02h2.84v15.84h-2.84zM1378.70 472.02h7.80v15.84h-7.80zM1388.63 472.02h1.42v15.84h-1.42zM1392.18 472.02h2.13v15.84h-2.13zM1395.01 472.02h3.55v15.84h-3.55zM1400.68 472.02h0.71v15.84h-0.71zM1404.23 472.02h0.71v15.84h-0.71zM1387.16 487.86h0.95v15.84h-0.95zM1384.19 503.70h0.95v15.84h-0.95zM1364.05 519.53h0.95v15.84h-0.95zM1357.43 535.37h1.42v15.84h-1.42zM1363.11 535.37h1.42v15.84h-1.42zM1365.23 535.37h2.13v15.84h-2.13zM1369.49 535.37h0.99v15.84h-0.99zM1371.61 535.37h0.99v15.84h-0.99zM1377.29 535.37h1.42v15.84h-1.42zM1379.41 535.37h2.13v15.84h-2.13zM1382.96 535.37h3.55v15.84h-3.55zM1387.21 535.37h7.09v15.84h-7.09zM1396.43 535.37h3.55v15.84h-3.55zM1404.23 535.37h2.84v15.84h-2.84zM1373.97 693.72h0.95v15.84h-0.95zM1377.09 693.72h0.95v15.84h-0.95zM1384.19 693.72h0.95v15.84h-0.95zM1390.28 693.72h0.95v15.84h-0.95zM1400.92 693.72h0.95v15.84h-0.95zM1377.09 709.56h0.95v15.84h-0.95zM1384.19 709.56h0.95v15.84h-0.95zM1405.88 709.56h0.95v15.84h-0.95zM1355.85 725.39h53.20v15.84h-53.20zM1377.09 741.23h0.95v15.84h-0.95zM1384.19 757.06h0.95v16.59h-0.95zM1386.74 757.06h0.95v16.59h-0.95z" fill="#ade3d1"/>
<path d="M1356.72 107.81h1.13v15.84h-1.13zM1358.85 107.81h0.71v15.84h-0.71zM1360.27 107.81h2.84v15.84h-2.84zM1368.07 107.81h0.99v15.84h-0.99zM1373.03 107.81h0.71v15.84h-0.71zM1375.87 107.81h1.42v15.84h-1.42zM1385.79 107.81h0.99v15.84h-0.99zM1397.56 107.81h0.71v15.84h-0.71zM1400.97 107.81h1.13v15.84h-1.13zM1404.23 107.81h0.71v15.84h-0.71zM1406.36 107.81h1.42v15.84h-1.42zM1363.11 440.35h2.13v15.84h-2.13zM1369.49 440.35h1.42v15.84h-1.42zM1377.29 440.35h1.42v15.84h-1.42zM1383.67 440.35h1.42v15.84h-1.42zM1387.92 440.35h1.42v15.84h-1.42zM1390.76 440.35h2.84v15.84h-2.84zM1399.27 440.35h2.84v15.84h-2.84zM1403.52 440.35h2.13v15.84h-2.13zM1406.64 440.35h1.84v15.84h-1.84zM1377.09 725.39h0.95v15.84h-0.95z" fill="#1264b6"/>
<pattern id="txC" width="9.29" height="15.836" patternUnits="userSpaceOnUse" patternTransform="translate(1360.80 59.95)"><rect x="4.10" y="0" width="5.19" height="15.836" fill="#ffffe6" fill-opacity="0.117"/><rect x="0" y="0" width="4.10" height="0.7" fill="#ffffe6" fill-opacity="0.1"/></pattern>
<rect x="1355.85" y="59.55" width="53.20" height="714.10" fill="url(#txC)"/>
<rect x="1355.90" y="59.80" width="53.10" height="714.50" fill="none" stroke="#000" stroke-width="1.75"/>
</g>
<g id="panel-D">
<rect x="1413.85" y="59.55" width="47.40" height="714.10" fill="#1264b6"/>
<path d="M1413.85 59.55h47.40v32.42h-47.40zM1417.42 91.97h0.71v15.84h-0.71zM1419.83 91.97h0.99v15.84h-0.99zM1426.92 91.97h0.71v15.84h-0.71zM1429.05 91.97h1.13v15.84h-1.13zM1431.88 91.97h0.71v15.84h-0.71zM1443.23 91.97h1.13v15.84h-1.13zM1452.44 91.97h1.42v15.84h-1.42zM1455.99 91.97h0.99v15.84h-0.99zM1458.83 91.97h0.71v15.84h-0.71zM1413.85 107.81h47.40v15.84h-47.40zM1439.92 139.48h0.95v47.51h-0.95zM1445.59 139.48h0.95v47.51h-0.95zM1447.72 139.48h0.95v47.51h-0.95zM1416.00 218.66h1.13v15.84h-1.13zM1432.17 218.66h2.13v15.84h-2.13zM1439.26 218.66h0.71v15.84h-0.71zM1441.10 218.66h0.71v15.84h-0.71zM1459.96 218.66h0.99v15.84h-0.99zM1434.24 250.33h0.95v15.84h-0.95zM1449.13 250.33h0.95v15.84h-0.95zM1415.15 266.16h3.97v15.84h-3.97zM1421.25 266.16h0.71v15.84h-0.71zM1423.09 266.16h0.71v15.84h-0.71zM1428.34 266.16h0.71v15.84h-0.71zM1435.43 266.16h1.42v15.84h-1.42zM1439.68 266.16h0.71v15.84h-0.71zM1445.35 266.16h0.71v15.84h-0.71zM1452.02 266.16h2.55v15.84h-2.55zM1455.99 266.16h1.42v15.84h-1.42zM1458.83 266.16h1.42v15.84h-1.42zM1415.15 392.85h2.27v15.84h-2.27zM1422.90 392.85h0.95v15.84h-0.95zM1434.24 392.85h0.95v15.84h-0.95zM1437.36 392.85h0.95v15.84h-0.95zM1459.77 392.85h0.95v15.84h-0.95zM1427.15 408.68h0.95v15.84h-0.95zM1429.28 408.68h0.95v15.84h-0.95zM1435.66 408.68h0.95v15.84h-0.95zM1454.10 408.68h0.95v15.84h-0.95zM1457.64 408.68h0.95v15.84h-0.95zM1421.48 424.52h0.95v15.84h-0.95zM1425.74 424.52h0.95v15.84h-0.95zM1430.70 424.52h0.95v15.84h-0.95zM1435.43 424.52h2.13v15.84h-2.13zM1451.97 424.52h0.95v15.84h-0.95zM1455.52 424.52h0.95v15.84h-0.95zM1418.41 440.35h2.13v15.84h-2.13zM1425.50 440.35h4.25v15.84h-4.25zM1431.88 440.35h4.25v15.84h-4.25zM1438.26 440.35h3.55v15.84h-3.55zM1443.23 440.35h1.42v15.84h-1.42zM1446.06 440.35h2.13v15.84h-2.13zM1450.32 440.35h2.13v15.84h-2.13zM1453.86 440.35h1.42v15.84h-1.42zM1456.70 440.35h1.42v15.84h-1.42zM1418.64 456.19h0.95v15.84h-0.95zM1420.77 456.19h0.95v15.84h-0.95zM1428.57 456.19h0.95v15.84h-0.95zM1443.23 456.19h1.42v15.84h-1.42zM1453.39 456.19h0.95v15.84h-0.95zM1455.52 456.19h0.95v15.84h-0.95zM1457.64 456.19h0.95v15.84h-0.95zM1421.25 472.02h0.71v15.84h-0.71zM1424.79 472.02h1.42v15.84h-1.42zM1434.72 472.02h5.67v15.84h-5.67zM1441.81 472.02h3.55v15.84h-3.55zM1446.77 472.02h2.13v15.84h-2.13zM1450.32 472.02h2.84v15.84h-2.84zM1454.57 472.02h4.25v15.84h-4.25zM1439.92 503.70h0.95v15.84h-0.95zM1421.76 519.53h0.95v15.84h-0.95zM1425.31 519.53h0.95v15.84h-0.95zM1415.15 535.37h1.84v15.84h-1.84zM1418.41 535.37h0.99v15.84h-0.99zM1421.96 535.37h0.71v15.84h-0.71zM1427.63 535.37h1.42v15.84h-1.42zM1431.17 535.37h2.84v15.84h-2.84zM1438.97 535.37h2.84v15.84h-2.84zM1446.06 535.37h1.42v15.84h-1.42zM1448.90 535.37h1.42v15.84h-1.42zM1451.03 535.37h1.42v15.84h-1.42zM1455.28 535.37h0.71v15.84h-0.71zM1459.54 535.37h1.42v15.84h-1.42zM1413.85 567.04h47.40v95.01h-47.40zM1420.06 677.89h0.95v15.84h-0.95zM1444.17 677.89h0.95v15.84h-0.95zM1417.70 693.72h1.13v15.84h-1.13zM1422.90 693.72h0.95v15.84h-0.95zM1425.03 693.72h0.95v15.84h-0.95zM1437.56 693.72h2.13v15.84h-2.13zM1444.88 693.72h0.95v15.84h-0.95zM1459.77 693.72h0.95v15.84h-0.95zM1427.86 709.56h0.95v15.84h-0.95zM1429.28 709.56h0.95v15.84h-0.95zM1431.41 709.56h0.95v15.84h-0.95zM1432.83 709.56h0.95v15.84h-0.95zM1439.21 709.56h0.95v15.84h-0.95zM1453.39 709.56h0.95v15.84h-0.95zM1413.85 725.39h47.40v15.84h-47.40zM1421.25 741.23h1.84v15.84h-1.84zM1424.79 741.23h2.13v15.84h-2.13zM1428.34 741.23h0.99v15.84h-0.99zM1430.18 741.23h0.99v15.84h-0.99zM1436.85 741.23h0.99v15.84h-0.99zM1439.68 741.23h0.71v15.84h-0.71zM1441.81 741.23h2.13v15.84h-2.13zM1450.32 741.23h1.13v15.84h-1.13zM1453.86 741.23h0.99v15.84h-0.99zM1457.41 741.23h0.71v15.84h-0.71z" fill="#ade3d1"/>
<path d="M1415.15 59.55h1.84v32.42h-1.84zM1423.09 59.55h0.71v32.42h-0.71zM1432.59 59.55h2.84v32.42h-2.84zM1438.69 59.55h0.85v32.42h-0.85zM1440.11 59.55h0.57v32.42h-0.57zM1441.10 59.55h0.71v32.42h-0.71zM1448.90 59.55h0.99v32.42h-0.99zM1459.96 59.55h1.29v32.42h-1.29zM1415.15 107.81h1.84v15.84h-1.84zM1420.54 107.81h1.42v15.84h-1.42zM1424.79 107.81h0.99v15.84h-0.99zM1429.76 107.81h1.42v15.84h-1.42zM1440.39 107.81h1.42v15.84h-1.42zM1446.06 107.81h2.13v15.84h-2.13zM1451.03 107.81h0.99v15.84h-0.99zM1453.15 107.81h1.42v15.84h-1.42zM1421.25 725.39h1.84v15.84h-1.84zM1424.79 725.39h2.13v15.84h-2.13zM1428.34 725.39h0.99v15.84h-0.99zM1430.18 725.39h0.99v15.84h-0.99zM1436.85 725.39h0.99v15.84h-0.99zM1439.68 725.39h0.71v15.84h-0.71zM1443.94 725.39h0.71v15.84h-0.71zM1450.32 725.39h1.13v15.84h-1.13zM1453.86 725.39h0.99v15.84h-0.99zM1457.41 725.39h0.71v15.84h-0.71z" fill="#1264b6"/>
<pattern id="txD" width="9.00" height="15.836" patternUnits="userSpaceOnUse" patternTransform="translate(1421.15 59.95)"><rect x="4.10" y="0" width="4.90" height="15.836" fill="#ffffe6" fill-opacity="0.117"/><rect x="0" y="0" width="4.10" height="0.7" fill="#ffffe6" fill-opacity="0.1"/></pattern>
<rect x="1413.85" y="59.55" width="47.40" height="714.10" fill="url(#txD)"/>
<rect x="1413.90" y="59.80" width="47.30" height="714.50" fill="none" stroke="#000" stroke-width="1.75"/>
</g>
<g id="panel-E">
<rect x="1466.95" y="59.55" width="213.10" height="714.10" fill="#1264b6"/>
<path d="M1466.95 59.55h213.10v32.42h-213.10zM1468.01 91.97h0.85v15.84h-0.85zM1476.51 91.97h1.70v15.84h-1.70zM1485.01 91.97h1.70v15.84h-1.70zM1487.56 91.97h0.85v15.84h-0.85zM1501.16 91.97h0.85v15.84h-0.85zM1512.21 91.97h0.85v15.84h-0.85zM1516.46 91.97h0.85v15.84h-0.85zM1521.56 91.97h0.85v15.84h-0.85zM1523.26 91.97h0.85v15.84h-0.85zM1526.66 91.97h1.70v15.84h-1.70zM1535.16 91.97h0.85v15.84h-0.85zM1543.66 91.97h0.85v15.84h-0.85zM1549.61 91.97h0.85v15.84h-0.85zM1551.31 91.97h1.70v15.84h-1.70zM1554.71 91.97h0.85v15.84h-0.85zM1573.41 91.97h1.70v15.84h-1.70zM1577.66 91.97h2.55v15.84h-2.55zM1584.46 91.97h0.85v15.84h-0.85zM1587.01 91.97h1.70v15.84h-1.70zM1594.66 91.97h2.55v15.84h-2.55zM1607.41 91.97h0.85v15.84h-0.85zM1610.81 91.97h0.85v15.84h-0.85zM1613.36 91.97h0.85v15.84h-0.85zM1616.76 91.97h0.85v15.84h-0.85zM1618.46 91.97h0.85v15.84h-0.85zM1621.86 91.97h0.85v15.84h-0.85zM1630.36 91.97h0.85v15.84h-0.85zM1633.76 91.97h0.85v15.84h-0.85zM1640.56 91.97h0.85v15.84h-0.85zM1657.56 91.97h0.85v15.84h-0.85zM1665.21 91.97h1.70v15.84h-1.70zM1667.76 91.97h0.85v15.84h-0.85zM1671.16 91.97h0.85v15.84h-0.85zM1672.86 91.97h0.85v15.84h-0.85zM1675.41 91.97h1.70v15.84h-1.70zM1678.81 91.97h0.85v15.84h-0.85zM1466.95 107.81h213.10v15.84h-213.10zM1501.65 123.64h1.33v15.84h-1.33zM1534.98 123.64h0.95v15.84h-0.95zM1548.92 123.64h0.71v15.84h-0.71zM1621.25 123.64h1.42v15.84h-1.42zM1647.72 123.64h0.95v15.84h-0.95zM1658.83 123.64h1.42v15.84h-1.42zM1664.73 123.64h0.95v15.84h-0.95zM1494.51 139.48h0.95v15.84h-0.95zM1564.05 139.48h0.95v15.84h-0.95zM1494.51 155.31h0.95v31.67h-0.95zM1491.96 186.98h0.95v15.84h-0.95zM1510.59 186.98h0.95v15.84h-0.95zM1514.84 186.98h0.95v15.84h-0.95zM1554.83 186.98h0.95v15.84h-0.95zM1587.16 186.98h0.95v15.84h-0.95zM1631.83 186.98h0.95v15.84h-0.95zM1639.92 186.98h0.95v15.84h-0.95zM1466.95 202.82h213.10v63.34h-213.10zM1467.83 266.16h0.85v15.84h-0.85zM1469.53 266.16h1.70v15.84h-1.70zM1478.03 266.16h0.85v15.84h-0.85zM1482.28 266.16h0.85v15.84h-0.85zM1486.53 266.16h0.85v15.84h-0.85zM1491.63 266.16h0.85v15.84h-0.85zM1495.88 266.16h0.85v15.84h-0.85zM1500.13 266.16h0.85v15.84h-0.85zM1504.38 266.16h0.85v15.84h-0.85zM1506.08 266.16h0.85v15.84h-0.85zM1509.48 266.16h0.85v15.84h-0.85zM1512.03 266.16h0.85v15.84h-0.85zM1516.28 266.16h0.85v15.84h-0.85zM1519.68 266.16h0.85v15.84h-0.85zM1521.38 266.16h0.85v15.84h-0.85zM1523.93 266.16h0.85v15.84h-0.85zM1526.48 266.16h0.85v15.84h-0.85zM1529.88 266.16h0.85v15.84h-0.85zM1534.13 266.16h0.85v15.84h-0.85zM1536.68 266.16h1.70v15.84h-1.70zM1539.23 266.16h0.85v15.84h-0.85zM1541.78 266.16h0.85v15.84h-0.85zM1543.48 266.16h1.70v15.84h-1.70zM1546.88 266.16h0.85v15.84h-0.85zM1551.13 266.16h0.85v15.84h-0.85zM1554.53 266.16h0.85v15.84h-0.85zM1557.93 266.16h1.70v15.84h-1.70zM1564.73 266.16h0.85v15.84h-0.85zM1569.83 266.16h0.85v15.84h-0.85zM1572.38 266.16h0.85v15.84h-0.85zM1575.78 266.16h0.85v15.84h-0.85zM1584.28 266.16h2.55v15.84h-2.55zM1589.38 266.16h0.85v15.84h-0.85zM1596.18 266.16h0.85v15.84h-0.85zM1597.88 266.16h0.85v15.84h-0.85zM1602.13 266.16h0.85v15.84h-0.85zM1606.38 266.16h1.70v15.84h-1.70zM1609.78 266.16h0.85v15.84h-0.85zM1612.33 266.16h0.85v15.84h-0.85zM1622.53 266.16h0.85v15.84h-0.85zM1631.88 266.16h1.70v15.84h-1.70zM1636.13 266.16h0.85v15.84h-0.85zM1647.18 266.16h0.85v15.84h-0.85zM1649.73 266.16h0.85v15.84h-0.85zM1660.78 266.16h0.85v15.84h-0.85zM1663.33 266.16h0.85v15.84h-0.85zM1665.03 266.16h0.85v15.84h-0.85zM1668.43 266.16h0.85v15.84h-0.85zM1673.53 266.16h1.70v15.84h-1.70zM1676.08 266.16h0.85v15.84h-0.85zM1678.63 266.16h1.42v15.84h-1.42zM1491.96 282.00h0.95v15.84h-0.95zM1554.83 282.00h0.95v15.84h-0.95zM1631.83 282.00h0.95v15.84h-0.95zM1636.80 282.00h0.95v15.84h-0.95zM1534.27 392.85h0.95v15.84h-0.95zM1542.78 392.85h0.95v15.84h-0.95zM1549.16 392.85h0.95v15.84h-0.95zM1483.59 408.68h0.95v15.84h-0.95zM1491.96 408.68h0.95v15.84h-0.95zM1495.93 408.68h0.95v15.84h-0.95zM1501.65 408.68h1.33v15.84h-1.33zM1524.34 408.68h0.95v15.84h-0.95zM1544.19 408.68h0.95v15.84h-0.95zM1556.96 408.68h0.95v15.84h-0.95zM1576.81 408.68h0.95v15.84h-0.95zM1587.16 408.68h0.95v15.84h-0.95zM1605.88 408.68h0.95v15.84h-0.95zM1620.77 408.68h0.95v15.84h-0.95zM1628.34 408.68h1.42v15.84h-1.42zM1638.50 408.68h0.95v15.84h-0.95zM1645.59 408.68h0.95v15.84h-0.95zM1647.72 408.68h0.95v15.84h-0.95zM1653.39 408.68h0.95v15.84h-0.95zM1656.22 408.68h0.95v15.84h-0.95zM1664.73 408.68h0.95v15.84h-0.95zM1467.37 424.52h0.85v15.84h-0.85zM1469.92 424.52h2.55v15.84h-2.55zM1474.17 424.52h0.85v15.84h-0.85zM1477.57 424.52h0.85v15.84h-0.85zM1481.82 424.52h0.85v15.84h-0.85zM1483.52 424.52h0.85v15.84h-0.85zM1486.07 424.52h0.85v15.84h-0.85zM1488.62 424.52h0.85v15.84h-0.85zM1492.87 424.52h0.85v15.84h-0.85zM1495.42 424.52h0.85v15.84h-0.85zM1499.67 424.52h0.85v15.84h-0.85zM1502.22 424.52h0.85v15.84h-0.85zM1510.72 424.52h1.70v15.84h-1.70zM1515.82 424.52h0.85v15.84h-0.85zM1521.77 424.52h0.85v15.84h-0.85zM1526.02 424.52h0.85v15.84h-0.85zM1530.27 424.52h0.85v15.84h-0.85zM1538.77 424.52h0.85v15.84h-0.85zM1542.17 424.52h1.70v15.84h-1.70zM1545.57 424.52h0.85v15.84h-0.85zM1552.30 424.52h1.70v15.84h-1.70zM1559.10 424.52h0.85v15.84h-0.85zM1561.65 424.52h0.85v15.84h-0.85zM1571.85 424.52h0.85v15.84h-0.85zM1576.10 424.52h0.85v15.84h-0.85zM1580.35 424.52h0.85v15.84h-0.85zM1582.90 424.52h0.85v15.84h-0.85zM1590.55 424.52h0.85v15.84h-0.85zM1593.10 424.52h0.85v15.84h-0.85zM1600.75 424.52h0.85v15.84h-0.85zM1602.45 424.52h0.85v15.84h-0.85zM1617.75 424.52h2.55v15.84h-2.55zM1625.40 424.52h0.85v15.84h-0.85zM1633.90 424.52h0.85v15.84h-0.85zM1639.00 424.52h1.70v15.84h-1.70zM1645.80 424.52h0.85v15.84h-0.85zM1648.35 424.52h1.70v15.84h-1.70zM1651.75 424.52h0.85v15.84h-0.85zM1655.15 424.52h0.85v15.84h-0.85zM1660.25 424.52h0.85v15.84h-0.85zM1661.95 424.52h0.85v15.84h-0.85zM1663.65 424.52h0.85v15.84h-0.85zM1668.75 424.52h0.85v15.84h-0.85zM1678.10 424.52h0.85v15.84h-0.85zM1467.48 440.35h1.70v15.84h-1.70zM1470.03 440.35h3.40v15.84h-3.40zM1474.28 440.35h0.85v15.84h-0.85zM1476.83 440.35h0.85v15.84h-0.85zM1479.38 440.35h1.70v15.84h-1.70zM1482.78 440.35h1.70v15.84h-1.70zM1486.18 440.35h0.85v15.84h-0.85zM1487.88 440.35h0.85v15.84h-0.85zM1490.43 440.35h1.70v15.84h-1.70zM1492.98 440.35h0.85v15.84h-0.85zM1494.68 440.35h2.55v15.84h-2.55zM1498.08 440.35h2.55v15.84h-2.55zM1502.33 440.35h0.85v15.84h-0.85zM1504.88 440.35h0.85v15.84h-0.85zM1506.58 440.35h1.70v15.84h-1.70zM1509.13 440.35h3.40v15.84h-3.40zM1513.38 440.35h0.85v15.84h-0.85zM1515.93 440.35h0.85v15.84h-0.85zM1518.48 440.35h0.85v15.84h-0.85zM1520.18 440.35h5.10v15.84h-5.10zM1526.98 440.35h0.85v15.84h-0.85zM1528.68 440.35h5.10v15.84h-5.10zM1535.48 440.35h2.55v15.84h-2.55zM1538.88 440.35h1.70v15.84h-1.70zM1541.43 440.35h0.85v15.84h-0.85zM1543.13 440.35h1.70v15.84h-1.70zM1545.68 440.35h0.85v15.84h-0.85zM1547.38 440.35h2.55v15.84h-2.55zM1551.63 440.35h2.55v15.84h-2.55zM1555.03 440.35h3.40v15.84h-3.40zM1559.28 440.35h1.70v15.84h-1.70zM1562.68 440.35h2.55v15.84h-2.55zM1566.08 440.35h0.85v15.84h-0.85zM1567.78 440.35h0.85v15.84h-0.85zM1569.48 440.35h3.40v15.84h-3.40zM1573.73 440.35h2.55v15.84h-2.55zM1577.13 440.35h1.70v15.84h-1.70zM1580.53 440.35h1.70v15.84h-1.70zM1583.08 440.35h1.70v15.84h-1.70zM1585.63 440.35h0.85v15.84h-0.85zM1587.33 440.35h0.85v15.84h-0.85zM1589.03 440.35h3.40v15.84h-3.40zM1593.28 440.35h0.85v15.84h-0.85zM1594.98 440.35h0.85v15.84h-0.85zM1596.68 440.35h0.85v15.84h-0.85zM1598.38 440.35h0.85v15.84h-0.85zM1601.78 440.35h0.85v15.84h-0.85zM1605.18 440.35h1.70v15.84h-1.70zM1608.58 440.35h1.70v15.84h-1.70zM1612.83 440.35h0.85v15.84h-0.85zM1615.38 440.35h0.85v15.84h-0.85zM1617.93 440.35h2.55v15.84h-2.55zM1621.33 440.35h0.85v15.84h-0.85zM1623.03 440.35h0.85v15.84h-0.85zM1624.73 440.35h0.85v15.84h-0.85zM1628.13 440.35h0.85v15.84h-0.85zM1629.83 440.35h1.70v15.84h-1.70zM1632.38 440.35h2.55v15.84h-2.55zM1636.63 440.35h0.85v15.84h-0.85zM1638.33 440.35h1.70v15.84h-1.70zM1642.58 440.35h1.70v15.84h-1.70zM1645.13 440.35h5.10v15.84h-5.10zM1651.08 440.35h0.85v15.84h-0.85zM1653.63 440.35h0.85v15.84h-0.85zM1655.33 440.35h1.70v15.84h-1.70zM1660.43 440.35h1.70v15.84h-1.70zM1662.98 440.35h0.85v15.84h-0.85zM1664.68 440.35h3.40v15.84h-3.40zM1668.93 440.35h3.40v15.84h-3.40zM1673.18 440.35h0.85v15.84h-0.85zM1674.88 440.35h0.85v15.84h-0.85zM1676.58 440.35h0.85v15.84h-0.85zM1678.28 440.35h0.85v15.84h-0.85zM1679.98 440.35h0.07v15.84h-0.07zM1467.25 456.19h0.85v15.84h-0.85zM1469.80 456.19h0.85v15.84h-0.85zM1471.50 456.19h0.85v15.84h-0.85zM1473.20 456.19h0.85v15.84h-0.85zM1480.00 456.19h0.85v15.84h-0.85zM1485.10 456.19h0.85v15.84h-0.85zM1486.80 456.19h0.85v15.84h-0.85zM1490.20 456.19h0.85v15.84h-0.85zM1492.75 456.19h0.85v15.84h-0.85zM1497.00 456.19h1.70v15.84h-1.70zM1500.40 456.19h0.85v15.84h-0.85zM1505.50 456.19h0.85v15.84h-0.85zM1507.20 456.19h0.85v15.84h-0.85zM1508.90 456.19h0.85v15.84h-0.85zM1514.00 456.19h0.85v15.84h-0.85zM1515.70 456.19h0.85v15.84h-0.85zM1518.25 456.19h0.85v15.84h-0.85zM1520.80 456.19h0.85v15.84h-0.85zM1523.35 456.19h0.85v15.84h-0.85zM1527.60 456.19h0.85v15.84h-0.85zM1530.15 456.19h0.85v15.84h-0.85zM1532.70 456.19h0.85v15.84h-0.85zM1535.25 456.19h0.85v15.84h-0.85zM1539.50 456.19h0.85v15.84h-0.85zM1545.45 456.19h0.85v15.84h-0.85zM1549.70 456.19h0.85v15.84h-0.85zM1552.25 456.19h0.85v15.84h-0.85zM1555.65 456.19h1.70v15.84h-1.70zM1560.75 456.19h0.85v15.84h-0.85zM1563.30 456.19h0.85v15.84h-0.85zM1565.85 456.19h0.85v15.84h-0.85zM1567.55 456.19h0.85v15.84h-0.85zM1570.10 456.19h0.85v15.84h-0.85zM1572.65 456.19h0.85v15.84h-0.85zM1576.90 456.19h0.85v15.84h-0.85zM1578.60 456.19h0.85v15.84h-0.85zM1580.30 456.19h0.85v15.84h-0.85zM1586.25 456.19h14.45v15.84h-14.45zM1604.10 456.19h0.85v15.84h-0.85zM1607.50 456.19h0.85v15.84h-0.85zM1611.75 456.19h0.85v15.84h-0.85zM1618.55 456.19h0.85v15.84h-0.85zM1620.25 456.19h0.85v15.84h-0.85zM1627.05 456.19h0.85v15.84h-0.85zM1629.60 456.19h0.85v15.84h-0.85zM1633.85 456.19h1.70v15.84h-1.70zM1638.10 456.19h2.55v15.84h-2.55zM1643.20 456.19h0.85v15.84h-0.85zM1648.30 456.19h0.85v15.84h-0.85zM1650.00 456.19h2.55v15.84h-2.55zM1653.40 456.19h0.85v15.84h-0.85zM1656.80 456.19h1.70v15.84h-1.70zM1660.20 456.19h0.85v15.84h-0.85zM1662.75 456.19h0.85v15.84h-0.85zM1666.15 456.19h0.85v15.84h-0.85zM1670.40 456.19h0.85v15.84h-0.85zM1672.95 456.19h0.85v15.84h-0.85zM1468.38 472.02h1.70v15.84h-1.70zM1473.48 472.02h0.85v15.84h-0.85zM1475.18 472.02h1.70v15.84h-1.70zM1479.43 472.02h0.85v15.84h-0.85zM1481.13 472.02h0.85v15.84h-0.85zM1485.38 472.02h1.70v15.84h-1.70zM1488.78 472.02h0.85v15.84h-0.85zM1490.02 472.02h8.51v15.84h-8.51zM1501.37 472.02h7.80v15.84h-7.80zM1510.03 472.02h0.85v15.84h-0.85zM1511.73 472.02h0.85v15.84h-0.85zM1514.28 472.02h0.85v15.84h-0.85zM1518.39 472.02h9.98v15.84h-9.98zM1529.58 472.02h0.85v15.84h-0.85zM1537.23 472.02h0.85v15.84h-0.85zM1541.48 472.02h0.85v15.84h-0.85zM1546.58 472.02h0.85v15.84h-0.85zM1549.98 472.02h0.85v15.84h-0.85zM1553.38 472.02h0.85v15.84h-0.85zM1555.08 472.02h0.85v15.84h-0.85zM1557.63 472.02h0.85v15.84h-0.85zM1562.73 472.02h0.85v15.84h-0.85zM1565.28 472.02h1.70v15.84h-1.70zM1568.68 472.02h0.85v15.84h-0.85zM1570.38 472.02h0.85v15.84h-0.85zM1574.63 472.02h1.70v15.84h-1.70zM1576.58 472.02h9.93v15.84h-9.93zM1588.23 472.02h0.85v15.84h-0.85zM1590.76 472.02h11.34v15.84h-11.34zM1604.38 472.02h0.85v15.84h-0.85zM1606.08 472.02h0.85v15.84h-0.85zM1608.63 472.02h4.82v15.84h-4.82zM1615.43 472.02h1.70v15.84h-1.70zM1620.53 472.02h0.85v15.84h-0.85zM1621.96 472.02h5.67v15.84h-5.67zM1628.18 472.02h1.70v15.84h-1.70zM1631.58 472.02h0.85v15.84h-0.85zM1634.13 472.02h0.85v15.84h-0.85zM1640.93 472.02h0.85v15.84h-0.85zM1645.18 472.02h0.85v15.84h-0.85zM1647.73 472.02h0.85v15.84h-0.85zM1651.13 472.02h1.70v15.84h-1.70zM1658.78 472.02h0.85v15.84h-0.85zM1661.33 472.02h0.85v15.84h-0.85zM1664.73 472.02h1.70v15.84h-1.70zM1668.13 472.02h0.85v15.84h-0.85zM1671.53 472.02h2.55v15.84h-2.55zM1675.78 472.02h0.85v15.84h-0.85zM1677.48 472.02h0.85v15.84h-0.85zM1492.39 487.86h0.95v15.84h-0.95zM1510.87 487.86h0.95v15.84h-0.95zM1516.54 487.86h0.95v15.84h-0.95zM1530.01 487.86h0.95v15.84h-0.95zM1554.83 487.86h0.95v15.84h-0.95zM1587.16 487.86h0.95v15.84h-0.95zM1632.12 487.86h0.95v15.84h-0.95zM1639.92 487.86h0.95v15.84h-0.95zM1646.30 487.86h0.95v15.84h-0.95zM1508.74 503.70h0.95v15.84h-0.95zM1513.00 503.70h0.95v15.84h-0.95zM1554.83 503.70h0.95v15.84h-0.95zM1558.38 503.70h0.95v15.84h-0.95zM1585.32 503.70h0.95v15.84h-0.95zM1605.17 503.70h0.95v15.84h-0.95zM1616.94 503.70h0.95v15.84h-0.95zM1649.13 503.70h0.95v15.84h-0.95zM1498.77 519.53h0.95v15.84h-0.95zM1502.31 519.53h1.00v15.84h-1.00zM1513.00 519.53h0.95v15.84h-0.95zM1542.78 519.53h0.95v15.84h-0.95zM1549.87 519.53h0.95v15.84h-0.95zM1583.90 519.53h0.95v15.84h-0.95zM1632.83 519.53h0.95v15.84h-0.95zM1635.95 519.53h0.95v15.84h-0.95zM1647.01 519.53h0.95v15.84h-0.95zM1666.86 519.53h0.95v15.84h-0.95zM1467.26 535.37h0.85v15.84h-0.85zM1469.81 535.37h1.70v15.84h-1.70zM1474.06 535.37h1.70v15.84h-1.70zM1476.61 535.37h0.85v15.84h-0.85zM1480.01 535.37h3.40v15.84h-3.40zM1485.11 535.37h2.55v15.84h-2.55zM1489.36 535.37h2.55v15.84h-2.55zM1492.76 535.37h1.70v15.84h-1.70zM1497.86 535.37h0.85v15.84h-0.85zM1499.56 535.37h0.85v15.84h-0.85zM1501.26 535.37h0.85v15.84h-0.85zM1502.96 535.37h0.85v15.84h-0.85zM1504.66 535.37h1.70v15.84h-1.70zM1508.91 535.37h1.70v15.84h-1.70zM1513.16 535.37h1.70v15.84h-1.70zM1519.11 535.37h3.40v15.84h-3.40zM1524.21 535.37h3.40v15.84h-3.40zM1528.46 535.37h0.85v15.84h-0.85zM1530.16 535.37h0.85v15.84h-0.85zM1532.71 535.37h0.85v15.84h-0.85zM1536.11 535.37h1.70v15.84h-1.70zM1538.66 535.37h0.85v15.84h-0.85zM1541.21 535.37h0.85v15.84h-0.85zM1542.91 535.37h0.85v15.84h-0.85zM1545.46 535.37h1.70v15.84h-1.70zM1548.86 535.37h3.40v15.84h-3.40zM1556.51 535.37h0.85v15.84h-0.85zM1559.91 535.37h1.70v15.84h-1.70zM1562.46 535.37h0.85v15.84h-0.85zM1565.01 535.37h0.85v15.84h-0.85zM1568.41 535.37h2.55v15.84h-2.55zM1572.66 535.37h0.85v15.84h-0.85zM1575.21 535.37h1.70v15.84h-1.70zM1579.46 535.37h0.85v15.84h-0.85zM1581.16 535.37h0.85v15.84h-0.85zM1582.96 535.37h8.08v15.84h-8.08zM1591.89 535.37h0.57v15.84h-0.57zM1593.31 535.37h5.96v15.84h-5.96zM1599.95 535.37h0.85v15.84h-0.85zM1602.50 535.37h0.85v15.84h-0.85zM1605.05 535.37h0.85v15.84h-0.85zM1606.75 535.37h0.85v15.84h-0.85zM1609.30 535.37h5.10v15.84h-5.10zM1616.10 535.37h0.85v15.84h-0.85zM1620.35 535.37h0.85v15.84h-0.85zM1622.05 535.37h2.55v15.84h-2.55zM1625.45 535.37h2.55v15.84h-2.55zM1629.70 535.37h0.85v15.84h-0.85zM1631.40 535.37h1.70v15.84h-1.70zM1634.80 535.37h1.70v15.84h-1.70zM1637.35 535.37h0.85v15.84h-0.85zM1642.45 535.37h0.85v15.84h-0.85zM1645.00 535.37h0.85v15.84h-0.85zM1646.70 535.37h5.10v15.84h-5.10zM1653.50 535.37h1.70v15.84h-1.70zM1656.05 535.37h0.85v15.84h-0.85zM1659.45 535.37h0.85v15.84h-0.85zM1662.00 535.37h3.40v15.84h-3.40zM1667.10 535.37h1.70v15.84h-1.70zM1669.65 535.37h0.85v15.84h-0.85zM1673.05 535.37h0.85v15.84h-0.85zM1676.45 535.37h2.55v15.84h-2.55zM1466.95 551.20h213.10v110.85h-213.10zM1549.16 677.89h0.95v15.84h-0.95zM1469.46 693.72h1.42v15.84h-1.42zM1485.30 693.72h0.95v15.84h-0.95zM1488.13 693.72h0.95v15.84h-0.95zM1500.94 693.72h1.18v15.84h-1.18zM1522.92 693.72h0.95v15.84h-0.95zM1526.47 693.72h0.95v15.84h-0.95zM1548.45 693.72h0.95v15.84h-0.95zM1555.54 693.72h0.95v15.84h-0.95zM1556.96 693.72h0.95v15.84h-0.95zM1562.63 693.72h0.95v15.84h-0.95zM1567.59 693.72h0.95v15.84h-0.95zM1598.79 693.72h0.95v15.84h-0.95zM1603.75 693.72h0.95v15.84h-0.95zM1615.10 693.72h0.95v15.84h-0.95zM1619.83 693.72h1.42v15.84h-1.42zM1625.03 693.72h0.95v15.84h-0.95zM1630.70 693.72h0.95v15.84h-0.95zM1634.24 693.72h0.95v15.84h-0.95zM1642.04 693.72h0.95v15.84h-0.95zM1644.17 693.72h0.95v15.84h-0.95zM1647.48 693.72h1.42v15.84h-1.42zM1655.52 693.72h0.95v15.84h-0.95zM1659.77 693.72h0.95v15.84h-0.95zM1665.44 693.72h0.95v15.84h-0.95zM1669.70 693.72h0.95v15.84h-0.95zM1494.51 709.56h0.95v15.84h-0.95zM1499.24 709.56h1.42v15.84h-1.42zM1502.13 709.56h1.42v15.84h-1.42zM1505.67 709.56h1.42v15.84h-1.42zM1513.00 709.56h0.95v15.84h-0.95zM1528.60 709.56h0.95v15.84h-0.95zM1534.98 709.56h0.95v15.84h-0.95zM1547.51 709.56h2.13v15.84h-2.13zM1550.58 709.56h0.95v15.84h-0.95zM1562.63 709.56h0.95v15.84h-0.95zM1564.05 709.56h0.95v15.84h-0.95zM1573.27 709.56h0.95v15.84h-0.95zM1584.38 709.56h6.38v15.84h-6.38zM1592.89 709.56h6.38v15.84h-6.38zM1600.21 709.56h0.95v15.84h-0.95zM1603.75 709.56h0.95v15.84h-0.95zM1612.26 709.56h0.95v15.84h-0.95zM1620.77 709.56h0.95v15.84h-0.95zM1624.79 709.56h2.84v15.84h-2.84zM1632.12 709.56h0.95v15.84h-0.95zM1637.79 709.56h0.95v15.84h-0.95zM1647.01 709.56h0.95v15.84h-0.95zM1651.97 709.56h0.95v15.84h-0.95zM1659.77 709.56h0.95v15.84h-0.95zM1672.53 709.56h0.95v15.84h-0.95zM1466.95 725.39h213.10v15.84h-213.10zM1476.79 741.23h0.95v15.84h-0.95zM1494.99 741.23h1.42v15.84h-1.42zM1498.53 741.23h1.42v15.84h-1.42zM1502.84 741.23h1.42v15.84h-1.42zM1505.20 741.23h0.95v15.84h-0.95zM1517.96 741.23h0.95v15.84h-0.95zM1528.60 741.23h0.95v15.84h-0.95zM1546.32 741.23h0.95v15.84h-0.95zM1548.45 741.23h0.95v15.84h-0.95zM1560.50 741.23h0.95v15.84h-0.95zM1562.63 741.23h0.95v15.84h-0.95zM1573.74 741.23h1.42v15.84h-1.42zM1583.19 741.23h0.95v15.84h-0.95zM1586.50 741.23h5.67v15.84h-5.67zM1593.59 741.23h5.67v15.84h-5.67zM1600.92 741.23h0.95v15.84h-0.95zM1603.75 741.23h0.95v15.84h-0.95zM1615.10 741.23h0.95v15.84h-0.95zM1624.79 741.23h2.84v15.84h-2.84zM1632.12 741.23h0.95v15.84h-0.95zM1638.26 741.23h2.13v15.84h-2.13zM1650.55 741.23h0.95v15.84h-0.95zM1661.19 741.23h0.95v15.84h-0.95zM1672.53 741.23h0.95v15.84h-0.95zM1510.87 757.06h0.95v16.59h-0.95zM1518.67 757.06h0.95v16.59h-0.95zM1549.16 757.06h0.95v16.59h-0.95zM1632.12 757.06h0.95v16.59h-0.95zM1636.80 757.06h0.95v16.59h-0.95zM1643.46 757.06h0.95v16.59h-0.95z" fill="#ade3d1"/>
<path d="M1547.74 59.55h0.95v32.42h-0.95zM1622.19 59.55h0.95v32.42h-0.95zM1468.55 107.81h0.85v15.84h-0.85zM1471.10 107.81h0.85v15.84h-0.85zM1475.35 107.81h0.85v15.84h-0.85zM1479.60 107.81h0.85v15.84h-0.85zM1484.70 107.81h0.85v15.84h-0.85zM1490.65 107.81h0.85v15.84h-0.85zM1493.20 107.81h0.85v15.84h-0.85zM1499.15 107.81h0.85v15.84h-0.85zM1505.10 107.81h0.85v15.84h-0.85zM1507.65 107.81h0.85v15.84h-0.85zM1509.35 107.81h0.85v15.84h-0.85zM1511.05 107.81h0.85v15.84h-0.85zM1522.10 107.81h0.85v15.84h-0.85zM1523.80 107.81h2.55v15.84h-2.55zM1528.05 107.81h0.85v15.84h-0.85zM1530.60 107.81h0.85v15.84h-0.85zM1534.85 107.81h0.85v15.84h-0.85zM1537.40 107.81h0.85v15.84h-0.85zM1543.35 107.81h0.85v15.84h-0.85zM1545.90 107.81h1.70v15.84h-1.70zM1548.45 107.81h0.85v15.84h-0.85zM1555.25 107.81h0.85v15.84h-0.85zM1559.50 107.81h0.85v15.84h-0.85zM1562.05 107.81h0.85v15.84h-0.85zM1566.30 107.81h0.85v15.84h-0.85zM1568.85 107.81h2.55v15.84h-2.55zM1575.65 107.81h2.55v15.84h-2.55zM1579.90 107.81h0.85v15.84h-0.85zM1583.30 107.81h0.85v15.84h-0.85zM1585.85 107.81h0.85v15.84h-0.85zM1587.55 107.81h0.85v15.84h-0.85zM1596.05 107.81h1.70v15.84h-1.70zM1600.30 107.81h0.85v15.84h-0.85zM1602.85 107.81h0.85v15.84h-0.85zM1605.40 107.81h0.85v15.84h-0.85zM1610.50 107.81h0.85v15.84h-0.85zM1614.75 107.81h0.85v15.84h-0.85zM1618.15 107.81h0.85v15.84h-0.85zM1622.40 107.81h0.85v15.84h-0.85zM1625.80 107.81h0.85v15.84h-0.85zM1628.35 107.81h0.85v15.84h-0.85zM1631.75 107.81h0.85v15.84h-0.85zM1637.70 107.81h0.85v15.84h-0.85zM1641.10 107.81h0.85v15.84h-0.85zM1643.65 107.81h0.85v15.84h-0.85zM1647.05 107.81h0.85v15.84h-0.85zM1651.30 107.81h0.85v15.84h-0.85zM1655.55 107.81h0.85v15.84h-0.85zM1658.95 107.81h0.85v15.84h-0.85zM1663.20 107.81h0.85v15.84h-0.85zM1667.45 107.81h1.70v15.84h-1.70zM1671.70 107.81h2.55v15.84h-2.55zM1476.79 725.39h0.95v15.84h-0.95zM1494.99 725.39h1.42v15.84h-1.42zM1498.53 725.39h1.42v15.84h-1.42zM1502.13 725.39h1.42v15.84h-1.42zM1505.67 725.39h1.42v15.84h-1.42zM1517.96 725.39h0.95v15.84h-0.95zM1528.60 725.39h0.95v15.84h-0.95zM1545.61 725.39h0.95v15.84h-0.95zM1548.45 725.39h0.95v15.84h-0.95zM1561.92 725.39h0.95v15.84h-0.95zM1564.05 725.39h0.95v15.84h-0.95zM1573.27 725.39h0.95v15.84h-0.95zM1583.19 725.39h0.95v15.84h-0.95zM1586.50 725.39h5.67v15.84h-5.67zM1594.30 725.39h4.96v15.84h-4.96zM1602.10 725.39h2.13v15.84h-2.13zM1612.26 725.39h0.95v15.84h-0.95zM1615.10 725.39h0.95v15.84h-0.95zM1620.77 725.39h0.95v15.84h-0.95zM1625.03 725.39h0.95v15.84h-0.95zM1632.12 725.39h0.95v15.84h-0.95zM1638.26 725.39h2.13v15.84h-2.13zM1644.17 725.39h0.95v15.84h-0.95zM1651.97 725.39h0.95v15.84h-0.95zM1671.82 725.39h0.95v15.84h-0.95z" fill="#1264b6"/>
<pattern id="txE" width="9.03" height="15.836" patternUnits="userSpaceOnUse" patternTransform="translate(1471.40 59.95)"><rect x="4.10" y="0" width="4.93" height="15.836" fill="#ffffe6" fill-opacity="0.117"/><rect x="0" y="0" width="4.10" height="0.7" fill="#ffffe6" fill-opacity="0.1"/></pattern>
<rect x="1466.95" y="59.55" width="213.10" height="714.10" fill="url(#txE)"/>
<rect x="1467.00" y="59.80" width="213.00" height="714.50" fill="none" stroke="#000" stroke-width="1.75"/>
</g>
<g id="panel-F">
<rect x="1685.85" y="59.55" width="15.40" height="714.10" fill="#1264b6"/>
<path d="M1685.85 59.55h15.40v32.42h-15.40zM1694.02 91.97h1.72v15.84h-1.72zM1685.85 107.81h15.40v15.84h-15.40zM1686.71 123.64h0.95v15.84h-0.95zM1690.97 186.98h0.95v15.84h-0.95zM1687.90 202.82h3.55v15.84h-3.55zM1694.99 202.82h2.13v15.84h-2.13zM1698.53 202.82h1.42v15.84h-1.42zM1692.15 218.66h2.84v15.84h-2.84zM1697.82 218.66h1.42v15.84h-1.42zM1687.90 250.33h3.55v15.84h-3.55zM1692.86 250.33h2.84v15.84h-2.84zM1690.97 266.16h0.95v15.84h-0.95zM1695.22 266.16h0.95v15.84h-0.95zM1690.97 282.00h0.95v15.84h-0.95zM1693.80 282.00h0.95v15.84h-0.95zM1686.71 392.85h0.95v15.84h-0.95zM1697.35 392.85h0.95v15.84h-0.95zM1686.71 424.52h0.95v15.84h-0.95zM1695.22 424.52h0.95v15.84h-0.95zM1686.20 440.35h3.83v15.84h-3.83zM1692.86 440.35h2.84v15.84h-2.84zM1697.82 440.35h2.13v15.84h-2.13zM1686.71 456.19h0.95v15.84h-0.95zM1689.55 456.19h0.95v15.84h-0.95zM1697.35 456.19h0.95v15.84h-0.95zM1688.61 472.02h1.42v15.84h-1.42zM1692.15 472.02h2.13v15.84h-2.13zM1697.82 472.02h2.13v15.84h-2.13zM1690.97 487.86h0.95v15.84h-0.95zM1685.85 535.37h15.40v15.84h-15.40zM1690.97 693.72h0.95v15.84h-0.95zM1695.22 693.72h0.95v15.84h-0.95zM1698.06 693.72h0.95v15.84h-0.95zM1688.13 709.56h0.95v15.84h-0.95zM1695.70 709.56h1.13v15.84h-1.13zM1685.85 725.39h15.40v15.84h-15.40zM1695.22 741.23h0.95v15.84h-0.95z" fill="#ade3d1"/>
<path d="M1688.01 59.55h2.14v32.42h-2.14zM1694.02 59.55h1.72v32.42h-1.72zM1698.96 59.55h2.13v32.42h-2.13zM1685.87 107.81h0.85v15.84h-0.85zM1689.30 107.81h0.43v15.84h-0.43zM1686.20 535.37h1.70v15.84h-1.70zM1690.02 535.37h2.13v15.84h-2.13zM1698.53 535.37h2.55v15.84h-2.55zM1692.15 725.39h0.71v15.84h-0.71zM1695.70 725.39h1.42v15.84h-1.42z" fill="#1264b6"/>
<path d="M1689.83 91.97h0.95v15.84h-0.95zM1690.26 297.83h0.95v95.01h-0.95zM1698.77 297.83h0.95v95.01h-0.95zM1690.26 567.04h0.95v126.68h-0.95zM1698.77 567.04h0.95v126.68h-0.95z" fill="#ade3d1" fill-opacity="0.45"/>
<pattern id="txF" width="9.10" height="15.836" patternUnits="userSpaceOnUse" patternTransform="translate(1690.35 59.95)"><rect x="4.10" y="0" width="5.00" height="15.836" fill="#ffffe6" fill-opacity="0.117"/><rect x="0" y="0" width="4.10" height="0.7" fill="#ffffe6" fill-opacity="0.1"/></pattern>
<rect x="1685.85" y="59.55" width="15.40" height="714.10" fill="url(#txF)"/>
<rect x="1685.90" y="59.80" width="15.30" height="714.50" fill="none" stroke="#000" stroke-width="1.75"/>
</g>
<g id="panel-G">
<rect x="1706.85" y="59.55" width="31.40" height="714.10" fill="#1264b6"/>
<path d="M1707.07 59.55h7.13v32.42h-7.13zM1715.05 59.55h3.01v32.42h-3.01zM1719.78 59.55h0.87v32.42h-0.87zM1721.93 59.55h0.43v32.42h-0.43zM1723.82 59.55h5.23v32.42h-5.23zM1731.63 59.55h0.87v32.42h-0.87zM1707.07 91.97h4.55v15.84h-4.55zM1715.49 91.97h0.85v15.84h-0.85zM1718.06 91.97h0.69v15.84h-0.69zM1719.78 91.97h2.16v15.84h-2.16zM1708.19 107.81h1.12v15.84h-1.12zM1714.20 107.81h0.85v15.84h-0.85zM1716.78 107.81h1.28v15.84h-1.28zM1718.93 107.81h1.29v15.84h-1.29zM1721.07 107.81h2.58v15.84h-2.58zM1731.63 107.81h5.33v15.84h-5.33zM1709.40 202.82h0.95v15.84h-0.95zM1715.08 202.82h0.95v15.84h-0.95zM1718.62 202.82h0.95v15.84h-0.95zM1722.87 202.82h0.95v15.84h-0.95zM1713.66 218.66h0.95v15.84h-0.95zM1718.62 218.66h0.95v15.84h-0.95zM1722.87 218.66h0.95v15.84h-0.95zM1729.73 218.66h2.84v15.84h-2.84zM1735.64 218.66h0.95v15.84h-0.95zM1709.40 250.33h0.95v15.84h-0.95zM1719.10 250.33h2.13v15.84h-2.13zM1723.58 250.33h0.95v15.84h-0.95zM1709.40 266.16h0.95v15.84h-0.95zM1713.66 266.16h0.95v15.84h-0.95zM1719.10 266.16h2.13v15.84h-2.13zM1723.35 266.16h2.13v15.84h-2.13zM1729.73 266.16h2.84v15.84h-2.84zM1733.99 266.16h2.84v15.84h-2.84zM1706.85 297.83h31.40v95.01h-31.40zM1711.30 408.68h1.42v15.84h-1.42zM1713.42 408.68h1.42v15.84h-1.42zM1718.39 408.68h1.42v15.84h-1.42zM1722.64 408.68h1.42v15.84h-1.42zM1729.73 408.68h3.55v15.84h-3.55zM1736.11 408.68h0.71v15.84h-0.71zM1716.97 424.52h1.42v15.84h-1.42zM1719.33 424.52h0.95v15.84h-0.95zM1721.46 424.52h0.95v15.84h-0.95zM1716.49 440.35h0.95v15.84h-0.95zM1721.46 440.35h0.95v15.84h-0.95zM1733.28 440.35h2.84v15.84h-2.84zM1719.33 456.19h0.95v15.84h-0.95zM1721.46 456.19h0.95v15.84h-0.95zM1733.28 456.19h1.42v15.84h-1.42zM1717.20 472.02h0.95v15.84h-0.95zM1722.87 472.02h0.95v15.84h-0.95zM1727.13 472.02h0.95v15.84h-0.95zM1734.22 472.02h0.95v15.84h-0.95zM1708.46 503.70h1.42v15.84h-1.42zM1710.82 503.70h0.95v15.84h-0.95zM1726.89 503.70h1.42v15.84h-1.42zM1732.57 503.70h4.25v15.84h-4.25zM1713.66 519.53h0.95v15.84h-0.95zM1720.75 519.53h0.95v15.84h-0.95zM1727.84 519.53h0.95v15.84h-0.95zM1733.51 519.53h0.95v15.84h-0.95zM1706.85 535.37h31.40v15.84h-31.40zM1706.85 662.05h31.40v31.67h-31.40zM1710.82 709.56h0.95v15.84h-0.95zM1726.14 709.56h0.95v15.84h-0.95zM1730.67 709.56h0.95v15.84h-0.95zM1706.85 725.39h31.40v15.84h-31.40zM1708.46 741.23h5.67v15.84h-5.67zM1715.55 741.23h1.42v15.84h-1.42zM1718.62 741.23h0.95v15.84h-0.95zM1720.51 741.23h1.42v15.84h-1.42zM1724.06 741.23h5.67v15.84h-5.67zM1732.09 741.23h0.95v15.84h-0.95z" fill="#ade3d1"/>
<path d="M1717.68 535.37h1.42v15.84h-1.42zM1720.51 535.37h2.13v15.84h-2.13zM1731.86 535.37h1.42v15.84h-1.42zM1707.75 725.39h6.38v15.84h-6.38zM1716.26 725.39h1.42v15.84h-1.42zM1719.10 725.39h0.71v15.84h-0.71zM1720.51 725.39h1.42v15.84h-1.42zM1724.06 725.39h5.67v15.84h-5.67zM1732.57 725.39h1.42v15.84h-1.42z" fill="#1264b6"/>
<path d="M1730.67 757.06h0.95v16.59h-0.95z" fill="#ade3d1" fill-opacity="0.45"/>
<pattern id="txG" width="9.10" height="15.836" patternUnits="userSpaceOnUse" patternTransform="translate(1711.35 59.95)"><rect x="4.10" y="0" width="5.00" height="15.836" fill="#ffffe6" fill-opacity="0.117"/><rect x="0" y="0" width="4.10" height="0.7" fill="#ffffe6" fill-opacity="0.1"/></pattern>
<rect x="1706.85" y="59.55" width="31.40" height="714.10" fill="url(#txG)"/>
<rect x="1706.90" y="59.80" width="31.30" height="714.50" fill="none" stroke="#000" stroke-width="1.75"/>
</g>
<g id="panel-H">
<rect x="1743.85" y="59.55" width="45.40" height="714.10" fill="#1264b6"/>
<path d="M1743.85 59.55h45.40v32.42h-45.40zM1744.62 91.97h2.84v15.84h-2.84zM1759.94 91.97h0.99v15.84h-0.99zM1767.31 91.97h0.99v15.84h-0.99zM1771.99 91.97h0.99v15.84h-0.99zM1779.60 91.97h0.95v15.84h-0.95zM1784.56 91.97h0.95v15.84h-0.95zM1743.85 107.81h45.40v15.84h-45.40zM1778.18 186.98h0.95v15.84h-0.95zM1743.85 202.82h45.40v63.34h-45.40zM1751.95 266.16h0.95v15.84h-0.95zM1754.78 266.16h0.95v15.84h-0.95zM1761.35 266.16h1.42v15.84h-1.42zM1765.61 266.16h2.84v15.84h-2.84zM1774.12 266.16h1.42v15.84h-1.42zM1779.79 266.16h2.13v15.84h-2.13zM1786.88 266.16h1.42v15.84h-1.42zM1743.85 297.83h45.40v95.01h-45.40zM1755.49 408.68h0.95v15.84h-0.95zM1766.13 408.68h0.95v15.84h-0.95zM1773.22 408.68h0.95v15.84h-0.95zM1754.07 424.52h0.95v15.84h-0.95zM1755.49 424.52h0.95v15.84h-0.95zM1766.32 424.52h1.42v15.84h-1.42zM1768.25 424.52h0.95v15.84h-0.95zM1773.41 424.52h2.13v15.84h-2.13zM1782.20 424.52h1.13v15.84h-1.13zM1743.85 440.35h45.40v15.84h-45.40zM1746.27 456.19h0.95v15.84h-0.95zM1759.04 456.19h0.95v15.84h-0.95zM1762.58 456.19h0.95v15.84h-0.95zM1774.40 456.19h1.42v15.84h-1.42zM1783.14 456.19h0.95v15.84h-0.95zM1785.98 456.19h0.95v15.84h-0.95zM1752.42 472.02h2.84v15.84h-2.84zM1763.48 472.02h0.71v15.84h-0.71zM1767.31 472.02h3.55v15.84h-3.55zM1777.95 472.02h0.71v15.84h-0.71zM1782.20 472.02h1.42v15.84h-1.42zM1786.45 472.02h1.42v15.84h-1.42zM1777.90 487.86h0.95v15.84h-0.95zM1763.29 519.53h0.95v15.84h-0.95zM1768.25 519.53h0.95v15.84h-0.95zM1753.36 535.37h0.95v15.84h-0.95zM1755.49 535.37h0.95v15.84h-0.95zM1759.04 535.37h0.95v15.84h-0.95zM1766.13 535.37h0.95v15.84h-0.95zM1774.40 535.37h1.42v15.84h-1.42zM1777.47 535.37h0.95v15.84h-0.95zM1781.73 535.37h0.95v15.84h-0.95zM1787.16 535.37h2.09v15.84h-2.09zM1743.85 551.20h45.40v15.84h-45.40zM1762.58 614.54h0.95v15.84h-0.95zM1743.85 662.05h45.40v31.67h-45.40zM1750.53 693.72h0.95v15.84h-0.95zM1761.16 693.72h0.95v15.84h-0.95zM1763.29 693.72h0.95v15.84h-0.95zM1766.84 693.72h0.95v15.84h-0.95zM1774.64 693.72h0.95v15.84h-0.95zM1776.76 693.72h0.95v15.84h-0.95zM1779.60 693.72h0.95v15.84h-0.95zM1781.73 693.72h0.95v15.84h-0.95zM1759.04 709.56h0.95v15.84h-0.95zM1763.29 709.56h0.95v15.84h-0.95zM1743.85 725.39h45.40v15.84h-45.40zM1763.29 741.23h0.95v15.84h-0.95zM1781.02 741.23h0.95v15.84h-0.95zM1778.18 757.06h0.95v16.59h-0.95z" fill="#ade3d1"/>
<path d="M1766.84 59.55h0.95v32.42h-0.95zM1781.02 59.55h0.95v32.42h-0.95zM1753.84 107.81h1.42v15.84h-1.42zM1757.38 107.81h0.71v15.84h-0.71zM1763.77 107.81h1.42v15.84h-1.42zM1773.69 107.81h1.42v15.84h-1.42zM1781.02 107.81h0.95v15.84h-0.95zM1785.98 107.81h0.95v15.84h-0.95zM1749.58 440.35h2.84v15.84h-2.84zM1755.26 440.35h2.13v15.84h-2.13zM1762.35 440.35h2.13v15.84h-2.13zM1766.60 440.35h2.13v15.84h-2.13zM1771.56 440.35h5.67v15.84h-5.67zM1763.29 725.39h0.95v15.84h-0.95zM1781.02 725.39h0.95v15.84h-0.95z" fill="#1264b6"/>
<path d="M1747.69 519.53h0.95v15.84h-0.95z" fill="#ade3d1" fill-opacity="0.45"/>
<pattern id="txH" width="9.10" height="15.836" patternUnits="userSpaceOnUse" patternTransform="translate(1748.35 59.95)"><rect x="4.10" y="0" width="5.00" height="15.836" fill="#ffffe6" fill-opacity="0.117"/><rect x="0" y="0" width="4.10" height="0.7" fill="#ffffe6" fill-opacity="0.1"/></pattern>
<rect x="1743.85" y="59.55" width="45.40" height="714.10" fill="url(#txH)"/>
<rect x="1743.90" y="59.80" width="45.30" height="714.50" fill="none" stroke="#000" stroke-width="1.75"/>
</g>
<g id="panel-I">
<rect x="1794.85" y="59.55" width="47.50" height="714.10" fill="#1264b6"/>
<path d="M1794.85 59.55h47.50v32.42h-47.50zM1805.38 91.97h3.55v15.84h-3.55zM1818.85 91.97h0.71v15.84h-0.71zM1820.98 91.97h0.71v15.84h-0.71zM1830.20 91.97h0.71v15.84h-0.71zM1833.03 91.97h0.71v15.84h-0.71zM1794.85 107.81h47.50v15.84h-47.50zM1821.92 139.48h0.95v47.51h-0.95zM1826.88 139.48h0.95v47.51h-0.95zM1802.78 186.98h0.95v15.84h-0.95zM1806.32 186.98h0.95v15.84h-0.95zM1809.16 186.98h0.95v15.84h-0.95zM1826.88 186.98h0.95v15.84h-0.95zM1796.87 202.82h2.13v15.84h-2.13zM1801.83 202.82h1.42v15.84h-1.42zM1804.67 202.82h3.55v15.84h-3.55zM1809.63 202.82h3.55v15.84h-3.55zM1816.01 202.82h1.42v15.84h-1.42zM1823.11 202.82h2.84v15.84h-2.84zM1827.36 202.82h3.55v15.84h-3.55zM1833.03 202.82h1.42v15.84h-1.42zM1835.87 202.82h4.96v15.84h-4.96zM1794.85 218.66h47.50v15.84h-47.50zM1794.85 250.33h47.50v15.84h-47.50zM1808.22 266.16h1.42v15.84h-1.42zM1830.90 266.16h1.42v15.84h-1.42zM1834.45 266.16h1.42v15.84h-1.42zM1797.81 282.00h0.95v15.84h-0.95zM1802.78 282.00h0.95v15.84h-0.95zM1806.80 282.00h1.42v15.84h-1.42zM1809.16 282.00h0.95v15.84h-0.95zM1806.32 313.67h0.95v31.67h-0.95zM1810.15 345.34h0.95v15.84h-0.95zM1803.77 408.68h0.95v15.84h-0.95zM1814.12 408.68h0.95v15.84h-0.95zM1823.34 408.68h0.95v15.84h-0.95zM1828.30 408.68h0.95v15.84h-0.95zM1797.58 424.52h1.42v15.84h-1.42zM1811.99 424.52h0.95v15.84h-0.95zM1815.31 424.52h2.13v15.84h-2.13zM1832.32 424.52h1.42v15.84h-1.42zM1836.10 424.52h0.95v15.84h-0.95zM1838.94 424.52h0.95v15.84h-0.95zM1796.87 440.35h1.42v15.84h-1.42zM1799.71 440.35h2.84v15.84h-2.84zM1804.67 440.35h1.42v15.84h-1.42zM1807.51 440.35h1.42v15.84h-1.42zM1811.05 440.35h6.38v15.84h-6.38zM1821.69 440.35h2.13v15.84h-2.13zM1825.23 440.35h2.13v15.84h-2.13zM1828.78 440.35h0.71v15.84h-0.71zM1833.03 440.35h1.42v15.84h-1.42zM1838.70 440.35h0.71v15.84h-0.71zM1797.81 456.19h0.95v15.84h-0.95zM1803.25 456.19h1.42v15.84h-1.42zM1811.29 456.19h0.95v15.84h-0.95zM1824.05 456.19h0.95v15.84h-0.95zM1833.27 456.19h0.95v15.84h-0.95zM1837.52 456.19h0.95v15.84h-0.95zM1796.87 472.02h0.71v15.84h-0.71zM1801.12 472.02h0.71v15.84h-0.71zM1805.38 472.02h1.42v15.84h-1.42zM1811.76 472.02h2.84v15.84h-2.84zM1816.01 472.02h2.13v15.84h-2.13zM1822.40 472.02h1.42v15.84h-1.42zM1826.65 472.02h2.84v15.84h-2.84zM1833.03 472.02h0.71v15.84h-0.71zM1836.81 472.02h0.95v15.84h-0.95zM1805.38 487.86h1.42v15.84h-1.42zM1808.22 487.86h2.13v15.84h-2.13zM1818.38 487.86h0.95v15.84h-0.95zM1826.88 487.86h0.95v15.84h-0.95zM1807.03 503.70h0.95v15.84h-0.95zM1812.70 503.70h0.95v15.84h-0.95zM1796.40 519.53h0.95v15.84h-0.95zM1799.23 519.53h0.95v15.84h-0.95zM1814.12 519.53h0.95v15.84h-0.95zM1816.96 519.53h0.95v15.84h-0.95zM1831.85 519.53h0.95v15.84h-0.95zM1837.29 519.53h1.42v15.84h-1.42zM1794.85 535.37h47.50v15.84h-47.50zM1794.85 567.04h47.50v95.01h-47.50zM1806.32 677.89h0.95v15.84h-0.95zM1796.40 693.72h0.95v15.84h-0.95zM1806.32 693.72h0.95v15.84h-0.95zM1809.87 693.72h0.95v15.84h-0.95zM1812.70 693.72h0.95v15.84h-0.95zM1824.05 693.72h0.95v15.84h-0.95zM1814.12 709.56h0.95v15.84h-0.95zM1830.43 709.56h0.95v15.84h-0.95zM1832.56 709.56h0.95v15.84h-0.95zM1794.85 725.39h47.50v15.84h-47.50zM1800.65 741.23h0.95v15.84h-0.95zM1813.89 741.23h2.13v15.84h-2.13zM1817.43 741.23h3.55v15.84h-3.55zM1823.11 741.23h1.42v15.84h-1.42zM1825.94 741.23h1.42v15.84h-1.42zM1829.49 741.23h5.67v15.84h-5.67zM1836.58 741.23h4.25v15.84h-4.25zM1797.81 757.06h0.95v16.59h-0.95zM1802.78 757.06h0.95v16.59h-0.95zM1807.03 757.06h0.95v16.59h-0.95zM1809.16 757.06h0.95v16.59h-0.95z" fill="#ade3d1"/>
<path d="M1795.88 107.81h1.70v15.84h-1.70zM1799.00 107.81h1.42v15.84h-1.42zM1801.12 107.81h1.42v15.84h-1.42zM1803.96 107.81h1.42v15.84h-1.42zM1812.47 107.81h1.42v15.84h-1.42zM1817.43 107.81h2.13v15.84h-2.13zM1820.27 107.81h2.13v15.84h-2.13zM1825.23 107.81h4.96v15.84h-4.96zM1831.61 107.81h1.42v15.84h-1.42zM1833.74 107.81h1.42v15.84h-1.42zM1836.58 107.81h1.42v15.84h-1.42zM1839.41 107.81h1.42v15.84h-1.42zM1811.05 218.66h2.13v15.84h-2.13zM1814.60 218.66h2.13v15.84h-2.13zM1823.11 218.66h2.13v15.84h-2.13zM1829.49 218.66h1.42v15.84h-1.42zM1835.16 218.66h2.13v15.84h-2.13zM1838.70 218.66h1.42v15.84h-1.42zM1841.54 218.66h0.71v15.84h-0.71zM1795.88 250.33h0.99v15.84h-0.99zM1798.29 250.33h2.13v15.84h-2.13zM1801.83 250.33h1.42v15.84h-1.42zM1804.24 250.33h0.85v15.84h-0.85zM1821.69 250.33h2.13v15.84h-2.13zM1828.78 250.33h1.42v15.84h-1.42zM1841.54 250.33h0.71v15.84h-0.71zM1795.88 535.37h1.70v15.84h-1.70zM1799.00 535.37h1.42v15.84h-1.42zM1801.83 535.37h1.42v15.84h-1.42zM1804.67 535.37h0.71v15.84h-0.71zM1808.22 535.37h1.42v15.84h-1.42zM1810.34 535.37h2.13v15.84h-2.13zM1820.27 535.37h1.42v15.84h-1.42zM1828.07 535.37h4.25v15.84h-4.25zM1833.74 535.37h1.42v15.84h-1.42zM1836.58 535.37h1.42v15.84h-1.42zM1839.41 535.37h1.42v15.84h-1.42zM1841.54 535.37h0.71v15.84h-0.71zM1811.76 725.39h4.96v15.84h-4.96zM1818.14 725.39h3.55v15.84h-3.55zM1823.81 725.39h1.42v15.84h-1.42zM1826.65 725.39h2.13v15.84h-2.13zM1830.20 725.39h2.13v15.84h-2.13zM1833.74 725.39h2.84v15.84h-2.84zM1838.00 725.39h1.42v15.84h-1.42zM1840.83 725.39h1.42v15.84h-1.42z" fill="#1264b6"/>
<pattern id="txI" width="9.10" height="15.836" patternUnits="userSpaceOnUse" patternTransform="translate(1799.35 59.95)"><rect x="4.10" y="0" width="5.00" height="15.836" fill="#ffffe6" fill-opacity="0.117"/><rect x="0" y="0" width="4.10" height="0.7" fill="#ffffe6" fill-opacity="0.1"/></pattern>
<rect x="1794.85" y="59.55" width="47.50" height="714.10" fill="url(#txI)"/>
<rect x="1794.90" y="59.80" width="47.40" height="714.50" fill="none" stroke="#000" stroke-width="1.75"/>
</g>
<g id="panel-J">
<rect x="1847.75" y="59.55" width="102.50" height="714.10" fill="#1264b6"/>
<path d="M1847.75 59.55h102.50v32.42h-102.50zM1857.85 91.97h0.71v15.84h-0.71zM1864.94 91.97h1.42v15.84h-1.42zM1867.07 91.97h2.84v15.84h-2.84zM1895.43 91.97h0.71v15.84h-0.71zM1896.85 91.97h1.42v15.84h-1.42zM1913.15 91.97h0.71v15.84h-0.71zM1938.68 91.97h0.71v15.84h-0.71zM1940.81 91.97h0.71v15.84h-0.71zM1942.93 91.97h0.71v15.84h-0.71zM1847.75 107.81h102.50v15.84h-102.50zM1892.83 139.48h0.95v15.84h-0.95zM1907.48 139.48h2.84v15.84h-2.84zM1915.28 139.48h1.42v15.84h-1.42zM1917.41 139.48h1.42v15.84h-1.42zM1920.24 139.48h1.42v15.84h-1.42zM1923.79 139.48h1.42v15.84h-1.42zM1928.04 139.48h4.25v15.84h-4.25zM1934.43 139.48h1.42v15.84h-1.42zM1937.26 139.48h2.13v15.84h-2.13zM1907.48 155.31h2.84v31.67h-2.84zM1915.28 155.31h1.42v31.67h-1.42zM1917.41 155.31h1.42v31.67h-1.42zM1920.24 155.31h1.42v31.67h-1.42zM1923.79 155.31h1.42v31.67h-1.42zM1928.04 155.31h4.25v31.67h-4.25zM1934.43 155.31h1.42v31.67h-1.42zM1937.26 155.31h2.13v31.67h-2.13zM1849.34 202.82h1.42v15.84h-1.42zM1852.18 202.82h1.42v15.84h-1.42zM1859.98 202.82h5.67v15.84h-5.67zM1869.90 202.82h2.13v15.84h-2.13zM1873.45 202.82h2.84v15.84h-2.84zM1877.70 202.82h5.67v15.84h-5.67zM1884.79 202.82h1.42v15.84h-1.42zM1887.63 202.82h4.25v15.84h-4.25zM1895.43 202.82h1.42v15.84h-1.42zM1901.10 202.82h2.13v15.84h-2.13zM1904.65 202.82h4.96v15.84h-4.96zM1911.03 202.82h2.13v15.84h-2.13zM1914.57 202.82h2.84v15.84h-2.84zM1918.83 202.82h4.25v15.84h-4.25zM1924.50 202.82h2.13v15.84h-2.13zM1928.04 202.82h2.13v15.84h-2.13zM1932.30 202.82h7.09v15.84h-7.09zM1947.90 202.82h1.42v15.84h-1.42zM1857.37 218.66h0.95v15.84h-0.95zM1869.43 218.66h0.95v15.84h-0.95zM1877.23 218.66h0.95v15.84h-0.95zM1882.19 218.66h0.95v15.84h-0.95zM1885.03 218.66h0.95v15.84h-0.95zM1893.53 218.66h0.95v15.84h-0.95zM1896.37 218.66h0.95v15.84h-0.95zM1899.21 218.66h0.95v15.84h-0.95zM1901.33 218.66h0.95v15.84h-0.95zM1904.17 218.66h0.95v15.84h-0.95zM1924.73 218.66h0.95v15.84h-0.95zM1938.91 218.66h0.95v15.84h-0.95zM1942.22 218.66h2.84v15.84h-2.84zM1850.76 250.33h1.42v15.84h-1.42zM1854.30 250.33h4.96v15.84h-4.96zM1864.23 250.33h1.42v15.84h-1.42zM1867.07 250.33h2.13v15.84h-2.13zM1871.32 250.33h2.13v15.84h-2.13zM1875.10 250.33h0.95v15.84h-0.95zM1885.03 250.33h0.95v15.84h-0.95zM1891.88 250.33h1.42v15.84h-1.42zM1898.26 250.33h2.13v15.84h-2.13zM1904.17 250.33h0.95v15.84h-0.95zM1911.03 250.33h2.13v15.84h-2.13zM1916.93 250.33h0.95v15.84h-0.95zM1923.08 250.33h1.42v15.84h-1.42zM1926.86 250.33h0.95v15.84h-0.95zM1930.17 250.33h1.42v15.84h-1.42zM1941.75 250.33h0.95v15.84h-0.95zM1944.35 250.33h1.42v15.84h-1.42zM1947.42 250.33h0.95v15.84h-0.95zM1850.05 266.16h2.13v15.84h-2.13zM1854.30 266.16h2.13v15.84h-2.13zM1860.68 266.16h1.42v15.84h-1.42zM1863.75 266.16h0.95v15.84h-0.95zM1867.30 266.16h0.95v15.84h-0.95zM1870.85 266.16h0.95v15.84h-0.95zM1877.23 266.16h0.95v15.84h-0.95zM1880.77 266.16h0.95v15.84h-0.95zM1884.08 266.16h1.42v15.84h-1.42zM1891.17 266.16h2.13v15.84h-2.13zM1897.56 266.16h2.13v15.84h-2.13zM1901.81 266.16h2.84v15.84h-2.84zM1937.26 266.16h1.42v15.84h-1.42zM1941.52 266.16h1.42v15.84h-1.42zM1944.35 266.16h2.84v15.84h-2.84zM1930.12 282.00h0.95v15.84h-0.95zM1857.09 392.85h0.95v15.84h-0.95zM1944.30 392.85h0.95v15.84h-0.95zM1946.00 392.85h0.95v15.84h-0.95zM1860.92 408.68h0.95v15.84h-0.95zM1879.07 408.68h0.95v15.84h-0.95zM1890.98 408.68h0.95v15.84h-0.95zM1900.39 408.68h1.42v15.84h-1.42zM1915.09 408.68h0.95v15.84h-0.95zM1926.86 408.68h0.95v15.84h-0.95zM1928.99 408.68h0.95v15.84h-0.95zM1931.82 408.68h0.95v15.84h-0.95zM1858.79 424.52h0.95v15.84h-0.95zM1863.75 424.52h0.95v15.84h-0.95zM1877.23 424.52h0.95v15.84h-0.95zM1889.28 424.52h0.95v15.84h-0.95zM1897.79 424.52h0.95v15.84h-0.95zM1899.92 424.52h0.95v15.84h-0.95zM1904.17 424.52h0.95v15.84h-0.95zM1907.01 424.52h0.95v15.84h-0.95zM1909.84 424.52h0.95v15.84h-0.95zM1926.86 424.52h0.95v15.84h-0.95zM1928.99 424.52h0.95v15.84h-0.95zM1939.62 424.52h0.95v15.84h-0.95zM1947.19 424.52h1.42v15.84h-1.42zM1849.34 440.35h1.42v15.84h-1.42zM1852.18 440.35h1.42v15.84h-1.42zM1855.01 440.35h1.42v15.84h-1.42zM1857.37 440.35h0.95v15.84h-0.95zM1860.68 440.35h6.38v15.84h-6.38zM1869.90 440.35h2.13v15.84h-2.13zM1873.45 440.35h2.13v15.84h-2.13zM1881.48 440.35h0.95v15.84h-0.95zM1885.03 440.35h0.95v15.84h-0.95zM1889.05 440.35h7.09v15.84h-7.09zM1898.26 440.35h4.96v15.84h-4.96zM1907.48 440.35h2.84v15.84h-2.84zM1911.74 440.35h5.67v15.84h-5.67zM1918.83 440.35h2.13v15.84h-2.13zM1923.08 440.35h4.25v15.84h-4.25zM1928.75 440.35h2.13v15.84h-2.13zM1934.43 440.35h2.13v15.84h-2.13zM1938.68 440.35h2.13v15.84h-2.13zM1942.93 440.35h1.42v15.84h-1.42zM1945.77 440.35h1.42v15.84h-1.42zM1850.28 456.19h0.95v15.84h-0.95zM1855.96 456.19h0.95v15.84h-0.95zM1864.94 456.19h1.42v15.84h-1.42zM1871.55 456.19h0.95v15.84h-0.95zM1875.10 456.19h0.95v15.84h-0.95zM1885.03 456.19h0.95v15.84h-0.95zM1887.15 456.19h0.95v15.84h-0.95zM1892.12 456.19h0.95v15.84h-0.95zM1897.56 456.19h1.42v15.84h-1.42zM1907.01 456.19h0.95v15.84h-0.95zM1912.68 456.19h0.95v15.84h-0.95zM1916.93 456.19h0.95v15.84h-0.95zM1919.77 456.19h0.95v15.84h-0.95zM1930.17 456.19h1.42v15.84h-1.42zM1933.24 456.19h0.95v15.84h-0.95zM1939.62 456.19h0.95v15.84h-0.95zM1942.46 456.19h0.95v15.84h-0.95zM1852.89 472.02h7.80v15.84h-7.80zM1861.63 472.02h0.95v15.84h-0.95zM1864.94 472.02h7.09v15.84h-7.09zM1877.70 472.02h2.13v15.84h-2.13zM1881.25 472.02h3.55v15.84h-3.55zM1891.88 472.02h7.80v15.84h-7.80zM1901.81 472.02h1.42v15.84h-1.42zM1908.19 472.02h6.38v15.84h-6.38zM1915.99 472.02h5.67v15.84h-5.67zM1928.04 472.02h2.13v15.84h-2.13zM1931.82 472.02h0.95v15.84h-0.95zM1934.43 472.02h7.09v15.84h-7.09zM1943.64 472.02h1.42v15.84h-1.42zM1930.12 487.86h0.95v15.84h-0.95zM1944.30 487.86h0.95v15.84h-0.95zM1867.78 503.70h1.42v15.84h-1.42zM1859.27 519.53h2.13v15.84h-2.13zM1867.30 519.53h0.95v15.84h-0.95zM1882.19 519.53h0.95v15.84h-0.95zM1892.12 519.53h0.95v15.84h-0.95zM1899.68 519.53h2.13v15.84h-2.13zM1911.26 519.53h0.95v15.84h-0.95zM1925.87 519.53h0.95v15.84h-0.95zM1847.75 535.37h102.50v15.84h-102.50zM1847.75 567.04h102.50v95.01h-102.50zM1852.18 693.72h1.42v15.84h-1.42zM1857.85 693.72h1.42v15.84h-1.42zM1863.75 693.72h0.95v15.84h-0.95zM1868.48 693.72h1.42v15.84h-1.42zM1880.77 693.72h0.95v15.84h-0.95zM1911.26 693.72h0.95v15.84h-0.95zM1915.52 693.72h0.95v15.84h-0.95zM1919.77 693.72h0.95v15.84h-0.95zM1924.02 693.72h0.95v15.84h-0.95zM1931.82 693.72h0.95v15.84h-0.95zM1850.99 709.56h0.95v15.84h-0.95zM1853.12 709.56h0.95v15.84h-0.95zM1861.39 709.56h1.42v15.84h-1.42zM1867.78 709.56h1.42v15.84h-1.42zM1871.55 709.56h0.95v15.84h-0.95zM1884.32 709.56h0.95v15.84h-0.95zM1887.86 709.56h0.95v15.84h-0.95zM1891.41 709.56h0.95v15.84h-0.95zM1897.79 709.56h0.95v15.84h-0.95zM1901.33 709.56h0.95v15.84h-0.95zM1911.26 709.56h0.95v15.84h-0.95zM1914.81 709.56h0.95v15.84h-0.95zM1924.50 709.56h1.42v15.84h-1.42zM1927.57 709.56h0.95v15.84h-0.95zM1945.30 709.56h0.95v15.84h-0.95zM1847.75 725.39h102.50v15.84h-102.50zM1850.28 741.23h0.95v15.84h-0.95zM1858.08 741.23h0.95v15.84h-0.95zM1861.39 741.23h0.71v15.84h-0.71zM1868.01 741.23h0.95v15.84h-0.95zM1870.85 741.23h0.95v15.84h-0.95zM1884.32 741.23h0.95v15.84h-0.95zM1887.86 741.23h0.95v15.84h-0.95zM1891.17 741.23h1.42v15.84h-1.42zM1898.26 741.23h1.42v15.84h-1.42zM1901.33 741.23h0.95v15.84h-0.95zM1910.32 741.23h4.25v15.84h-4.25zM1916.93 741.23h0.95v15.84h-0.95zM1925.44 741.23h0.95v15.84h-0.95zM1927.57 741.23h0.95v15.84h-0.95zM1932.53 741.23h0.95v15.84h-0.95zM1940.81 741.23h2.13v15.84h-2.13zM1891.83 757.06h0.95v16.59h-0.95zM1912.96 757.06h0.95v16.59h-0.95z" fill="#ade3d1"/>
<path d="M1857.09 59.55h0.95v32.42h-0.95zM1893.96 59.55h0.95v32.42h-0.95zM1944.30 59.55h0.95v32.42h-0.95zM1850.28 107.81h0.95v15.84h-0.95zM1852.41 107.81h0.95v15.84h-0.95zM1855.01 107.81h2.84v15.84h-2.84zM1858.79 107.81h0.95v15.84h-0.95zM1861.63 107.81h0.95v15.84h-0.95zM1864.46 107.81h0.95v15.84h-0.95zM1865.88 107.81h0.95v15.84h-0.95zM1869.90 107.81h2.84v15.84h-2.84zM1878.41 107.81h2.84v15.84h-2.84zM1882.90 107.81h0.95v15.84h-0.95zM1885.03 107.81h0.95v15.84h-0.95zM1887.15 107.81h0.95v15.84h-0.95zM1892.59 107.81h1.42v15.84h-1.42zM1903.23 107.81h1.42v15.84h-1.42zM1907.01 107.81h0.95v15.84h-0.95zM1908.42 107.81h0.95v15.84h-0.95zM1910.55 107.81h0.95v15.84h-0.95zM1913.86 107.81h4.96v15.84h-4.96zM1919.77 107.81h0.95v15.84h-0.95zM1922.37 107.81h3.55v15.84h-3.55zM1927.33 107.81h5.67v15.84h-5.67zM1934.43 107.81h4.25v15.84h-4.25zM1942.46 107.81h0.95v15.84h-0.95zM1945.30 107.81h0.95v15.84h-0.95zM1848.63 535.37h3.55v15.84h-3.55zM1853.59 535.37h1.42v15.84h-1.42zM1857.85 535.37h1.42v15.84h-1.42zM1860.21 535.37h0.95v15.84h-0.95zM1862.34 535.37h0.95v15.84h-0.95zM1865.17 535.37h0.95v15.84h-0.95zM1867.78 535.37h4.96v15.84h-4.96zM1876.99 535.37h1.42v15.84h-1.42zM1880.54 535.37h1.42v15.84h-1.42zM1884.32 535.37h0.95v15.84h-0.95zM1886.92 535.37h1.42v15.84h-1.42zM1890.46 535.37h3.55v15.84h-3.55zM1896.14 535.37h3.55v15.84h-3.55zM1902.52 535.37h4.96v15.84h-4.96zM1910.32 535.37h4.96v15.84h-4.96zM1916.93 535.37h0.95v15.84h-0.95zM1920.24 535.37h2.13v15.84h-2.13zM1930.17 535.37h2.13v15.84h-2.13zM1935.37 535.37h0.95v15.84h-0.95zM1940.10 535.37h3.55v15.84h-3.55zM1947.19 535.37h2.13v15.84h-2.13zM1850.99 725.39h0.95v15.84h-0.95zM1857.85 725.39h1.42v15.84h-1.42zM1861.39 725.39h1.42v15.84h-1.42zM1867.78 725.39h1.42v15.84h-1.42zM1871.55 725.39h0.95v15.84h-0.95zM1884.08 725.39h1.42v15.84h-1.42zM1887.86 725.39h0.95v15.84h-0.95zM1891.88 725.39h2.13v15.84h-2.13zM1898.26 725.39h2.13v15.84h-2.13zM1901.33 725.39h0.95v15.84h-0.95zM1910.32 725.39h4.96v15.84h-4.96zM1917.41 725.39h1.42v15.84h-1.42zM1925.21 725.39h1.42v15.84h-1.42zM1927.57 725.39h0.95v15.84h-0.95zM1931.59 725.39h2.13v15.84h-2.13zM1940.10 725.39h2.84v15.84h-2.84z" fill="#1264b6"/>
<path d="M1946.71 59.55h0.95v32.42h-0.95zM1873.68 662.05h0.95v31.67h-0.95z" fill="#ade3d1" fill-opacity="0.45"/>
<pattern id="txJ" width="8.98" height="15.836" patternUnits="userSpaceOnUse" patternTransform="translate(1852.00 59.95)"><rect x="4.10" y="0" width="4.88" height="15.836" fill="#ffffe6" fill-opacity="0.117"/><rect x="0" y="0" width="4.10" height="0.7" fill="#ffffe6" fill-opacity="0.1"/></pattern>
<rect x="1847.75" y="59.55" width="102.50" height="714.10" fill="url(#txJ)"/>
<rect x="1847.80" y="59.80" width="102.40" height="714.50" fill="none" stroke="#000" stroke-width="1.75"/>
</g>
<g id="panel-K">
<rect x="1955.85" y="59.55" width="94.00" height="714.10" fill="#1264b6"/>
<path d="M1955.85 59.55h94.00v32.42h-94.00zM1957.35 91.97h0.95v15.84h-0.95zM1959.48 91.97h0.95v15.84h-0.95zM1960.89 91.97h0.95v15.84h-0.95zM1964.21 91.97h1.42v15.84h-1.42zM1978.62 91.97h0.95v15.84h-0.95zM1983.58 91.97h0.95v15.84h-0.95zM1986.89 91.97h1.42v15.84h-1.42zM1990.44 91.97h4.96v15.84h-4.96zM2010.53 91.97h0.95v15.84h-0.95zM2014.78 91.97h0.95v15.84h-0.95zM2024.71 91.97h0.95v15.84h-0.95zM2041.02 91.97h0.95v15.84h-0.95zM2044.56 91.97h0.95v15.84h-0.95zM1955.85 107.81h94.00v15.84h-94.00zM2005.99 123.64h0.95v15.84h-0.95zM1963.73 186.98h0.95v15.84h-0.95zM1972.95 186.98h0.95v15.84h-0.95zM2040.02 186.98h0.95v15.84h-0.95zM1955.85 202.82h94.00v63.34h-94.00zM1957.35 266.16h0.95v15.84h-0.95zM1959.48 266.16h0.95v15.84h-0.95zM1961.60 266.16h0.95v15.84h-0.95zM1963.73 266.16h0.95v15.84h-0.95zM1966.57 266.16h0.95v15.84h-0.95zM1977.68 266.16h3.55v15.84h-3.55zM1983.35 266.16h1.42v15.84h-1.42zM1991.86 266.16h5.67v15.84h-5.67zM1999.66 266.16h1.42v15.84h-1.42zM2005.56 266.16h0.95v15.84h-0.95zM2009.11 266.16h0.95v15.84h-0.95zM2013.36 266.16h0.95v15.84h-0.95zM2019.04 266.16h0.95v15.84h-0.95zM2021.87 266.16h0.95v15.84h-0.95zM2024.71 266.16h0.95v15.84h-0.95zM2028.96 266.16h0.95v15.84h-0.95zM2035.34 266.16h0.95v15.84h-0.95zM2041.02 266.16h0.95v15.84h-0.95zM2044.33 266.16h2.13v15.84h-2.13zM1972.95 282.00h0.95v15.84h-0.95zM2016.91 282.00h0.95v15.84h-0.95zM2040.02 282.00h0.95v15.84h-0.95zM1988.55 392.85h0.95v15.84h-0.95zM1990.67 392.85h0.95v15.84h-0.95zM2033.22 392.85h0.95v15.84h-0.95zM1961.37 408.68h1.42v15.84h-1.42zM1975.78 408.68h0.95v15.84h-0.95zM1979.80 408.68h2.13v15.84h-2.13zM2006.98 408.68h0.95v15.84h-0.95zM2011.95 408.68h0.95v15.84h-0.95zM2017.38 408.68h1.42v15.84h-1.42zM2024.00 408.68h0.95v15.84h-0.95zM2028.25 408.68h0.95v15.84h-0.95zM2031.80 408.68h0.95v15.84h-0.95zM1964.21 424.52h1.42v15.84h-1.42zM1973.66 424.52h0.95v15.84h-0.95zM1977.91 424.52h0.95v15.84h-0.95zM1984.29 424.52h0.95v15.84h-0.95zM1986.42 424.52h0.95v15.84h-0.95zM1993.51 424.52h0.95v15.84h-0.95zM1999.18 424.52h0.95v15.84h-0.95zM2003.20 424.52h1.42v15.84h-1.42zM2010.53 424.52h0.95v15.84h-0.95zM2020.45 424.52h0.95v15.84h-0.95zM2023.29 424.52h0.95v15.84h-0.95zM2039.60 424.52h0.95v15.84h-0.95zM2041.73 424.52h0.95v15.84h-0.95zM2045.98 424.52h0.95v15.84h-0.95zM1956.41 440.35h1.42v15.84h-1.42zM1959.24 440.35h1.42v15.84h-1.42zM1973.42 440.35h1.42v15.84h-1.42zM1976.97 440.35h1.42v15.84h-1.42zM1983.58 440.35h0.95v15.84h-0.95zM1986.42 440.35h0.95v15.84h-0.95zM1992.57 440.35h2.84v15.84h-2.84zM1998.24 440.35h2.84v15.84h-2.84zM2011.00 440.35h2.84v15.84h-2.84zM2015.26 440.35h2.13v15.84h-2.13zM2019.51 440.35h1.42v15.84h-1.42zM2022.35 440.35h2.84v15.84h-2.84zM2028.96 440.35h0.95v15.84h-0.95zM2032.27 440.35h2.13v15.84h-2.13zM2035.82 440.35h4.25v15.84h-4.25zM2041.49 440.35h2.13v15.84h-2.13zM2045.04 440.35h4.25v15.84h-4.25zM1957.35 456.19h0.95v15.84h-0.95zM1960.19 456.19h0.95v15.84h-0.95zM1964.21 456.19h2.84v15.84h-2.84zM1974.37 456.19h0.95v15.84h-0.95zM1989.97 456.19h0.95v15.84h-0.95zM1995.64 456.19h0.95v15.84h-0.95zM1999.18 456.19h0.95v15.84h-0.95zM2006.27 456.19h0.95v15.84h-0.95zM2022.58 456.19h0.95v15.84h-0.95zM2024.71 456.19h0.95v15.84h-0.95zM2033.69 456.19h2.84v15.84h-2.84zM1964.44 472.02h0.95v15.84h-0.95zM1974.37 472.02h0.95v15.84h-0.95zM1977.91 472.02h0.95v15.84h-0.95zM1981.22 472.02h1.42v15.84h-1.42zM1985.48 472.02h2.13v15.84h-2.13zM1990.67 472.02h0.95v15.84h-0.95zM2003.44 472.02h0.95v15.84h-0.95zM2005.56 472.02h0.95v15.84h-0.95zM2010.29 472.02h2.13v15.84h-2.13zM2015.26 472.02h1.42v15.84h-1.42zM2019.04 472.02h0.95v15.84h-0.95zM2030.86 472.02h2.84v15.84h-2.84zM2045.98 472.02h0.95v15.84h-0.95zM1972.95 487.86h0.95v15.84h-0.95zM1994.93 487.86h0.95v15.84h-0.95zM2040.02 487.86h0.95v15.84h-0.95zM1996.06 519.53h0.95v15.84h-0.95zM2004.86 519.53h0.95v15.84h-0.95zM2006.98 519.53h0.95v15.84h-0.95zM2020.17 519.53h0.95v15.84h-0.95zM2030.10 519.53h0.95v15.84h-0.95zM1955.85 535.37h94.00v15.84h-94.00zM1955.85 551.20h94.00v15.84h-94.00zM1993.94 677.89h0.95v15.84h-0.95zM1967.28 693.72h0.95v15.84h-0.95zM2004.86 693.72h0.95v15.84h-0.95zM2015.49 693.72h0.95v15.84h-0.95zM2020.17 693.72h0.95v15.84h-0.95zM2030.10 693.72h0.95v15.84h-0.95zM2038.89 693.72h0.95v15.84h-0.95zM2044.56 693.72h0.95v15.84h-0.95zM2047.40 693.72h0.95v15.84h-0.95zM1974.37 709.56h0.95v15.84h-0.95zM1988.55 709.56h0.95v15.84h-0.95zM1990.67 709.56h0.95v15.84h-0.95zM2008.40 709.56h0.95v15.84h-0.95zM2021.87 709.56h0.95v15.84h-0.95zM2033.93 709.56h0.95v15.84h-0.95zM1955.85 725.39h94.00v15.84h-94.00zM1958.06 741.23h0.95v15.84h-0.95zM1974.37 741.23h0.95v15.84h-0.95zM1983.58 741.23h0.95v15.84h-0.95zM1988.31 741.23h2.13v15.84h-2.13zM1991.86 741.23h3.55v15.84h-3.55zM2002.73 741.23h0.95v15.84h-0.95zM2008.40 741.23h0.95v15.84h-0.95zM2011.24 741.23h0.95v15.84h-0.95zM2014.78 741.23h0.95v15.84h-0.95zM2021.87 741.23h0.95v15.84h-0.95zM2024.00 741.23h0.95v15.84h-0.95zM2029.67 741.23h0.95v15.84h-0.95zM2034.40 741.23h1.42v15.84h-1.42zM2043.14 741.23h0.95v15.84h-0.95zM2045.27 741.23h0.95v15.84h-0.95zM1972.95 757.06h0.95v16.59h-0.95zM2006.98 757.06h0.95v16.59h-0.95zM2016.91 757.06h0.95v16.59h-0.95z" fill="#ade3d1"/>
<path d="M1957.35 107.81h0.95v15.84h-0.95zM1960.19 107.81h0.95v15.84h-0.95zM1964.91 107.81h1.42v15.84h-1.42zM1969.17 107.81h1.42v15.84h-1.42zM1972.71 107.81h1.42v15.84h-1.42zM1975.78 107.81h0.95v15.84h-0.95zM1977.91 107.81h0.95v15.84h-0.95zM1980.04 107.81h0.95v15.84h-0.95zM1982.87 107.81h0.95v15.84h-0.95zM1985.71 107.81h0.95v15.84h-0.95zM1987.84 107.81h0.95v15.84h-0.95zM1992.57 107.81h3.55v15.84h-3.55zM2001.08 107.81h2.13v15.84h-2.13zM2004.86 107.81h0.95v15.84h-0.95zM2006.98 107.81h0.95v15.84h-0.95zM2009.82 107.81h0.95v15.84h-0.95zM2015.26 107.81h2.84v15.84h-2.84zM2024.47 107.81h1.42v15.84h-1.42zM2029.44 107.81h3.55v15.84h-3.55zM2048.58 107.81h0.71v15.84h-0.71zM1961.37 535.37h1.42v15.84h-1.42zM1976.26 535.37h1.42v15.84h-1.42zM1982.64 535.37h1.42v15.84h-1.42zM1985.48 535.37h1.42v15.84h-1.42zM1987.84 535.37h0.95v15.84h-0.95zM1990.67 535.37h0.95v15.84h-0.95zM1996.11 535.37h4.25v15.84h-4.25zM2002.73 535.37h0.95v15.84h-0.95zM2005.56 535.37h0.95v15.84h-0.95zM2009.11 535.37h0.95v15.84h-0.95zM2011.95 535.37h0.95v15.84h-0.95zM2020.93 535.37h1.42v15.84h-1.42zM2029.44 535.37h1.42v15.84h-1.42zM2035.11 535.37h3.55v15.84h-3.55zM1958.53 725.39h1.42v15.84h-1.42zM1974.13 725.39h1.42v15.84h-1.42zM1977.20 725.39h0.95v15.84h-0.95zM1980.04 725.39h0.95v15.84h-0.95zM1984.06 725.39h2.13v15.84h-2.13zM1988.31 725.39h2.84v15.84h-2.84zM1992.57 725.39h2.84v15.84h-2.84zM2002.73 725.39h0.95v15.84h-0.95zM2008.40 725.39h0.95v15.84h-0.95zM2011.24 725.39h0.95v15.84h-0.95zM2014.78 725.39h0.95v15.84h-0.95zM2022.35 725.39h2.13v15.84h-2.13zM2029.67 725.39h0.95v15.84h-0.95zM2033.93 725.39h0.95v15.84h-0.95zM2042.91 725.39h2.13v15.84h-2.13zM2046.69 725.39h0.95v15.84h-0.95z" fill="#1264b6"/>
<path d="M1961.60 757.06h0.95v16.59h-0.95zM2034.64 757.06h0.95v16.59h-0.95z" fill="#ade3d1" fill-opacity="0.45"/>
<pattern id="txK" width="9.10" height="15.836" patternUnits="userSpaceOnUse" patternTransform="translate(1960.35 59.95)"><rect x="4.10" y="0" width="5.00" height="15.836" fill="#ffffe6" fill-opacity="0.117"/><rect x="0" y="0" width="4.10" height="0.7" fill="#ffffe6" fill-opacity="0.1"/></pattern>
<rect x="1955.85" y="59.55" width="94.00" height="714.10" fill="url(#txK)"/>
<rect x="1955.90" y="59.80" width="93.90" height="714.50" fill="none" stroke="#000" stroke-width="1.75"/>
</g>
<rect x="1545" y="817" width="15.2" height="20.8" fill="#1665b6"/>
<text x="1565" y="836.4" font-size="23" fill="#000" stroke="#000" stroke-width="0.36">Detected</text>
<rect x="1662" y="817" width="15.7" height="20.8" fill="#abe3d0"/>
<text x="1681.6" y="836.4" font-size="23" fill="#000" stroke="#000" stroke-width="0.36">Not detected</text>
</g>
</svg></body></html>
